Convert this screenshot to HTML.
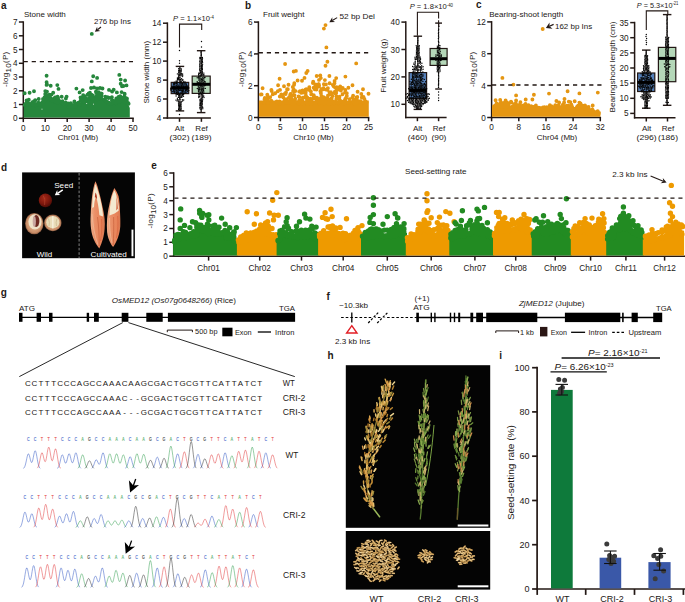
<!DOCTYPE html>
<html lang="en"><head><meta charset="utf-8"><title>Figure</title>
<style>
html,body{margin:0;padding:0;background:#fff}
svg{display:block}
text{font-family:'Liberation Sans', Arial, Helvetica, sans-serif;fill:#231815}
</style></head><body>
<svg width="685" height="602" viewBox="0 0 685 602">
<rect width="685" height="602" fill="#fff"/>
<text x="1" y="8.8" font-size="10" font-weight="bold">a</text>
<text x="24" y="16.9" font-size="8">Stone width</text>
<line x1="23.3" y1="21.3" x2="23.3" y2="119" stroke="#231815" stroke-width="1.5"/>
<line x1="18.9" y1="118.3" x2="23.3" y2="118.3" stroke="#231815" stroke-width="1.5"/>
<text x="17.5" y="121.3" font-size="8.2" text-anchor="end">0</text>
<line x1="18.9" y1="104.5" x2="23.3" y2="104.5" stroke="#231815" stroke-width="1.5"/>
<text x="17.5" y="107.5" font-size="8.2" text-anchor="end">1</text>
<line x1="18.9" y1="90.8" x2="23.3" y2="90.8" stroke="#231815" stroke-width="1.5"/>
<text x="17.5" y="93.8" font-size="8.2" text-anchor="end">2</text>
<line x1="18.9" y1="77" x2="23.3" y2="77" stroke="#231815" stroke-width="1.5"/>
<text x="17.5" y="80" font-size="8.2" text-anchor="end">3</text>
<line x1="18.9" y1="63.3" x2="23.3" y2="63.3" stroke="#231815" stroke-width="1.5"/>
<text x="17.5" y="66.3" font-size="8.2" text-anchor="end">4</text>
<line x1="18.9" y1="49.5" x2="23.3" y2="49.5" stroke="#231815" stroke-width="1.5"/>
<text x="17.5" y="52.5" font-size="8.2" text-anchor="end">5</text>
<line x1="18.9" y1="35.8" x2="23.3" y2="35.8" stroke="#231815" stroke-width="1.5"/>
<text x="17.5" y="38.8" font-size="8.2" text-anchor="end">6</text>
<line x1="18.9" y1="22" x2="23.3" y2="22" stroke="#231815" stroke-width="1.5"/>
<text x="17.5" y="25" font-size="8.2" text-anchor="end">7</text>
<line x1="22.6" y1="118.3" x2="133.8" y2="118.3" stroke="#231815" stroke-width="1.5"/>
<line x1="23.3" y1="118.3" x2="23.3" y2="122.1" stroke="#231815" stroke-width="1.5"/>
<text x="23.3" y="131.2" font-size="8.2" text-anchor="middle">0</text>
<line x1="45.2" y1="118.3" x2="45.2" y2="122.1" stroke="#231815" stroke-width="1.5"/>
<text x="45.2" y="131.2" font-size="8.2" text-anchor="middle">10</text>
<line x1="67.2" y1="118.3" x2="67.2" y2="122.1" stroke="#231815" stroke-width="1.5"/>
<text x="67.2" y="131.2" font-size="8.2" text-anchor="middle">20</text>
<line x1="89.1" y1="118.3" x2="89.1" y2="122.1" stroke="#231815" stroke-width="1.5"/>
<text x="89.1" y="131.2" font-size="8.2" text-anchor="middle">30</text>
<line x1="111.1" y1="118.3" x2="111.1" y2="122.1" stroke="#231815" stroke-width="1.5"/>
<text x="111.1" y="131.2" font-size="8.2" text-anchor="middle">40</text>
<line x1="133" y1="118.3" x2="133" y2="122.1" stroke="#231815" stroke-width="1.5"/>
<text x="133" y="131.2" font-size="8.2" text-anchor="middle">50</text>
<text x="78" y="139.7" font-size="8" text-anchor="middle">Chr01 (Mb)</text>
<text transform="translate(8.1 69.4) rotate(-90)" font-size="8" text-anchor="middle" textLength="35.2" lengthAdjust="spacing">-log<tspan dy="2.4">10</tspan><tspan dy="-2.4">(P)</tspan></text>
<path d="M23.8 117.6L23.8 103L25.8 102.7L27.8 102.4L29.8 102.1L31.8 102.3L33.8 102.6L35.8 102.8L37.8 103.1L39.8 102L41.8 100.7L43.8 99.5L45.8 96.8L47.8 95.4L49.8 96.3L51.8 97.1L53.8 98.2L55.8 99.3L57.8 100.8L59.8 102.4L61.8 103L63.8 103.4L65.8 103.8L67.8 104.3L69.8 104.7L71.8 104.5L73.8 104.2L75.8 104L77.8 103.7L79.8 102.4L81.8 100.9L83.8 99.5L85.8 98.4L87.8 97.3L89.8 96.3L91.8 96.1L93.8 96.1L95.8 96.1L97.8 96.1L99.8 96.1L101.8 97.1L103.8 98.2L105.8 99.3L107.8 100.2L109.8 101.1L111.8 102L113.8 101.2L115.8 100.4L117.8 99.5L119.8 99L121.8 98.7L123.8 98.3L125.8 100.2L127.8 103.6L129.8 107.9L129.8 117.6Z" fill="#26873c"/>
<path d="M71.8 104.8h0M120.9 99.5h0M77.6 103.9h0M44 99.8h0M90.3 93.9h0M34.6 104.3h0M34.2 101.3h0M96.9 99.4h0M127 98.8h0M92.8 95.5h0M41.2 104h0M79.8 105h0M44.6 100.7h0M27.9 103.2h0M70.6 103.5h0M78.8 102.9h0M76.8 103.6h0M72.4 106.1h0M128.6 103.7h0M112.2 101.2h0M57.6 102.7h0M54.8 101.7h0M104.5 99.7h0M112.9 102.9h0M124.5 96.5h0M24.8 104.9h0M119.5 99.8h0M126.8 102.4h0M32.4 102.2h0M105.8 101.2h0M33.8 104.1h0M125.1 98h0M37.1 104.9h0M35.3 105.3h0M107.7 102.5h0M83 100.9h0M44.6 97.1h0M38.4 102.6h0M36.9 104h0M46.9 97.3h0M125.8 98.5h0M56.4 97.3h0M46.7 96.7h0M113.7 100.9h0M35.2 100.2h0M47 97.3h0M105.2 100.5h0M55.6 102h0M34.2 102.7h0M50.1 95.9h0M63.5 104.2h0M124.6 99.5h0M84.6 96.7h0M43.8 102h0M119.3 97.1h0M50.7 99.2h0M101.7 93.6h0M45.2 94.1h0M116.6 99.8h0M68.6 106.7h0M28.8 99.7h0M49.6 94.8h0M51.5 94.6h0M86.8 99.7h0M43 98.9h0M31.9 104.3h0M83 98h0M88.7 98.8h0M120.2 101.3h0M26.5 104.4h0M71.2 107h0M43.1 101.3h0M84.3 101.8h0M62.5 101.3h0M126.8 100.8h0M96.7 95.8h0M39.4 104.9h0M26.6 100.5h0M97.7 92.2h0M27 102.3h0M75 103.4h0M58 97.8h0M32.6 102.7h0M101.5 93.8h0M101.5 95.6h0M107.3 97.3h0M61.4 102.4h0M118.5 96.9h0M68.2 103.4h0M114.6 100.9h0M89.8 97.5h0M85.4 98.2h0M33.1 102.2h0M128.1 103h0M100.5 97.7h0M101.3 96.5h0M70.6 103.5h0M33.5 101.6h0M27.9 102.4h0M74.8 106h0M97.4 96.5h0M88.7 93.5h0M51.4 100.2h0M56.1 98.6h0M45.9 99.3h0M119 98.5h0M70.8 103.1h0M58.8 101.1h0M45.4 98.2h0M108.6 98h0M116.4 101.3h0M85.4 100.3h0M38.9 103.1h0M111.9 100.3h0M98.8 92.3h0M53.6 100.6h0M71.7 106.2h0M47.1 96.1h0M89.9 96.6h0M57.6 98.8h0M127 102.3h0M32.5 105.1h0M115.6 103.3h0M98.5 95.9h0M56.9 98.5h0M26.8 104.9h0M72.1 106.9h0M111.1 103.6h0M39.4 104.9h0M90.2 96.9h0M90.3 95.2h0M108.8 97.8h0M96 98.6h0M74.2 106.2h0M25.9 103.4h0M99.1 98.8h0M53.1 99.3h0M97.3 96.3h0M88.7 95h0M65.7 102.8h0M119.1 102h0M121.8 97.4h0M38.3 103.8h0M89.9 92.8h0M64 103.7h0M116.3 98.5h0M123 99.2h0M92.5 98.6h0M99.9 93.6h0M91.5 94.6h0M47 91.6h0M126.8 98.5h0M80.6 100.4h0M58.1 98.7h0M113.8 102.7h0M33.4 103.4h0M82 99.4h0M75.5 106.5h0M109 103.4h0M108 102.6h0M59.6 101h0M39.4 104.6h0M78.5 102.6h0M112.2 101.3h0M123.2 98.9h0M123.5 101.3h0M47.8 95.5h0M55 97.5h0M91.2 96.3h0M111.9 97.2h0M57.6 96.8h0M112.1 91.5h0M47 84.5h0M124.6 93.8h0M84.3 96.1h0M80.5 97.5h0M87.5 94.7h0M124.7 94h0M66.6 96.6h0M83.2 95.2h0M96.3 92.9h0M80.8 97.9h0M123.4 86h0M53.2 92.8h0M38.7 99h0M109 89.9h0M74.4 101.5h0M45.3 91.1h0M120.2 96.1h0M105.3 96.6h0M45.6 93.4h0M95.9 91.7h0M46.6 75.8h0M46.6 82.2h0M46.6 84.9h0M50.7 85.8h0M57.3 85.1h0M58.5 88.9h0M34 91.2h0M29.6 92.8h0M24.7 93.3h0M61.7 96.8h0M65.9 98.5h0M76.4 88.6h0M79.6 92.4h0M82.7 90.1h0M93.2 76.3h0M97.1 77.9h0M91.8 81.4h0M91 88h0M94 87.5h0M97 88.5h0M100 88h0M102.5 88.5h0M119.3 74.9h0M120.7 79.6h0M125.1 80.5h0M120.7 83.7h0M122 86.3h0M126.5 85.4h0M113.7 89.8h0M116.9 92.4h0M121.6 92.1h0M91.8 33.9h0" stroke="#26873c" stroke-width="3.9" stroke-linecap="round" fill="none"/>
<line x1="23.6" y1="61.6" x2="133" y2="61.6" stroke="#231815" stroke-width="1.45" stroke-dasharray="4.2 3.9"/>
<text x="94" y="23.9" font-size="8" textLength="36.9" lengthAdjust="spacingAndGlyphs">276 bp Ins</text>
<line x1="101" y1="27" x2="97.5" y2="29.7" stroke="#231815" stroke-width="1.1"/>
<polygon points="94.9,31.8 97.1,26.7 97.5,29.7 100.4,30.9" fill="#231815"/>
<path d="M42 109.2h0M93.6 104.2h0M60.8 98.9h0M86.7 103.5h0" stroke="#fff" stroke-width="0.9" stroke-linecap="round" fill="none"/>
<line x1="167.4" y1="22.4" x2="167.4" y2="118.8" stroke="#231815" stroke-width="1.5"/>
<line x1="163" y1="118" x2="167.4" y2="118" stroke="#231815" stroke-width="1.5"/>
<text x="161.3" y="121" font-size="8.2" text-anchor="end">4</text>
<line x1="163" y1="99" x2="167.4" y2="99" stroke="#231815" stroke-width="1.5"/>
<text x="161.3" y="102" font-size="8.2" text-anchor="end">6</text>
<line x1="163" y1="80.1" x2="167.4" y2="80.1" stroke="#231815" stroke-width="1.5"/>
<text x="161.3" y="83" font-size="8.2" text-anchor="end">8</text>
<line x1="163" y1="61.1" x2="167.4" y2="61.1" stroke="#231815" stroke-width="1.5"/>
<text x="161.3" y="64.1" font-size="8.2" text-anchor="end">10</text>
<line x1="163" y1="42.2" x2="167.4" y2="42.2" stroke="#231815" stroke-width="1.5"/>
<text x="161.3" y="45.1" font-size="8.2" text-anchor="end">12</text>
<line x1="163" y1="23.2" x2="167.4" y2="23.2" stroke="#231815" stroke-width="1.5"/>
<text x="161.3" y="26.2" font-size="8.2" text-anchor="end">14</text>
<line x1="166.7" y1="118" x2="210.9" y2="118" stroke="#231815" stroke-width="1.5"/>
<line x1="179.5" y1="118" x2="179.5" y2="121.8" stroke="#231815" stroke-width="1.5"/>
<line x1="201.4" y1="118" x2="201.4" y2="121.8" stroke="#231815" stroke-width="1.5"/>
<text transform="translate(148.6 72.2) rotate(-90)" font-size="8" text-anchor="middle">Stone width (mm)</text>
<line x1="179.9" y1="66.4" x2="179.9" y2="82.4" stroke="#231815" stroke-width="1.0"/>
<line x1="179.9" y1="93.6" x2="179.9" y2="110.9" stroke="#231815" stroke-width="1.0"/>
<line x1="175.7" y1="66.4" x2="184.2" y2="66.4" stroke="#231815" stroke-width="1.4"/>
<line x1="175.7" y1="110.9" x2="184.2" y2="110.9" stroke="#231815" stroke-width="1.4"/>
<rect x="171.2" y="82.4" width="17.5" height="11.2" fill="#5580b9" stroke="#231815" stroke-width="1.2"/>
<path d="M179.9 67h0M178.6 68.8h0M180 68.6h0M181.4 69h0M178.7 70.5h0M179.9 70h0M181.2 70.4h0M178.6 72h0M179.9 71.2h0M181.2 71.7h0M178.6 73.1h0M180 72.6h0M181.3 73.4h0M177.4 73.9h0M178.7 74.7h0M180.1 73.9h0M181.2 74.5h0M182.6 74h0M178.5 75.9h0M179.8 75.3h0M181.2 75.8h0M182.7 75.3h0M178.5 77.2h0M182.6 76.6h0M177.4 78h0M178.4 78.5h0M179.9 77.8h0M181.5 78.6h0M177.4 79.3h0M178.5 79.8h0M179.9 79.4h0M181 79.5h0M182.8 79.4h0M176 81.3h0M177.2 80.7h0M180 80.7h0M181.3 81.3h0M182.4 80.6h0M183.7 81.2h0M174.3 82.2h0M176.1 82.5h0M177.3 81.9h0M178.5 82.6h0M180.2 82h0M181.1 82.6h0M183.8 82.4h0M185.1 81.9h0M173.4 83.8h0M174.7 83.5h0M176 83.8h0M177.2 83.3h0M179.9 83.5h0M181.3 83.8h0M182.4 83.5h0M183.9 83.8h0M185.2 83.3h0M186.5 83.9h0M173.5 85h0M174.6 84.6h0M176.1 85.4h0M177.2 84.7h0M178.6 85.1h0M180 84.8h0M181.2 85.2h0M182.5 84.7h0M183.8 85.3h0M185.1 84.8h0M186.5 85.3h0M172 86.1h0M173.5 86.6h0M174.6 86.1h0M176 86.6h0M177.4 86.2h0M178.3 86.5h0M179.7 86.2h0M181.2 86.6h0M182.2 86h0M183.7 86.5h0M185.2 86.1h0M186.4 86.6h0M187.8 86h0M170.7 88.2h0M172.4 87.4h0M173.4 88.2h0M174.6 87.5h0M175.9 88h0M177.4 87.5h0M178.5 88.1h0M180 87.5h0M181.4 87.9h0M182.5 87.5h0M183.8 88.1h0M185 87.3h0M186.5 88.1h0M187.6 87.4h0M188.9 87.9h0M170.8 89.3h0M171.8 88.9h0M173.4 89.3h0M174.6 88.9h0M175.9 89.2h0M177.2 88.9h0M178.6 89.4h0M180.1 88.9h0M181.1 89.3h0M182.6 88.8h0M183.7 89.3h0M185.2 88.9h0M186.5 89.3h0M187.7 88.7h0M171 90.6h0M173.4 90.8h0M174.7 90.1h0M176.1 90.6h0M177.2 90.2h0M178.7 90.7h0M179.9 90.2h0M181.2 90.4h0M182.4 90.2h0M183.5 90.7h0M185.3 90.2h0M186.3 90.6h0M187.5 90.1h0M188.9 90.6h0M172.2 91.6h0M173.4 91.9h0M174.7 91.5h0M176.1 92h0M177.3 91.7h0M178.5 92.2h0M181.3 92h0M182.5 91.4h0M184 92h0M185.2 91.6h0M186.4 92.1h0M187.6 91.6h0M174.6 92.7h0M176.1 93.3h0M177.1 92.8h0M178.6 93.4h0M180.1 92.9h0M181.2 93.3h0M182.6 92.8h0M183.7 93.4h0M185.2 92.9h0M176.1 94.8h0M177.4 94.3h0M178.6 94.7h0M179.7 94.4h0M181.1 94.6h0M182.6 94.3h0M183.7 94.6h0M176.1 96.1h0M178.7 96h0M179.8 95.6h0M181.2 96h0M182.4 95.3h0M183.5 96.2h0M178.6 97.4h0M180 96.9h0M181.2 97.4h0M182.2 96.9h0M177.4 98.3h0M179.8 98.3h0M175.9 100.1h0M177.4 99.6h0M178.3 100h0M180 99.5h0M182.3 99.6h0M183.7 100h0M177.1 101h0M178.7 101.5h0M181.2 101.4h0M182.6 101h0M178.5 102.9h0M179.9 102.3h0M181.2 102.8h0M178.6 104.2h0M180 103.7h0M181.1 104.3h0M178.7 105.4h0M179.9 104.9h0M181 105.6h0M178.8 106.8h0M179.9 106.3h0M181.2 106.8h0M178.7 108.2h0M179.9 107.8h0M181.2 108.2h0M178.6 109.5h0M180 109.1h0M181.1 109.7h0M179.8 110.4h0M179.5 50.5h0M179.5 60.8h0M179.5 63.2h0M179.5 114.5h0" stroke="#050505" stroke-width="1.4" stroke-linecap="round" fill="none"/>
<line x1="171.2" y1="87.8" x2="188.7" y2="87.8" stroke="#000" stroke-width="3.0"/>
<line x1="201.2" y1="50.7" x2="201.2" y2="76.1" stroke="#231815" stroke-width="1.0"/>
<line x1="201.2" y1="93.4" x2="201.2" y2="112.6" stroke="#231815" stroke-width="1.0"/>
<line x1="196.9" y1="50.7" x2="205.4" y2="50.7" stroke="#231815" stroke-width="1.4"/>
<line x1="196.9" y1="112.6" x2="205.4" y2="112.6" stroke="#231815" stroke-width="1.4"/>
<rect x="192.2" y="76.1" width="18" height="17.3" fill="#b4d7b8" stroke="#231815" stroke-width="1.2"/>
<path d="M201.1 51.6h0M201 52.8h0M201.3 54.3h0M201.2 55.4h0M199.9 57.4h0M201.1 57.1h0M202.4 57.4h0M199.9 58.5h0M200.9 58.2h0M202.5 58.7h0M199.9 60.1h0M201.2 59.6h0M202.4 60h0M199.8 61.5h0M201.2 61h0M202.4 61.4h0M199.9 62.9h0M201.2 62.6h0M202.6 62.6h0M199.8 64.2h0M201.3 63.5h0M202.6 64.2h0M199.8 65.3h0M201.3 65.2h0M202.4 65.6h0M199.7 66.7h0M201.2 66.4h0M202.3 66.8h0M199.8 68.3h0M201.3 67.7h0M202.4 68.3h0M199.6 69.7h0M201.3 68.8h0M202.4 69.4h0M199.9 70.8h0M201 70.3h0M202.4 70.9h0M200 72.3h0M201 71.7h0M202.5 72.2h0M198.6 73.1h0M199.8 73.4h0M201.1 72.9h0M202.4 73.6h0M203.9 73.1h0M198.6 74.5h0M200 75.1h0M201.3 74.4h0M202.6 75h0M203.8 74.4h0M198.6 75.9h0M200 76.3h0M201.2 75.7h0M203.9 75.6h0M197.2 77.7h0M198.6 77.2h0M200 77.6h0M202.3 77.6h0M203.9 77.3h0M205 77.5h0M198.8 78.3h0M200 78.9h0M201.2 78.7h0M202.4 79h0M203.8 78.5h0M198.8 80h0M200 80.2h0M201.5 79.7h0M202.6 80.3h0M203.9 79.9h0M197.2 81.6h0M199.8 81.7h0M201.1 81.1h0M202.2 81.7h0M204 81.3h0M205.1 81.7h0M197.3 82.8h0M198.6 82.7h0M199.9 82.9h0M201.1 82.7h0M202.6 83.1h0M203.8 82.5h0M205.2 83.1h0M195.8 84.1h0M198.6 83.9h0M199.9 84.4h0M201.1 83.9h0M202.6 84.4h0M203.7 83.9h0M206.6 83.9h0M198.6 85.1h0M200 85.7h0M201.2 85.3h0M202.3 85.9h0M203.9 85.2h0M205.1 85.5h0M198.3 86.7h0M199.9 87.2h0M201.1 86.6h0M202.6 87.1h0M203.9 86.6h0M197.3 88.5h0M198.8 87.9h0M199.9 88.7h0M201.3 88h0M202.5 88.6h0M203.8 87.9h0M205.3 88.4h0M198.5 89.2h0M199.7 89.8h0M201.2 89.4h0M202.3 89.8h0M203.6 89.3h0M198.5 90.7h0M199.9 91.1h0M201.3 90.7h0M202.6 91.2h0M203.6 90.5h0M198.5 91.8h0M200 92.5h0M201.2 92h0M202.5 92.4h0M203.9 92h0M198.7 93.4h0M199.8 93.8h0M201.2 93.4h0M202.7 94.1h0M203.8 93.5h0M198.7 94.6h0M199.8 95.1h0M201.3 94.6h0M202.5 95.2h0M198.6 96.1h0M199.7 96.6h0M202.6 96.7h0M203.7 96h0M198.8 97.5h0M202.3 97.7h0M204 97.5h0M200 99.4h0M201.2 98.8h0M202.7 99.3h0M200 100.5h0M201.2 100.2h0M202.5 100.8h0M200 102h0M201.3 101.5h0M202.4 101.8h0M200 103.4h0M201.1 102.7h0M202.3 103.2h0M199.9 104.8h0M200.9 104.1h0M202.3 104.6h0M199.9 105.8h0M201.2 105.5h0M202.5 106.1h0M199.9 107.5h0M201 106.7h0M202.7 107.5h0M200 108.8h0M201.3 108.1h0M202.8 108.8h0M201.1 109.4h0M201.1 110.9h0M201.5 41.5h0M201.5 47h0" stroke="#050505" stroke-width="1.4" stroke-linecap="round" fill="none"/>
<line x1="192.2" y1="84.3" x2="210.2" y2="84.3" stroke="#000" stroke-width="3.0"/>
<path d="M179.5 47.4V24.1H201.7V29.9" fill="none" stroke="#231815" stroke-width="1.1"/>
<text x="173" y="21.4" font-size="8" textLength="40.8" lengthAdjust="spacingAndGlyphs"><tspan font-style="italic">P</tspan> = 1.1×10<tspan dy="-2.3" font-size="4.5">-4</tspan></text>
<text x="179.5" y="130.8" font-size="8" text-anchor="middle">Alt</text>
<text x="179.5" y="140.3" font-size="8" text-anchor="middle" textLength="20" lengthAdjust="spacingAndGlyphs">(302)</text>
<text x="201.6" y="130.8" font-size="8" text-anchor="middle">Ref</text>
<text x="201.6" y="140.3" font-size="8" text-anchor="middle" textLength="20" lengthAdjust="spacingAndGlyphs">(189)</text>
<text x="245" y="8.8" font-size="10" font-weight="bold">b</text>
<text x="263" y="16.9" font-size="8" textLength="41.5" lengthAdjust="spacingAndGlyphs">Fruit weight</text>
<line x1="258.4" y1="21.3" x2="258.4" y2="118.2" stroke="#231815" stroke-width="1.5"/>
<line x1="254" y1="117.5" x2="258.4" y2="117.5" stroke="#231815" stroke-width="1.5"/>
<text x="252.6" y="120.5" font-size="8.2" text-anchor="end">0</text>
<line x1="254" y1="85.7" x2="258.4" y2="85.7" stroke="#231815" stroke-width="1.5"/>
<text x="252.6" y="88.7" font-size="8.2" text-anchor="end">2</text>
<line x1="254" y1="53.9" x2="258.4" y2="53.9" stroke="#231815" stroke-width="1.5"/>
<text x="252.6" y="56.9" font-size="8.2" text-anchor="end">4</text>
<line x1="254" y1="22.1" x2="258.4" y2="22.1" stroke="#231815" stroke-width="1.5"/>
<text x="252.6" y="25.1" font-size="8.2" text-anchor="end">6</text>
<line x1="257.6" y1="117.5" x2="369.3" y2="117.5" stroke="#231815" stroke-width="1.5"/>
<line x1="258.4" y1="117.5" x2="258.4" y2="121.3" stroke="#231815" stroke-width="1.5"/>
<text x="258.4" y="130.4" font-size="8.2" text-anchor="middle">0</text>
<line x1="280.4" y1="117.5" x2="280.4" y2="121.3" stroke="#231815" stroke-width="1.5"/>
<text x="280.4" y="130.4" font-size="8.2" text-anchor="middle">5</text>
<line x1="302.5" y1="117.5" x2="302.5" y2="121.3" stroke="#231815" stroke-width="1.5"/>
<text x="302.5" y="130.4" font-size="8.2" text-anchor="middle">10</text>
<line x1="324.5" y1="117.5" x2="324.5" y2="121.3" stroke="#231815" stroke-width="1.5"/>
<text x="324.5" y="130.4" font-size="8.2" text-anchor="middle">15</text>
<line x1="346.6" y1="117.5" x2="346.6" y2="121.3" stroke="#231815" stroke-width="1.5"/>
<text x="346.6" y="130.4" font-size="8.2" text-anchor="middle">20</text>
<line x1="368.6" y1="117.5" x2="368.6" y2="121.3" stroke="#231815" stroke-width="1.5"/>
<text x="368.6" y="130.4" font-size="8.2" text-anchor="middle">25</text>
<text x="313.5" y="139.7" font-size="8" text-anchor="middle">Chr10 (Mb)</text>
<text transform="translate(243.5 69.4) rotate(-90)" font-size="8" text-anchor="middle" textLength="35.2" lengthAdjust="spacing">-log<tspan dy="2.4">10</tspan><tspan dy="-2.4">(P)</tspan></text>
<path d="M258.9 116.8L258.9 100.6L260.9 100.6L262.9 100.6L264.9 100.6L266.9 100.6L268.9 100.6L270.9 100.6L272.9 100.6L274.9 100.6L276.9 100.6L278.9 100.6L280.9 100.6L282.9 100.6L284.9 100.6L286.9 100.6L288.9 100.6L290.9 100.6L292.9 100.6L294.9 100.6L296.9 100.6L298.9 100.6L300.9 100.6L302.9 100.6L304.9 100.6L306.9 100.6L308.9 100.6L310.9 100.6L312.9 100.6L314.9 100.6L316.9 100.6L318.9 100.6L320.9 100.6L322.9 100.6L324.9 100.6L326.9 100.6L328.9 100.6L330.9 100.6L332.9 100.6L334.9 100.6L336.9 100.6L338.9 100.6L340.9 100.6L342.9 100.6L344.9 100.6L346.9 100.6L348.9 100.6L350.9 100.6L352.9 100.6L354.9 100.6L356.9 100.6L358.9 100.6L360.9 100.6L362.9 100.6L364.9 100.6L366.9 100.6L368.8 100.6L368.8 116.8Z" fill="#e59612"/>
<path d="M286.9 99.1h0M307 99.5h0M317 101.8h0M328 95.5h0M352.4 97.6h0M294 91.5h0M355.7 102.7h0M338.3 103.2h0M345.1 100.4h0M333.8 102h0M314.5 96.9h0M333.9 103.3h0M271.3 100.6h0M315.5 102.6h0M279.8 96.5h0M270.2 97.1h0M295.2 98.7h0M306.3 103.6h0M339.7 102.3h0M346.8 93.2h0M334.9 91.6h0M310.5 100h0M328.8 101.3h0M321.4 98.6h0M365.7 101.5h0M339.6 99.8h0M300.4 102.1h0M328.7 103.2h0M324.4 103.5h0M360.3 101.2h0M325.9 84.4h0M305.3 96.8h0M299.3 97h0M320.4 91.2h0M291.8 101.9h0M264.5 99.3h0M340.7 89.1h0M361.8 97.5h0M306.2 89.1h0M309.1 103.5h0M316.9 97.8h0M332 101h0M322.7 89.4h0M285.6 94.1h0M298.6 96.5h0M320.9 93.3h0M341.2 101.9h0M354.7 103.5h0M289.1 97.3h0M267.7 99.8h0M319.3 99h0M311.5 100.1h0M267.9 98.6h0M327.2 101.6h0M305.7 92.8h0M319.1 85.5h0M306 103.2h0M354.4 103.5h0M320.8 92h0M331.3 100.2h0M290.4 100.8h0M338.2 103h0M336.4 88.7h0M292.8 100.1h0M286.7 101h0M299.1 100.6h0M318.6 84.2h0M330.2 103.3h0M318.9 103.2h0M356.9 99.5h0M329.9 101.5h0M342.5 94.3h0M302.4 90.8h0M332.5 95.9h0M316.4 89.5h0M305.4 102.8h0M300.4 102.5h0M305.7 89.4h0M343.6 103.5h0M309.4 89.3h0M263.8 103.1h0M283.3 97.4h0M324.1 102h0M290.2 94.8h0M312 103.5h0M315.6 84.6h0M330.9 103.6h0M310.9 91.4h0M336.9 102.6h0M315.6 84.5h0M337.2 98.2h0M323.2 100.2h0M345.1 92.4h0M316.6 88.6h0M293.5 103.4h0M292.9 95.2h0M336.5 96.5h0M309.3 87.3h0M346.2 97.7h0M291.2 98.2h0M292.1 100.2h0M331.8 101.9h0M338.8 89.3h0M320.6 99.7h0M349.1 103.1h0M336.3 99.3h0M276.8 101.4h0M306 95.8h0M301.5 100.2h0M325.6 99.7h0M314.9 89.4h0M325.9 89.6h0M327.6 103.2h0M335.1 87.6h0M298.9 103.1h0M320.4 100.9h0M349.6 99.3h0M268.1 103.1h0M330.9 92.3h0M339.5 96.7h0M346.6 102.6h0M310.4 99.6h0M321.4 95.9h0M324.7 98.1h0M327.2 89.7h0M341 89.2h0M304 97.6h0M316.5 86.7h0M294.5 95.2h0M324.4 100.1h0M323.9 102.7h0M308.1 99.7h0M316.7 100.3h0M302.6 103.4h0M331.7 98.1h0M346.8 95.9h0M321.1 103h0M345.4 98.7h0M362.5 102.9h0M292.2 103.4h0M302.8 97.6h0M264.8 98h0M293.1 91.1h0M282.2 95h0M356.7 97.3h0M298.1 102.7h0M265.3 99.5h0M281.1 102.6h0M331.6 99.1h0M331.3 94.4h0M284.6 93.9h0M331.9 93.4h0M307.4 97.6h0M290.6 93.9h0M341.5 101.5h0M319 86.2h0M366.5 102.5h0M340.9 90.5h0M313.8 96h0M329.5 92.3h0M333.7 86.2h0M345.3 99.3h0M313.7 95.1h0M337 90.1h0M279.3 103.6h0M313.4 98.3h0M321.3 89.1h0M285.6 101.7h0M326.9 100.8h0M323.4 88.2h0M278.4 103.1h0M344.8 100.3h0M299.2 91.6h0M340.3 101.9h0M356 101.6h0M292.1 103.4h0M284.7 99.2h0M325.8 98.3h0M330 99.4h0M323.6 97.1h0M277.6 102.8h0M310.4 98.6h0M353 101.5h0M299 103.6h0M279.5 101.4h0M288.9 102.9h0M357.8 102.2h0M301.4 92.9h0M315.9 98.8h0M285.6 103h0M324.1 100h0M305.7 102.9h0M336.2 93h0M331.8 101.8h0M303.6 92.4h0M284.3 101.5h0M283.2 103.6h0M327.9 88.3h0M353.6 99.1h0M302.2 100.5h0M295.3 101.7h0M311.2 94.2h0M285.8 101.4h0M305.5 97.1h0M335.6 93.4h0M299.2 100.4h0M323.1 99.8h0M287.2 101.2h0M326.3 99.1h0M322.1 89.6h0M327.6 98.1h0M304.7 92.7h0M357.3 97h0M275.2 93.2h0M293.6 89.2h0M364.4 99h0M281.3 94.4h0M332.9 85h0M260.9 94.5h0M302.6 90.5h0M313.2 81.6h0M319 79.9h0M320.3 75.4h0M363.5 97h0M297.6 80.5h0M294.1 84.8h0M334.6 81h0M363 89.3h0M277.8 91.2h0M312.9 83h0M300 91.2h0M340.2 86.4h0M286 92.4h0M295.3 91h0M315.3 85.8h0M267.6 98h0M271.7 91.1h0M272.8 94.3h0M342.7 88h0M278.1 85.3h0M353.1 95.8h0M287.8 89.3h0M345.3 90h0M336.7 87.3h0M325.5 25.1h0M323.9 28.6h0M326.4 47.4h0M327.4 61.7h0M325.5 65.8h0M285.1 64h0M356.2 63.4h0M293.7 71.5h0M295.9 70.9h0M307.6 70.9h0M306.3 73h0M279.6 78.7h0M304.5 77.9h0M302 80.7h0M262.6 88.3h0M271.4 89.9h0M280 89.9h0M267.3 94.8h0M261.6 94.4h0M284 86.2h0M288.5 84.8h0M294.3 83.2h0M292.8 86.9h0M287.1 89.3h0M316.7 76h0M320.8 78.1h0M324.9 80.1h0M323.9 84.2h0M329.4 76h0M336.2 78.1h0M334.5 83.2h0M345.4 76.6h0M352.5 85.2h0M348.4 87.7h0M357.6 91.8h0M361.3 94h0M368.5 93.8h0M341.3 88.9h0M329.6 83.2h0M318.8 84.2h0M313.7 87.7h0M308.6 89.7h0M303.5 92.4h0" stroke="#e59612" stroke-width="3.9" stroke-linecap="round" fill="none"/>
<line x1="258.7" y1="52.7" x2="368.5" y2="52.7" stroke="#231815" stroke-width="1.45" stroke-dasharray="4.2 3.9"/>
<text x="339.4" y="18.9" font-size="8" textLength="35.5" lengthAdjust="spacingAndGlyphs">52 bp Del</text>
<line x1="337.2" y1="17.6" x2="332.3" y2="20.5" stroke="#231815" stroke-width="1.1"/>
<polygon points="329.3,22.3 332.3,17.3 332.3,20.5 335.1,22.1" fill="#231815"/>
<line x1="405.8" y1="21.3" x2="405.8" y2="118.2" stroke="#231815" stroke-width="1.5"/>
<line x1="401.4" y1="104.3" x2="405.8" y2="104.3" stroke="#231815" stroke-width="1.5"/>
<text x="399.7" y="107.3" font-size="8.2" text-anchor="end">10</text>
<line x1="401.4" y1="76.9" x2="405.8" y2="76.9" stroke="#231815" stroke-width="1.5"/>
<text x="399.7" y="79.9" font-size="8.2" text-anchor="end">20</text>
<line x1="401.4" y1="49.5" x2="405.8" y2="49.5" stroke="#231815" stroke-width="1.5"/>
<text x="399.7" y="52.5" font-size="8.2" text-anchor="end">30</text>
<line x1="401.4" y1="22.1" x2="405.8" y2="22.1" stroke="#231815" stroke-width="1.5"/>
<text x="399.7" y="25.1" font-size="8.2" text-anchor="end">40</text>
<line x1="405.1" y1="117.4" x2="446.6" y2="117.4" stroke="#231815" stroke-width="1.5"/>
<line x1="417.4" y1="117.4" x2="417.4" y2="121.2" stroke="#231815" stroke-width="1.5"/>
<line x1="438.6" y1="117.4" x2="438.6" y2="121.2" stroke="#231815" stroke-width="1.5"/>
<text transform="translate(386.4 65.8) rotate(-90)" font-size="8" text-anchor="middle" textLength="54" lengthAdjust="spacingAndGlyphs">Fruit weight (g)</text>
<line x1="417.8" y1="36.2" x2="417.8" y2="72.6" stroke="#231815" stroke-width="1.0"/>
<line x1="417.8" y1="98.5" x2="417.8" y2="109.4" stroke="#231815" stroke-width="1.0"/>
<line x1="413.6" y1="36.2" x2="422.1" y2="36.2" stroke="#231815" stroke-width="1.4"/>
<line x1="413.6" y1="109.4" x2="422.1" y2="109.4" stroke="#231815" stroke-width="1.4"/>
<rect x="409.1" y="72.6" width="17.5" height="25.9" fill="#5580b9" stroke="#231815" stroke-width="1.2"/>
<path d="M418 37.1h0M417.8 38.3h0M417.9 39.9h0M417.9 41h0M417.7 42.4h0M417.7 43.7h0M416.2 45.6h0M417.9 45.1h0M419.3 45.7h0M416.5 46.9h0M417.9 46.4h0M419 47h0M416.6 48.3h0M417.8 47.9h0M419.2 48.3h0M416.6 49.6h0M417.9 49h0M419.1 49.7h0M416.4 51h0M417.9 50.4h0M419 51h0M416.5 52.5h0M417.8 51.7h0M419.2 52.4h0M416.5 53.7h0M417.9 53.2h0M419.1 53.7h0M416.3 54.9h0M417.9 54.7h0M419.2 55.1h0M416.5 56.4h0M417.8 55.8h0M419.1 56.3h0M415 57.3h0M416.5 57.8h0M417.9 57.3h0M419.2 57.7h0M420.4 57.1h0M415.1 58.8h0M416.3 59.2h0M417.7 58.7h0M419.1 59h0M420.5 58.7h0M415.2 59.8h0M417.7 60h0M419.3 60.4h0M420.5 59.8h0M415.2 61.4h0M417.6 61.2h0M419 61.8h0M420.3 61.4h0M413.9 63.1h0M415.2 62.6h0M419.2 63.2h0M420.4 62.5h0M421.9 63.2h0M414 64.4h0M415.3 63.9h0M417.9 64h0M420.5 64.1h0M415.1 65.5h0M416.6 66.1h0M417.8 65.3h0M419 65.9h0M421.7 65.7h0M412.6 66.5h0M413.9 67.1h0M415.1 66.5h0M416.4 67.2h0M417.8 66.9h0M419.2 67.3h0M420.4 66.7h0M421.7 67.2h0M423.1 66.7h0M414.1 68.6h0M415.3 68h0M416.6 68.6h0M420.4 67.9h0M421.4 68.6h0M412.7 69.5h0M413.9 69.8h0M415.2 69.4h0M416.5 70h0M418 69.5h0M419 70.1h0M420.3 69.5h0M421.7 69.9h0M423.1 69.3h0M413.8 71.3h0M415.2 70.9h0M417.8 70.8h0M420.5 70.7h0M412.7 72.1h0M413.8 72.5h0M416.4 72.7h0M417.8 72.1h0M419.1 72.7h0M420.3 72.1h0M421.8 72.5h0M422.9 72h0M412.7 73.5h0M413.9 74h0M415.1 73.4h0M416.5 73.9h0M417.8 73.2h0M421.7 74.1h0M412.5 74.9h0M414 75.1h0M415.2 74.7h0M416.4 75.4h0M417.9 74.7h0M419.4 75.2h0M420.7 74.5h0M421.7 75.1h0M423 74.9h0M412.5 76.2h0M413.7 76.7h0M415.2 76.2h0M416.5 76.6h0M417.7 76.1h0M419.1 76.6h0M420.3 76.1h0M421.8 76.7h0M423 76.1h0M412.6 77.4h0M414 78h0M415.3 77.5h0M416.6 78h0M417.8 77.3h0M419.1 77.9h0M420.4 77.5h0M421.7 77.9h0M411.4 79.2h0M412.7 78.8h0M413.8 79.3h0M416.4 79.4h0M418.9 79.5h0M420.5 78.7h0M421.6 79.4h0M422.8 78.7h0M424.3 79.4h0M412.6 80.2h0M413.9 80.8h0M415.1 80.2h0M416.6 80.9h0M417.6 80.1h0M418.9 80.7h0M420.4 80.2h0M421.6 80.7h0M409.9 81.6h0M411.3 82.2h0M412.5 81.5h0M413.7 82.1h0M415.3 81.6h0M416.5 82.1h0M417.9 81.6h0M419.2 82.1h0M420.2 81.7h0M422.9 81.4h0M425.6 81.8h0M411.2 83.4h0M412.5 82.8h0M413.7 83.4h0M415.2 82.9h0M416.4 83.3h0M417.7 83h0M419 83.2h0M420.4 82.7h0M421.6 83.3h0M424.3 83.5h0M410 84.1h0M411.2 84.8h0M412.5 84.4h0M414.1 84.8h0M415 84.2h0M416.6 84.8h0M417.7 84h0M419.1 84.7h0M420.6 84.1h0M421.6 84.9h0M422.9 84.1h0M424.2 84.5h0M425.4 84.3h0M411.2 86.2h0M414 86.1h0M415.2 85.5h0M416.3 86h0M417.8 85.7h0M419.2 86.1h0M420.3 85.8h0M421.6 86.2h0M422.9 85.5h0M424.2 86.1h0M425.6 85.6h0M409.8 86.9h0M411.3 87.4h0M412.6 87h0M414.1 87.4h0M415.2 86.9h0M416.2 87.5h0M418 87.2h0M419.1 87.5h0M420.3 86.9h0M421.8 87.4h0M423 86.9h0M424.4 87.5h0M425.5 86.9h0M408.6 88.8h0M410.1 88.3h0M411.5 88.8h0M412.6 88.4h0M414 89h0M415.2 88.3h0M416.4 88.8h0M418 88.4h0M419.1 88.8h0M420.5 88.2h0M421.7 88.8h0M423.1 88.4h0M424.4 88.7h0M425.8 88.5h0M426.7 88.8h0M409.9 89.9h0M411.5 90.1h0M413.8 90h0M415.3 89.7h0M416.5 90.2h0M417.7 89.7h0M419.3 90.1h0M420.4 89.6h0M421.8 90.2h0M423 89.5h0M424.3 90h0M425.6 89.7h0M410.1 91h0M411.3 91.7h0M412.7 91.2h0M414 91.5h0M415.1 90.9h0M416.4 91.6h0M417.6 91h0M419.2 91.5h0M420.6 90.9h0M421.7 91.3h0M422.9 91h0M425.6 91.1h0M411.2 92.9h0M412.8 92.3h0M414 92.8h0M415.1 92.3h0M416.4 92.7h0M417.8 92.3h0M419.1 92.8h0M420.2 92.6h0M421.5 92.9h0M423 92.4h0M424.2 92.8h0M425.4 92.2h0M406 94.3h0M407.4 93.6h0M408.8 94.2h0M409.8 93.7h0M411.3 94.2h0M412.6 93.7h0M413.9 94h0M415.3 93.8h0M416.4 94.1h0M418 93.7h0M418.8 94h0M420.4 93.6h0M421.7 94.3h0M422.8 93.6h0M424.1 94.2h0M425.5 93.7h0M426.9 94.2h0M428.1 93.8h0M429.3 94.2h0M408.7 95.4h0M410 95h0M411.5 95.4h0M412.7 94.9h0M413.8 95.7h0M415.3 95h0M416.6 95.7h0M419.1 95.6h0M420.2 95.1h0M421.7 95.6h0M423.1 95.3h0M424.3 95.5h0M425.7 95h0M426.7 95.4h0M407.4 96.5h0M411.3 97h0M413.9 96.8h0M415 96.4h0M416.4 96.8h0M417.8 96.4h0M419.1 96.9h0M420.2 96.3h0M421.7 96.9h0M423 96.3h0M424.1 97.1h0M425.7 96.7h0M426.9 97h0M428.1 96.5h0M406 98.2h0M407.3 97.7h0M408.9 98.4h0M410 97.8h0M411.4 98.2h0M412.8 97.7h0M413.8 98.3h0M415.2 97.8h0M416.4 98.2h0M417.8 97.8h0M419.2 98.3h0M420.4 97.7h0M422 98.2h0M423.1 97.7h0M424.2 98.3h0M425.6 97.7h0M426.9 98.1h0M429.4 98.3h0M408.9 99.4h0M409.9 99h0M411.3 99.5h0M412.7 99.1h0M413.8 99.7h0M415.7 99h0M416.5 99.6h0M419.2 99.5h0M420.5 99.1h0M421.8 99.7h0M423.1 99.2h0M424.4 99.5h0M425.6 98.9h0M426.8 99.6h0M428.3 99h0M407.5 100.5h0M408.7 100.9h0M409.9 100.5h0M411.4 100.9h0M412.5 100.5h0M413.9 101h0M415.4 100.3h0M416.4 101h0M417.9 100.6h0M419.1 101.1h0M420.3 100.4h0M421.6 100.9h0M422.9 100.5h0M424.4 100.9h0M425.4 100.4h0M426.9 101.2h0M428.2 100.4h0M408.7 102.4h0M410.1 101.8h0M411.2 102.3h0M412.7 101.8h0M413.6 102.5h0M415.3 101.7h0M416.3 102.4h0M418.1 102h0M419.1 102.3h0M420.6 101.8h0M421.5 102.4h0M423 101.8h0M424.5 102.3h0M425.6 101.8h0M426.8 102.3h0M410 103h0M411.2 103.7h0M412.5 103.2h0M413.9 103.6h0M415.2 103.1h0M416.5 103.6h0M417.7 103.2h0M419.2 103.5h0M420.4 103.3h0M421.8 103.8h0M423 103.4h0M424.1 103.4h0M425.5 103.1h0M412.8 104.5h0M413.8 104.9h0M415.1 104.4h0M416.3 105.1h0M417.9 104.6h0M419.4 104.8h0M420.4 104.7h0M421.7 105.1h0M423.1 104.6h0M414 106.5h0M415.5 105.7h0M416.5 106.5h0M417.9 105.8h0M419.1 106.2h0M420.4 105.9h0M421.7 106.3h0M415 107.3h0M416.5 107.7h0M417.8 107.1h0M419 107.7h0M420.7 107.3h0M416.5 108.9h0M417.8 108.5h0M419.1 109.1h0M420.4 108.5h0" stroke="#050505" stroke-width="1.4" stroke-linecap="round" fill="none"/>
<line x1="409.1" y1="90.4" x2="426.6" y2="90.4" stroke="#000" stroke-width="3.0"/>
<line x1="438.6" y1="23.1" x2="438.6" y2="48.5" stroke="#231815" stroke-width="1.0" stroke-dasharray="1.6 1.4"/>
<line x1="438.6" y1="65.4" x2="438.6" y2="89" stroke="#231815" stroke-width="1.0" stroke-dasharray="1.6 1.4"/>
<line x1="435.2" y1="23.1" x2="442" y2="23.1" stroke="#231815" stroke-width="1.4"/>
<line x1="435.2" y1="89" x2="442" y2="89" stroke="#231815" stroke-width="1.4"/>
<rect x="430.1" y="48.5" width="17" height="16.9" fill="#b4d7b8" stroke="#231815" stroke-width="1.2"/>
<path d="M438.6 23.8h0M438.7 25.2h0M438.9 26.4h0M438.6 28.1h0M438.7 29.2h0M438.5 30.7h0M438.7 32.1h0M438.4 33.3h0M438.6 34.6h0M438.5 36h0M438.7 37.3h0M438.4 38.5h0M438.5 40.1h0M438.5 41.4h0M438.8 42.7h0M438.6 44.1h0M437.3 46.1h0M438.7 45.5h0M440 45.8h0M437.4 47.4h0M438.5 46.7h0M439.8 47.5h0M437.2 48.6h0M438.6 48.1h0M439.9 48.7h0M437.3 50.1h0M438.9 49.7h0M439.8 49.9h0M437.4 51.3h0M438.5 50.9h0M440.2 51.4h0M437.4 52.6h0M438.5 52.4h0M439.9 52.9h0M437.3 54.1h0M438.8 53.5h0M439.9 54h0M435.9 54.9h0M437.3 55.5h0M438.6 55h0M439.9 55.5h0M441.4 55h0M435.9 56.4h0M438.7 56.3h0M439.9 56.7h0M441.3 56.3h0M437.3 58.4h0M438.5 57.8h0M440.1 58.1h0M437.2 59.5h0M438.4 59h0M440.1 59.5h0M435.9 60.3h0M437.3 60.9h0M438.6 60.4h0M440 60.8h0M441 60.4h0M437.2 62.3h0M438.6 61.8h0M439.7 62.3h0M437.2 63.5h0M438.5 63.1h0M440 63.6h0M437.3 64.7h0M438.7 64.2h0M440 64.9h0M437.4 66.4h0M438.6 65.8h0M440.1 66.4h0M437.3 67.7h0M438.6 67.1h0M439.8 67.5h0M437.1 68.9h0M438.7 68.3h0M439.9 69h0M437.5 70.3h0M438.4 69.8h0M440 70.2h0M437.2 71.8h0M438.5 71.1h0M440 71.6h0M438.7 72.7h0M438.6 73.7h0M438.5 75.1h0M438.7 76.3h0M438.7 77.9h0M438.5 79.3h0M438.6 80.5h0M438.6 82h0M438.6 83.2h0M438.5 84.7h0M438.5 85.8h0M438.5 87.4h0M438.6 92h0M438.6 95h0M438.6 98h0M438.6 100.5h0" stroke="#050505" stroke-width="1.4" stroke-linecap="round" fill="none"/>
<line x1="430.1" y1="58.7" x2="447.1" y2="58.7" stroke="#000" stroke-width="3.0"/>
<path d="M417.4 35.8V12.2H438.6V18.4M438.6 20.2V26.3" fill="none" stroke="#231815" stroke-width="1.1"/>
<text x="409.7" y="9" font-size="8" textLength="43.2" lengthAdjust="spacingAndGlyphs"><tspan font-style="italic">P</tspan> = 1.8×10<tspan dy="-2.3" font-size="4.5">-40</tspan></text>
<text x="417.6" y="130.8" font-size="8" text-anchor="middle">Alt</text>
<text x="417.6" y="140.3" font-size="8" text-anchor="middle" textLength="19.5" lengthAdjust="spacingAndGlyphs">(460)</text>
<text x="438.9" y="130.8" font-size="8" text-anchor="middle">Ref</text>
<text x="438.9" y="140.3" font-size="8" text-anchor="middle" textLength="15" lengthAdjust="spacingAndGlyphs">(90)</text>
<text x="476" y="8.2" font-size="10" font-weight="bold">c</text>
<text x="489.2" y="17.2" font-size="8" textLength="74" lengthAdjust="spacingAndGlyphs">Bearing-shoot length</text>
<line x1="491.6" y1="21.1" x2="491.6" y2="118.2" stroke="#231815" stroke-width="1.5"/>
<line x1="487.2" y1="117.5" x2="491.6" y2="117.5" stroke="#231815" stroke-width="1.5"/>
<text x="485.8" y="120.5" font-size="8.2" text-anchor="end">0</text>
<line x1="487.2" y1="85.6" x2="491.6" y2="85.6" stroke="#231815" stroke-width="1.5"/>
<text x="485.8" y="88.6" font-size="8.2" text-anchor="end">4</text>
<line x1="487.2" y1="53.7" x2="491.6" y2="53.7" stroke="#231815" stroke-width="1.5"/>
<text x="485.8" y="56.7" font-size="8.2" text-anchor="end">8</text>
<line x1="487.2" y1="21.9" x2="491.6" y2="21.9" stroke="#231815" stroke-width="1.5"/>
<text x="485.8" y="24.8" font-size="8.2" text-anchor="end">12</text>
<line x1="490.9" y1="117.5" x2="601.1" y2="117.5" stroke="#231815" stroke-width="1.5"/>
<line x1="491.6" y1="117.5" x2="491.6" y2="121.3" stroke="#231815" stroke-width="1.5"/>
<text x="491.6" y="130.4" font-size="8.2" text-anchor="middle">0</text>
<line x1="518.8" y1="117.5" x2="518.8" y2="121.3" stroke="#231815" stroke-width="1.5"/>
<text x="518.8" y="130.4" font-size="8.2" text-anchor="middle">8</text>
<line x1="546" y1="117.5" x2="546" y2="121.3" stroke="#231815" stroke-width="1.5"/>
<text x="546" y="130.4" font-size="8.2" text-anchor="middle">16</text>
<line x1="573.1" y1="117.5" x2="573.1" y2="121.3" stroke="#231815" stroke-width="1.5"/>
<text x="573.1" y="130.4" font-size="8.2" text-anchor="middle">24</text>
<line x1="600.3" y1="117.5" x2="600.3" y2="121.3" stroke="#231815" stroke-width="1.5"/>
<text x="600.3" y="130.4" font-size="8.2" text-anchor="middle">32</text>
<text x="557" y="139.7" font-size="8" text-anchor="middle">Chr04 (Mb)</text>
<text transform="translate(474.5 69.4) rotate(-90)" font-size="8" text-anchor="middle" textLength="35.2" lengthAdjust="spacing">-log<tspan dy="2.4">10</tspan><tspan dy="-2.4">(P)</tspan></text>
<path d="M492 116.8L492 106L494 105.6L496 105.2L498 104.9L500 104.7L502 104.5L504 104.5L506 104.9L508 105.3L510 105.6L512 105.4L514 105.2L516 105L518 105.6L520 106.2L522 106.9L524 106.4L526 106L528 105.6L530 106.2L532 106.9L534 107.5L536 107.9L538 108.3L540 108.7L542 108.5L544 108.3L546 108.1L548 107.7L550 107.3L552 106.9L554 106.6L556 106.4L558 106.2L560 105.9L562 105.6L564 105.3L566 105L568 105.5L570 105.9L572 106.4L574 106.9L576 106.7L578 106.5L580 106.4L582 106.2L584 106.6L586 107.1L588 107.5L590 108.7L592 110L594 110.5L596 111L598 111.6L600 112.4L600.4 112.4L600.4 116.8Z" fill="#e59612"/>
<path d="M569.2 107.2h0M528.5 105.3h0M582.7 105.7h0M553.4 107.8h0M568.2 105.7h0M581.4 105.7h0M506.3 106.2h0M564.2 107h0M512.6 107.7h0M555.3 105.3h0M596.3 112.7h0M566.2 106.1h0M560.2 107.1h0M592.3 109.5h0M498.2 104.5h0M505.6 107.2h0M523.4 106.4h0M598.7 113.5h0M528.1 107.9h0M550.7 108h0M532.7 108.5h0M578.2 105.8h0M523.2 107.8h0M558.7 105.7h0M597.4 112.6h0M566.9 105.7h0M578.2 108.5h0M511.6 107.6h0M592.4 111.5h0M545 110.1h0M527.4 108h0M553.2 108.7h0M559.5 107.6h0M517.2 106.2h0M531.9 108.4h0M498.4 107.1h0M588 108.9h0M501.3 106.5h0M544.4 107.3h0M514.5 104.1h0M544.5 109.4h0M578.9 107.6h0M499.1 105.2h0M562.9 105.7h0M522.5 105.6h0M585 105.5h0M540.2 108.4h0M570.1 107.9h0M495.8 107.2h0M505.6 107.1h0M531.2 106.3h0M526 106.7h0M494.1 107.4h0M595.1 112.5h0M549.1 107.1h0M577.3 106.4h0M535.5 107.5h0M581.1 105.9h0M597.9 113.2h0M594.1 111.6h0M568.1 107.2h0M589.8 110.6h0M554.4 108.3h0M534.3 108.8h0M562.9 104.7h0M531.8 107h0M530.7 108h0M589.3 109.7h0M503 105.8h0M571.9 108.1h0M572.1 107h0M565.4 107h0M504.2 106.7h0M530.3 107.4h0M494 106.3h0M535.9 109.3h0M550.2 106.2h0M514.8 104h0M527.1 105.4h0M504.5 102.8h0M538.8 107.6h0M516.4 106.2h0M568.1 107.4h0M522.1 106.9h0M593.9 111.8h0M512.5 106.7h0M598.3 113.3h0M560.5 107.1h0M561.5 107.5h0M558.6 105.1h0M584.1 106.9h0M546.7 108.5h0M505.1 103.7h0M566.4 106h0M563.8 106.4h0M533.9 109.1h0M556.9 106.8h0M547.8 109.8h0M559.8 106.9h0M556.1 106.8h0M592.1 111.7h0M542.9 107.5h0M571.5 107.7h0M571.4 104.8h0M535.8 107.3h0M506.5 103.2h0M545.3 109.8h0M582.4 106.5h0M592.8 110.2h0M577.9 107.3h0M598.8 113.6h0M585.6 106.9h0M519.7 105.5h0M541.3 109.3h0M585.1 108.7h0M522.7 106.9h0M500.8 105h0M576.8 107.5h0M518.7 105.2h0M584 106.3h0M551.4 106.1h0M577.8 108.5h0M531.9 108.9h0M496.9 106.4h0M585 106.3h0M505.5 106.8h0M534.3 107h0M558.7 105.1h0M500.6 102.7h0M515 105.2h0M586.3 107h0M514 105.1h0M538.8 110.5h0M529.1 107.4h0M560 107.5h0M557.2 106.3h0M512.2 107.5h0M566.8 106.1h0M506.7 107.2h0M593.1 110.9h0M531 108.4h0M598.9 112.6h0M571.3 107.5h0M526 107.1h0M508.5 105.5h0M538.2 108.1h0M536.5 109h0M546.9 107.1h0M529.8 106.1h0M518 106h0M523.3 105.8h0M523.5 105.8h0M565 106.1h0M592.4 111.2h0M572.1 106.8h0M540.7 110.6h0M537.6 109.7h0M539.9 108h0M524.2 106.4h0M564.5 107h0M536.8 109.9h0M588.3 109.3h0M537.8 109.6h0M580.3 105.6h0M555.9 107h0M503.6 103.1h0M502.4 105.7h0M532.8 107h0M564.2 106.6h0M588.6 106.9h0M495.4 105.4h0M542.9 109.7h0M542.5 109.9h0M564.1 102.5h0M597.7 111.1h0M580.5 103.5h0M500.9 102.3h0M535.9 105.4h0M515.8 103.2h0M508.9 103.6h0M571.5 105.6h0M511.4 102.5h0M559.1 102.5h0M520.4 102.2h0M570.3 102.1h0M506.5 102.8h0M495.6 100.2h0M592.7 105.5h0M496.5 103.4h0M549.9 105.3h0M505.6 100.5h0M525.5 104h0M507 102.4h0M542.7 29h0M502.4 77.9h0M513.4 84.6h0M516.1 95.4h0M533.9 94.8h0M549 93.6h0M567.6 91.3h0M579.4 93.4h0M597.8 92.6h0M500.2 99.9h0M516.1 100.5h0M525.7 99.5h0M532.4 99.5h0M564.5 98.9h0M568.8 101.6h0M574.7 101.2h0M579.4 102.6h0M556.4 101h0M505.9 101.6h0M511 101.6h0" stroke="#e59612" stroke-width="3.9" stroke-linecap="round" fill="none"/>
<line x1="492" y1="85" x2="602" y2="85" stroke="#231815" stroke-width="1.45" stroke-dasharray="4.2 3.9"/>
<text x="555" y="29.1" font-size="8" textLength="37.2" lengthAdjust="spacingAndGlyphs">162 bp Ins</text>
<line x1="553.6" y1="24.4" x2="549.5" y2="26.3" stroke="#231815" stroke-width="1.2"/>
<polygon points="545.9,28 549.5,22.5 549.5,26.3 552.5,28.7" fill="#231815"/>
<line x1="634.6" y1="21.8" x2="634.6" y2="118.5" stroke="#231815" stroke-width="1.5"/>
<line x1="630.2" y1="113.4" x2="634.6" y2="113.4" stroke="#231815" stroke-width="1.5"/>
<text x="628.5" y="116.4" font-size="8.2" text-anchor="end">5</text>
<line x1="630.2" y1="98.3" x2="634.6" y2="98.3" stroke="#231815" stroke-width="1.5"/>
<text x="628.5" y="101.2" font-size="8.2" text-anchor="end">10</text>
<line x1="630.2" y1="83.1" x2="634.6" y2="83.1" stroke="#231815" stroke-width="1.5"/>
<text x="628.5" y="86.1" font-size="8.2" text-anchor="end">15</text>
<line x1="630.2" y1="68" x2="634.6" y2="68" stroke="#231815" stroke-width="1.5"/>
<text x="628.5" y="70.9" font-size="8.2" text-anchor="end">20</text>
<line x1="630.2" y1="52.9" x2="634.6" y2="52.9" stroke="#231815" stroke-width="1.5"/>
<text x="628.5" y="55.8" font-size="8.2" text-anchor="end">25</text>
<line x1="630.2" y1="37.7" x2="634.6" y2="37.7" stroke="#231815" stroke-width="1.5"/>
<text x="628.5" y="40.7" font-size="8.2" text-anchor="end">30</text>
<line x1="630.2" y1="22.6" x2="634.6" y2="22.6" stroke="#231815" stroke-width="1.5"/>
<text x="628.5" y="25.5" font-size="8.2" text-anchor="end">35</text>
<line x1="633.9" y1="117.7" x2="675.5" y2="117.7" stroke="#231815" stroke-width="1.5"/>
<line x1="646.3" y1="117.7" x2="646.3" y2="121.5" stroke="#231815" stroke-width="1.5"/>
<line x1="667.5" y1="117.7" x2="667.5" y2="121.5" stroke="#231815" stroke-width="1.5"/>
<text transform="translate(615.3 67) rotate(-90)" font-size="8" text-anchor="middle" textLength="91" lengthAdjust="spacingAndGlyphs">Bearingshoot length (cm)</text>
<line x1="646.2" y1="50.1" x2="646.2" y2="73" stroke="#231815" stroke-width="1.0"/>
<line x1="646.2" y1="91.5" x2="646.2" y2="108.2" stroke="#231815" stroke-width="1.0"/>
<line x1="642" y1="50.1" x2="650.5" y2="50.1" stroke="#231815" stroke-width="1.4"/>
<line x1="642" y1="108.2" x2="650.5" y2="108.2" stroke="#231815" stroke-width="1.4"/>
<rect x="637.6" y="73" width="17.2" height="18.5" fill="#5580b9" stroke="#231815" stroke-width="1.2"/>
<path d="M646.2 50.8h0M646.2 52.2h0M646.2 53.8h0M645 55.4h0M646 55h0M647.6 55.6h0M644.9 56.8h0M646.2 56.3h0M647.5 56.7h0M644.9 58.1h0M646.2 57.7h0M647.5 58.2h0M644.8 59.6h0M645.9 58.9h0M647.6 59.5h0M644.9 61h0M646.1 60.5h0M647.6 60.8h0M644.8 62.3h0M646.1 61.7h0M647.5 62.2h0M645 63.5h0M646.1 63.1h0M647.5 63.4h0M644.9 64.8h0M646.4 64.5h0M647.5 64.9h0M643.5 65.7h0M644.9 66.4h0M646 65.5h0M647.6 66.3h0M648.8 65.8h0M643.6 67.1h0M645 67.7h0M646.2 67.1h0M647.5 67.6h0M648.9 67.2h0M643.5 68.4h0M645.1 69h0M646.3 68.4h0M647.4 69h0M648.7 68.5h0M643.6 69.7h0M644.9 70.4h0M646.2 69.7h0M647.6 70.3h0M648.8 69.9h0M642.3 71.7h0M643.6 70.9h0M644.8 71.8h0M647.6 71.5h0M648.7 71h0M650 71.6h0M642.5 73.3h0M643.7 72.7h0M644.7 72.9h0M646.2 72.6h0M647.5 72.9h0M648.9 72.5h0M650.3 72.9h0M641 73.8h0M642.4 74.3h0M643.6 73.8h0M645 74.1h0M646.2 73.8h0M647.4 74.2h0M648.6 73.8h0M650.2 74.5h0M651.4 74h0M642.4 75.6h0M643.5 75.2h0M644.9 75.7h0M647.6 75.7h0M648.8 75.4h0M650.1 75.7h0M642.2 77.1h0M644.9 77.1h0M646.2 76.5h0M647.6 77.2h0M650.2 77h0M641 77.8h0M642.2 78.4h0M643.6 78h0M645 78.6h0M646.2 77.9h0M647.3 78.4h0M648.6 77.8h0M650.2 78.5h0M651.4 77.9h0M639.7 79.8h0M641.1 79.2h0M642.3 79.6h0M643.6 79h0M644.8 79.7h0M646.4 79.2h0M647.7 79.6h0M648.9 79.4h0M650 79.9h0M651.3 79.1h0M652.6 80h0M639.7 80.8h0M641.1 80.4h0M642.1 80.9h0M645 81h0M646.2 80.5h0M647.4 81.2h0M648.8 80.6h0M650.2 81.1h0M651.6 80.5h0M652.7 81h0M638.3 81.9h0M639.7 82.4h0M642.5 82.5h0M643.5 82h0M644.8 82.4h0M646.3 81.9h0M647.5 82.5h0M650.1 82.4h0M651.3 81.9h0M652.8 82.5h0M654 81.9h0M639.7 83.9h0M641.2 83.3h0M642.2 83.9h0M643.7 83.3h0M646.1 83.3h0M647.6 83.7h0M648.8 83.3h0M650.1 83.7h0M651.6 83.3h0M652.4 83.6h0M639.9 85h0M641 84.6h0M642.4 85.2h0M643.7 84.7h0M645 85.2h0M646.2 84.5h0M647.6 85.1h0M648.7 84.5h0M650 85.3h0M651.5 84.6h0M652.9 85.2h0M638.3 86.2h0M639.7 86.5h0M641 86h0M642.2 86.4h0M643.5 86h0M645.1 86.4h0M646.1 85.9h0M647.8 86.5h0M650.2 86.6h0M652.6 86.4h0M654.1 85.9h0M639.7 87.8h0M641 87.3h0M642.4 87.8h0M643.7 87.2h0M644.8 87.8h0M646.3 87.4h0M647.5 87.7h0M648.7 87.3h0M650.1 87.9h0M651.4 87.3h0M652.8 87.8h0M640.8 88.6h0M642.4 89.1h0M644.7 89.2h0M646.3 88.7h0M647.4 89.1h0M648.7 88.7h0M650.1 89.2h0M651.6 88.7h0M641.1 90.1h0M642.1 90.5h0M643.5 90h0M646.3 90.1h0M648.7 90.2h0M650 90.5h0M651.5 90.3h0M641.3 91.6h0M642.2 91.8h0M643.9 91.3h0M645 92h0M646.3 91.6h0M647.6 92h0M649.1 91.2h0M650.2 91.8h0M651.4 91.4h0M643.7 92.8h0M645 93.3h0M646.3 92.7h0M647.2 93.2h0M649 92.7h0M642.2 94.7h0M643.7 94.1h0M644.9 94.7h0M646.1 94.1h0M647.6 94.6h0M648.9 94h0M650.2 94.8h0M642.2 96h0M643.6 95.5h0M645 95.9h0M646.4 95.4h0M647.5 96.2h0M648.7 95.4h0M650.1 96h0M640.9 96.7h0M642.3 97.2h0M643.7 97h0M645 97.2h0M646.3 96.8h0M647.5 97.4h0M649 96.7h0M650.1 97.3h0M651.3 96.9h0M642.2 98.6h0M643.6 98.2h0M644.9 98.7h0M646.1 98h0M647.6 98.7h0M648.5 98.2h0M650.1 98.6h0M643.6 99.6h0M645 99.9h0M646.1 99.5h0M647.5 99.9h0M645 101.4h0M646.1 100.9h0M647.7 101.3h0M649 100.8h0M644.9 102.7h0M646.3 102.3h0M647.4 102.7h0M644.8 104.1h0M646.4 103.4h0M647.5 104h0M644.9 105.5h0M646.1 104.9h0M647.4 105.4h0M644.9 106.9h0M646.2 106.3h0M647.3 106.8h0M644.9 108.2h0M646.1 107.7h0M647.5 108.2h0M646.3 34.5h0M646 36.5h0M646.6 38.5h0M646.1 40.5h0M646.5 42.5h0M646.3 44.5h0" stroke="#050505" stroke-width="1.4" stroke-linecap="round" fill="none"/>
<line x1="637.6" y1="82.4" x2="654.8" y2="82.4" stroke="#000" stroke-width="3.0"/>
<line x1="667.1" y1="14.6" x2="667.1" y2="47.4" stroke="#231815" stroke-width="1.0"/>
<line x1="667.1" y1="81.7" x2="667.1" y2="105.3" stroke="#231815" stroke-width="1.0"/>
<line x1="662.9" y1="14.6" x2="671.4" y2="14.6" stroke="#231815" stroke-width="1.4"/>
<line x1="662.9" y1="105.3" x2="671.4" y2="105.3" stroke="#231815" stroke-width="1.4"/>
<rect x="658.4" y="47.4" width="17.4" height="34.3" fill="#b4d7b8" stroke="#231815" stroke-width="1.2"/>
<path d="M667.2 15.4h0M667 16.9h0M667.2 18.3h0M667.1 19.5h0M666.9 20.8h0M667.1 22.3h0M667 23.5h0M667.1 24.8h0M667.1 26.2h0M667.1 27.7h0M667.1 28.8h0M667 30.2h0M667.2 31.6h0M667 32.7h0M667 34.2h0M667.2 35.7h0M665.7 37.3h0M667 36.9h0M668.7 37.5h0M665.7 38.9h0M667.2 38.4h0M668.4 38.7h0M665.9 40.1h0M667 39.5h0M668.4 40.1h0M665.8 41.5h0M667.2 41h0M668.5 41.5h0M665.7 43h0M667.1 42.4h0M668.5 42.9h0M665.6 44.2h0M667.2 43.7h0M668.5 44.4h0M665.6 45.6h0M667.2 45.2h0M668.4 45.6h0M665.8 46.8h0M667.1 46.4h0M668.5 46.8h0M665.9 48.2h0M667.3 47.8h0M668.6 48.3h0M665.7 49.7h0M667 49h0M668.3 49.7h0M665.9 51.1h0M667.1 50.4h0M668.4 51h0M665.8 52.2h0M667.3 51.8h0M668.1 52.5h0M665.9 53.8h0M667.3 53.2h0M668.3 53.7h0M665.6 55.1h0M667.2 54.4h0M668.4 55h0M665.8 56.3h0M667 56h0M668.4 56.4h0M665.6 57.8h0M667.3 57.2h0M668.7 57.6h0M665.8 59.1h0M667.1 58.4h0M668.3 59.2h0M665.9 60.4h0M667 60h0M668.6 60.3h0M665.7 61.8h0M667.1 61.2h0M668.4 61.8h0M665.8 63.1h0M667 62.6h0M668.5 63.2h0M664.3 64h0M666 64.5h0M667.3 64h0M668.3 64.5h0M669.8 64.4h0M665.9 65.8h0M666.9 65.2h0M668.3 65.9h0M664.7 66.8h0M665.8 67.3h0M668.6 67.3h0M669.8 66.7h0M665.9 68.6h0M667.1 68h0M668.4 68.3h0M665.6 70h0M666.9 69.2h0M668.4 69.8h0M666 71.1h0M667.2 70.9h0M668.4 71.4h0M665.9 72.7h0M667.1 71.9h0M668.6 72.4h0M665.8 74.1h0M667.1 73.4h0M668.7 74h0M666 75.1h0M667 74.9h0M668.4 75.3h0M665.7 76.6h0M667.1 76.2h0M668.4 76.6h0M665.8 77.9h0M667.2 77.6h0M668.3 78.1h0M665.7 79.3h0M666.8 78.8h0M668.4 79.5h0M665.7 80.7h0M666.9 80h0M668.5 80.8h0M666 82.1h0M667 81.6h0M668.4 82h0M665.6 83.2h0M666.8 83h0M668.2 83.4h0M665.8 84.6h0M667 84.1h0M668.4 85h0M665.6 86.1h0M667.1 85.7h0M668.5 86.1h0M665.7 87.4h0M667.2 87h0M668.4 87.4h0M665.8 88.8h0M667.2 88.3h0M668.4 88.8h0M665.5 90.1h0M667.2 89.6h0M668.3 90.1h0M665.9 91.6h0M667.2 91.2h0M668.5 91.4h0M665.8 92.8h0M667.1 92.3h0M668.5 92.8h0M665.9 94.1h0M667.1 93.8h0M668.5 94.3h0M665.8 95.5h0M667.1 95h0M668.2 95.5h0M665.7 97h0M667 96.2h0M668.5 96.9h0M665.9 98.2h0M667.1 97.8h0M668.3 98.3h0M666.9 98.9h0M666.9 100.5h0M666 102.3h0M667.1 101.9h0M668.3 102.5h0M667.1 103.1h0M667.2 104.5h0" stroke="#050505" stroke-width="1.4" stroke-linecap="round" fill="none"/>
<line x1="658.4" y1="58.4" x2="675.8" y2="58.4" stroke="#000" stroke-width="3.0"/>
<path d="M646.3 29.9V10.9H667.8V14.6" fill="none" stroke="#231815" stroke-width="1.1"/>
<text x="636.8" y="7.6" font-size="8" textLength="41.6" lengthAdjust="spacingAndGlyphs"><tspan font-style="italic">P</tspan> = 5.3×10<tspan dy="-2.3" font-size="4.5">-21</tspan></text>
<text x="646.6" y="131" font-size="8" text-anchor="middle">Alt</text>
<text x="646.6" y="140.3" font-size="8" text-anchor="middle" textLength="20" lengthAdjust="spacingAndGlyphs">(296)</text>
<text x="668" y="131" font-size="8" text-anchor="middle">Ref</text>
<text x="668" y="140.3" font-size="8" text-anchor="middle" textLength="20" lengthAdjust="spacingAndGlyphs">(186)</text>
<text x="1" y="170.9" font-size="10" font-weight="bold">d</text>
<defs><radialGradient id="seedg" cx="0.4" cy="0.35" r="0.7"><stop offset="0" stop-color="#a52a18"/><stop offset="0.6" stop-color="#7c170d"/><stop offset="1" stop-color="#4a0c06"/></radialGradient><radialGradient id="shellg" cx="0.5" cy="0.5" r="0.5"><stop offset="0.55" stop-color="#d9a37c"/><stop offset="0.85" stop-color="#c98e68"/><stop offset="1" stop-color="#8a5a40"/></radialGradient><linearGradient id="stoneg" x1="0" x2="1"><stop offset="0" stop-color="#eeb08c"/><stop offset="0.3" stop-color="#ea9068"/><stop offset="0.7" stop-color="#e8845a"/><stop offset="1" stop-color="#d87850"/></linearGradient></defs>
<rect x="22.1" y="172.4" width="112.8" height="85.8" fill="#050505"/>
<line x1="79.1" y1="173" x2="79.1" y2="258" stroke="#8f8f8f" stroke-width="0.9" stroke-dasharray="2.6 1.8"/>
<ellipse cx="45.4" cy="200.4" rx="6.6" ry="6.8" fill="url(#seedg)"/>
<path d="M43.2 195.5q2.5 3 1.4 9.5" stroke="#c0503a" stroke-width="0.7" fill="none" opacity="0.7"/>
<text x="54.2" y="188.3" font-size="8" style="fill:#fff" textLength="19" lengthAdjust="spacingAndGlyphs">Seed</text>
<line x1="62.8" y1="189.9" x2="57.6" y2="193.3" stroke="#fff" stroke-width="1.5"/>
<polygon points="54.8,195.2 57.2,190.1 57.6,193.3 60.4,195" fill="#fff"/>
<ellipse cx="34.3" cy="223.6" rx="9.2" ry="10.7" fill="url(#shellg)"/>
<ellipse cx="35.0" cy="221.8" rx="6.6" ry="7.6" fill="#efe2c8"/>
<ellipse cx="36.2" cy="221.0" rx="3.2" ry="6.0" fill="#6e2a22"/>
<ellipse cx="34.3" cy="221.6" rx="1.6" ry="5.4" fill="#c9a7a0"/>
<ellipse cx="52.8" cy="222.9" rx="8.7" ry="8.3" fill="url(#shellg)"/>
<ellipse cx="52.8" cy="222.2" rx="6.6" ry="6.2" fill="#e9dcb8"/>
<path d="M52.8 216.2v12" stroke="#f7f0dc" stroke-width="1.4"/>
<path d="M48.5 218.5q1.5 4 0.5 7.5M57 218.5q-1.5 4 -0.5 7.5" stroke="#cdbb92" stroke-width="0.8" fill="none"/>
<text x="36.8" y="256.7" font-size="8" style="fill:#fff" textLength="15.5" lengthAdjust="spacingAndGlyphs">Wild</text>
<text x="90.6" y="256.7" font-size="8" style="fill:#fff" textLength="36.2" lengthAdjust="spacingAndGlyphs">Cultivated</text>
<rect x="131.5" y="229.6" width="1.9" height="26.6" fill="#fff"/>
<path d="M95.4 181.3C97.2 184.5 98 188 98.6 190.6C100 195.5 101.2 200 102.1 204.9C103.3 210 104.3 214.5 104.6 219.1C104.9 222.5 104.9 226 104.6 229.1C104.3 233 103.8 236 102.9 239.1C102 242.5 100.8 245.5 99.3 248.4C97.2 246 95.4 243.5 94.3 240.6C92.5 237 91.5 233 91.1 229.1C90.5 224.5 90.4 219.5 90.7 214.9C91 208.5 91.4 202 92.1 196.3C92.8 191 93.8 185.5 95.4 181.3Z" fill="url(#stoneg)"/>
<path d="M95.5 184C97.5 189 100.6 199 101.8 206C102.6 211 103 214 103 216.5L99.4 215.2C98.8 208 97.6 201 96 196.5C94.8 199 94.2 203 94 207L92.2 208C92.5 199 93.5 190 95.5 184Z" fill="#f4ead0"/>
<path d="M95.4 192.5C96.6 194 97.2 196.5 97 199.5C96.2 198 95.4 197 94.8 197.5Z" fill="#b23a22"/>
<path d="M92 214C93 225 94.5 236 98 245" stroke="#f0c0a0" stroke-width="0.8" fill="none" opacity="0.8"/>
<path d="M97.5 217C98.8 226 99.3 236 99.2 246" stroke="#cf6a44" stroke-width="0.9" fill="none"/>
<path d="M101.5 219C102.2 226 101.8 234 100.4 241" stroke="#d9623c" stroke-width="0.8" fill="none" opacity="0.8"/>
<path d="M114.3 188C116.2 190.5 117.6 193.5 118.6 196.3C119.6 201.5 120 206.5 120 212C120.3 217 120.5 221.5 120.3 226.3C120 230.5 119.2 234.5 117.9 237.7C116.6 241 115 244.5 113.1 247C112 245.8 111.2 244.8 110.7 243.4C108.8 240 107.5 236 107.1 232C106.8 227.5 106.8 223.5 107.1 219.1C107.5 214 108.2 209.5 109.3 204.9C110.4 199 112 193 114.3 188Z" fill="url(#stoneg)"/>
<path d="M114.4 190.2C116.4 194 118.2 200 118.8 207L118.6 210.8L114.6 213.6L109.4 215.4C109.6 209 110.4 203 111.6 198C112.3 195 113.2 192.5 114.4 190.2Z" fill="#f4ead0"/>
<path d="M116.2 195C117.2 199.5 117.8 204 117.9 208.6L116.2 210.5C116.6 205 116.6 200 116.2 195Z" fill="#d46844"/>
<path d="M113.6 217C113.9 227 113.7 237 113.2 245" stroke="#cf6a44" stroke-width="0.9" fill="none"/>
<path d="M109.5 218C109.3 226 110 235 112 243" stroke="#f0c0a0" stroke-width="0.8" fill="none" opacity="0.8"/>
<path d="M117.6 216C118.4 223 118 230 116.4 238" stroke="#d9623c" stroke-width="0.8" fill="none" opacity="0.8"/>
<text x="151.2" y="168.8" font-size="10" font-weight="bold">e</text>
<line x1="173.7" y1="172.2" x2="173.7" y2="256.9" stroke="#231815" stroke-width="1.5"/>
<line x1="169.3" y1="256.2" x2="173.7" y2="256.2" stroke="#231815" stroke-width="1.5"/>
<text x="167.9" y="259.2" font-size="8.2" text-anchor="end">0</text>
<line x1="169.3" y1="242.3" x2="173.7" y2="242.3" stroke="#231815" stroke-width="1.5"/>
<text x="167.9" y="245.3" font-size="8.2" text-anchor="end">1</text>
<line x1="169.3" y1="228.5" x2="173.7" y2="228.5" stroke="#231815" stroke-width="1.5"/>
<text x="167.9" y="231.4" font-size="8.2" text-anchor="end">2</text>
<line x1="169.3" y1="214.6" x2="173.7" y2="214.6" stroke="#231815" stroke-width="1.5"/>
<text x="167.9" y="217.5" font-size="8.2" text-anchor="end">3</text>
<line x1="169.3" y1="200.7" x2="173.7" y2="200.7" stroke="#231815" stroke-width="1.5"/>
<text x="167.9" y="203.7" font-size="8.2" text-anchor="end">4</text>
<line x1="169.3" y1="186.8" x2="173.7" y2="186.8" stroke="#231815" stroke-width="1.5"/>
<text x="167.9" y="189.8" font-size="8.2" text-anchor="end">5</text>
<line x1="169.3" y1="173" x2="173.7" y2="173" stroke="#231815" stroke-width="1.5"/>
<text x="167.9" y="175.9" font-size="8.2" text-anchor="end">6</text>
<text transform="translate(153.1 211) rotate(-90)" font-size="8" text-anchor="middle" textLength="35.2" lengthAdjust="spacing">-log<tspan dy="2.4">10</tspan><tspan dy="-2.4">(P)</tspan></text>
<line x1="172.9" y1="256.2" x2="685" y2="256.2" stroke="#231815" stroke-width="1.5"/>
<line x1="208.6" y1="256.2" x2="208.6" y2="260.6" stroke="#231815" stroke-width="1.5"/>
<text x="208.6" y="270.6" font-size="8.3" text-anchor="middle">Chr01</text>
<line x1="259.7" y1="256.2" x2="259.7" y2="260.6" stroke="#231815" stroke-width="1.5"/>
<text x="259.7" y="270.6" font-size="8.3" text-anchor="middle">Chr02</text>
<line x1="301.5" y1="256.2" x2="301.5" y2="260.6" stroke="#231815" stroke-width="1.5"/>
<text x="301.5" y="270.6" font-size="8.3" text-anchor="middle">Chr03</text>
<line x1="343.2" y1="256.2" x2="343.2" y2="260.6" stroke="#231815" stroke-width="1.5"/>
<text x="343.2" y="270.6" font-size="8.3" text-anchor="middle">Chr04</text>
<line x1="387.3" y1="256.2" x2="387.3" y2="260.6" stroke="#231815" stroke-width="1.5"/>
<text x="387.3" y="270.6" font-size="8.3" text-anchor="middle">Chr05</text>
<line x1="431.2" y1="256.2" x2="431.2" y2="260.6" stroke="#231815" stroke-width="1.5"/>
<text x="431.2" y="270.6" font-size="8.3" text-anchor="middle">Chr06</text>
<line x1="474.9" y1="256.2" x2="474.9" y2="260.6" stroke="#231815" stroke-width="1.5"/>
<text x="474.9" y="270.6" font-size="8.3" text-anchor="middle">Chr07</text>
<line x1="515.7" y1="256.2" x2="515.7" y2="260.6" stroke="#231815" stroke-width="1.5"/>
<text x="515.7" y="270.6" font-size="8.3" text-anchor="middle">Chr08</text>
<line x1="555.2" y1="256.2" x2="555.2" y2="260.6" stroke="#231815" stroke-width="1.5"/>
<text x="555.2" y="270.6" font-size="8.3" text-anchor="middle">Chr09</text>
<line x1="590.6" y1="256.2" x2="590.6" y2="260.6" stroke="#231815" stroke-width="1.5"/>
<text x="590.6" y="270.6" font-size="8.3" text-anchor="middle">Chr10</text>
<line x1="625.9" y1="256.2" x2="625.9" y2="260.6" stroke="#231815" stroke-width="1.5"/>
<text x="625.9" y="270.6" font-size="8.3" text-anchor="middle">Chr11</text>
<line x1="664.6" y1="256.2" x2="664.6" y2="260.6" stroke="#231815" stroke-width="1.5"/>
<text x="664.6" y="270.6" font-size="8.3" text-anchor="middle">Chr12</text>
<text x="405" y="173.5" font-size="7.5" textLength="61.5" lengthAdjust="spacingAndGlyphs">Seed-setting rate</text>
<path d="M173.1 255.5L173.1 239.4L175.1 238.3L177.1 236.7L179.1 235.2L181.1 234.9L183.1 234.6L185.1 234.3L187.1 234.1L189.1 234.3L191.1 234.5L193.1 234.4L195.1 232.4L197.1 230.3L199.1 228.3L201.1 228.4L203.1 228.6L205.1 228.9L207.1 229.1L209.1 229.4L211.1 229.6L213.1 229.9L215.1 230.1L217.1 230.4L219.1 230.9L221.1 232L223.1 233.2L225.1 234.2L227.1 235L229.1 235.7L231.1 236.5L233.1 237.2L235.1 237.9L237.1 238.7L238.1 238.8L238.1 255.5Z" fill="#228b22"/>
<path d="M194.6 236.2h0M215 234.1h0M207.8 231.1h0M178.1 236.7h0M176.8 238.3h0M178.8 238.7h0M200.9 225.2h0M182.2 237.5h0M213.5 225.6h0M210.4 231.1h0M235.3 241.3h0M227.9 237.6h0M183.4 237.9h0M193.7 231.8h0M185.7 234.3h0M214.3 231.8h0M208.6 233.4h0M178.2 238.6h0M216.8 231.7h0M194 233.5h0M202.7 231h0M223.9 232.7h0M189.7 234.6h0M207.2 225.5h0M219.9 233.8h0M235.5 241.2h0M200.5 226h0M183.9 235.4h0M176.9 236.5h0M222.1 232.7h0M229 237.8h0M217.8 230.2h0M210.6 230.6h0M226.8 231.7h0M204 227.6h0M178.2 235h0M214.8 225.2h0M225.7 236.8h0M198.5 227.7h0M175.9 238.9h0M184.9 237.7h0M178.1 234.5h0M182.5 237.3h0M198.8 224.9h0M179.5 236.4h0M208.7 225.7h0M225.5 231.9h0M191.8 236h0M196.8 227.2h0M234.1 240.5h0M185.4 237h0M189 235.2h0M211.2 232.4h0M174.7 240.1h0M197.5 229.9h0M233.8 237h0M206.6 228.4h0M216.6 234.3h0M230.5 234.9h0M228.9 234h0M198.9 230h0M180.9 234.7h0M178.3 239.1h0M187.5 237.3h0M195.6 235.7h0M174.5 241.7h0M180.8 236.8h0M176 235.6h0M212.7 233.4h0M190.2 236.4h0M197.1 233.9h0M227.3 231.5h0M203.5 229.4h0M179.8 238.5h0M195.8 234.3h0M226.1 237.7h0M175.9 235.1h0M207.4 232.8h0M208.3 233.5h0M207.4 224.3h0M228.2 234.6h0M190.7 236.3h0M184.9 232.8h0M207.6 226.7h0M195 235.4h0M225 230.5h0M227.6 233.4h0M225.4 233.1h0M188.6 234.9h0M196.6 234.9h0M176.2 239.7h0M190.6 233.6h0M234 238.8h0M232.8 234.1h0M233.9 239.3h0M188.2 237h0M186.7 237h0M213.3 226.2h0M226.8 235.8h0M215.1 227.6h0M179.7 234.7h0M231.1 235.1h0M221.2 233h0M185.6 232.5h0M195.6 222.8h0M233.7 234h0M199.7 213.2h0M219 227.2h0M183.4 231.8h0M229.7 227.7h0M184.5 225.4h0M234.2 232h0M196.7 224.6h0M183.6 232.3h0M233.7 231.9h0M207.2 215.2h0M201.7 216.9h0M225 231.1h0M180.7 208.9h0M180.2 219.9h0M180.2 228.4h0M192.5 221.7h0M199.6 210.5h0M202.7 213.5h0M208.8 214.8h0M201.9 217.4h0M208.8 219.9h0M221.6 218.1h0M225.2 224.3h0M236.4 227.6h0M189.9 227.6h0" stroke="#228b22" stroke-width="5.4" stroke-linecap="round" fill="none"/>
<path d="M236.9 255.5L236.9 241.2L238.9 240.4L240.9 239.2L242.9 238L244.9 237.4L246.9 237L248.9 236.6L250.9 236L252.9 235.4L254.9 234.8L256.9 234.2L258.9 233.1L260.9 232L262.9 230.8L264.9 229.6L266.9 230L268.9 230.8L270.9 231.6L272.9 233.4L274.9 235.4L276.9 237.3L277.8 237.6L277.8 255.5Z" fill="#ee9a00"/>
<path d="M247.9 239h0M247.4 237.1h0M248.2 238.2h0M243.3 235.6h0M251.8 236.9h0M260.5 228.9h0M254.3 232.2h0M257.4 234.6h0M258.2 237.4h0M255.1 237.8h0M238.4 239.9h0M244.8 238.5h0M266 229.6h0M250.7 236.8h0M259.5 230.9h0M242.3 238.9h0M247.7 239.1h0M267.8 230.9h0M259.7 231h0M273.1 234.8h0M261.6 232.2h0M257.8 232.9h0M255.5 235.2h0M256.5 231.1h0M265 226h0M274.2 237.2h0M259.6 229.1h0M270.3 234.8h0M242.9 239.3h0M241 241.5h0M241 239h0M268.2 226.9h0M244.1 236.9h0M263.5 234h0M272 228.5h0M246.6 234.3h0M253.5 236.2h0M276.1 234.8h0M244.4 238.8h0M257.9 235.8h0M245.7 239.3h0M265.8 233.8h0M259.4 234.1h0M238.9 242.3h0M262.1 231.8h0M240.7 236.9h0M268.4 226.1h0M242.3 240.7h0M239.8 239.1h0M248.6 239.8h0M254.4 232.2h0M269.5 233.7h0M244 235.3h0M260 231.3h0M241.7 241.9h0M264.5 231.1h0M241 237h0M262.5 228.6h0M241.4 237.3h0M240.8 237.8h0M255.6 236.6h0M259.4 229.5h0M248.5 239.8h0M258.4 236.2h0M242.4 241.1h0M241.4 236.9h0M250.7 232.9h0M266.6 225.3h0M257.4 231.1h0M251.9 233.8h0M248.5 234.9h0M265.6 223h0M246.3 233h0M247.2 211.8h0M256.4 213.8h0M276.8 192.6h0M272.7 200.3h0M269.6 213h0M274.2 215.3h0M278.3 215.3h0M267.6 221.7h0M260.7 225h0M254.3 224.3h0M273.5 219.9h0" stroke="#ee9a00" stroke-width="5.4" stroke-linecap="round" fill="none"/>
<path d="M276.6 255.5L276.6 240L278.6 237.6L280.6 234.2L282.6 232.7L284.6 232.3L286.6 231.9L288.6 232.3L290.6 233.4L292.6 234.6L294.6 235L296.6 234.2L298.6 233.4L300.6 233L302.6 233.4L304.6 233.8L306.6 234.1L308.6 234.4L310.6 234.7L312.6 235L314.6 235.3L316.6 236.4L318.6 237.6L319.3 237.6L319.3 255.5Z" fill="#228b22"/>
<path d="M315.3 239h0M310.7 236.1h0M297.8 231.5h0M293.7 236h0M305.5 230.2h0M291.7 231.8h0M306.2 233.7h0M294.1 237.1h0M280.1 238.3h0M280.8 232.5h0M288.2 235.3h0M281.3 230.4h0M312.8 234.4h0M289.2 235.4h0M289.7 234h0M284.3 233.5h0M288.5 228.3h0M316.9 237.1h0M287.7 227.7h0M290.3 235.2h0M278 240.4h0M296.9 234.8h0M286 232.7h0M278.1 240.8h0M281.5 234.4h0M279.6 239.5h0M290.1 235.9h0M301.4 233.7h0M308 233.8h0M306.6 231.5h0M293.5 237.2h0M317.3 239.9h0M306.9 233.8h0M279.7 233.8h0M313.6 235h0M307.3 232.3h0M283.5 233h0M298.1 231.3h0M310.1 232.6h0M301.3 230.2h0M305.3 233h0M287.1 235.8h0M283.3 234.4h0M282.1 230.3h0M300.3 232.6h0M303 232.6h0M297.5 237.7h0M309.9 233.3h0M298.1 234.1h0M304.3 237.4h0M307.4 236.9h0M280.9 236.2h0M307.1 237.1h0M307.5 230.7h0M297.7 235.5h0M297.1 233.2h0M308.6 234.3h0M303.7 237.2h0M283.8 235.1h0M307.7 236.6h0M300.7 236.9h0M280.4 237.1h0M304.8 232.9h0M305 236.2h0M298.6 234.5h0M296.6 237.6h0M313.7 238h0M317.1 234.1h0M280 230.9h0M309.9 219.1h0M296.1 231h0M287.1 217.7h0M287.2 225.6h0M284.6 226.7h0M314.8 233h0M309.9 229.7h0M312.4 228.2h0M304.6 214.3h0M305.9 218.1h0M299.5 221.7h0M286.2 221.7h0M287 226.3h0M311.8 226.3h0M296.5 226.3h0M316.1 227.1h0" stroke="#228b22" stroke-width="5.4" stroke-linecap="round" fill="none"/>
<path d="M318.1 255.5L318.1 236.5L320.1 235.5L322.1 234.1L324.1 232.7L326.1 231.3L328.1 230.6L330.1 230.9L332.1 231.2L334.1 231.5L336.1 231.8L338.1 232.9L340.1 234.1L342.1 235.2L344.1 236.3L346.1 236.2L348.1 236L350.1 235.7L352.1 235.4L354.1 235.1L356.1 234.8L358.1 234.6L360.1 234.3L362.1 234.1L362.2 234.1L362.2 255.5Z" fill="#ee9a00"/>
<path d="M329 227.2h0M339.6 237.6h0M319.6 236.8h0M338.1 235.3h0M325.3 233.9h0M332.5 228.5h0M319.5 234.7h0M354.2 238.4h0M357.8 233.6h0M356.8 237.1h0M334.9 233.2h0M360.8 234.3h0M334.4 232.8h0M330.8 235h0M323.7 230.6h0M331.3 227.2h0M329.8 233.5h0M340.6 237.3h0M334.9 227.6h0M356.1 233h0M345.6 233.8h0M358.4 234.9h0M349.2 239.3h0M349.8 236.9h0M350.6 235.3h0M331.3 235h0M357.8 237.9h0M339 235.5h0M331.8 229.4h0M359.9 236.9h0M346.6 238.4h0M342.5 237h0M326.4 234.5h0M328.1 227h0M340 236.8h0M357 231h0M338.1 236.3h0M327.4 234.4h0M333.6 235.1h0M329.3 233.5h0M343 233.3h0M350.5 237.1h0M336.6 232.6h0M335.1 233.7h0M322 236.6h0M359.5 237.7h0M340.3 233.9h0M355.2 237.8h0M330.7 233.8h0M336 233h0M358.9 232.2h0M355.6 238.6h0M320.8 234.1h0M356.5 235.8h0M343.8 239.7h0M335.7 228h0M353.6 233h0M359.7 237h0M324 236.1h0M341.1 233.9h0M358.4 233.4h0M346.3 235h0M338.4 233.4h0M321.1 233.2h0M329.1 227h0M346.2 238.4h0M324.7 235h0M345.8 235.6h0M324.1 236.4h0M341.2 234.8h0M335.8 227.9h0M344.1 234.5h0M332.5 225.9h0M357.9 228.4h0M355 230.5h0M329.9 226.8h0M358 227.7h0M332.7 228.3h0M340.1 227.4h0M331 209.2h0M325.1 212.8h0M322.5 217.4h0M327.6 219.2h0M332.2 216.6h0M326 218.7h0M346.5 218.7h0M362 225.6h0" stroke="#ee9a00" stroke-width="5.4" stroke-linecap="round" fill="none"/>
<path d="M361 255.5L361 237.6L363 236.9L365 235.8L367 234.8L369 233.7L371 232.9L373 232.9L375 232.9L377 232.9L379 232.9L381 233.1L383 233.4L385 233.6L387 233.9L389 233.9L391 233.1L393 232.3L395 231.5L397 230.7L399 230.9L401 231.5L403 232L405 232.5L407 232.9L407 255.5Z" fill="#228b22"/>
<path d="M380.5 235.7h0M391.2 229.6h0M372.2 236.7h0M377 234.3h0M391.9 235.8h0M396.9 229h0M384.2 236.5h0M404.3 234.6h0M397.9 233.6h0M371.9 231.2h0M375.1 229.2h0M383.8 236.5h0M372 234.3h0M391.2 229.4h0M368.7 235.5h0M371.6 229h0M368.5 237.7h0M365 237.5h0M401.2 228.3h0M394.1 227.4h0M402.7 234.1h0M370.4 229.5h0M394.7 235.6h0M391.1 234.8h0M378.5 235h0M369.7 237.2h0M374.5 234.8h0M403.7 235.7h0M404.1 235.3h0M377.8 230.6h0M397.9 231.9h0M364.5 237.2h0M378.5 229.6h0M370.7 234.8h0M401.2 235.5h0M380.1 230.8h0M395.5 235.3h0M363.9 239.9h0M402.2 234.5h0M394.7 228.2h0M377 235.4h0M403.8 231.9h0M373.7 231.7h0M376.1 235.4h0M362.5 236.2h0M402 231.2h0M403.2 236h0M372.5 233.9h0M403.8 228.4h0M379.1 235.6h0M381 233.9h0M402.5 235.1h0M397.1 228.9h0M398 228.5h0M388.6 236.1h0M376.2 234.8h0M396.2 234.8h0M370.9 231.3h0M373.1 236.6h0M363.8 237h0M376.5 228.9h0M400.6 226.9h0M373.8 236.5h0M366.5 235.9h0M393.1 233.4h0M372.5 234.3h0M389.2 233.1h0M394.7 228.8h0M391.1 236.5h0M398.8 233.3h0M386.9 235.7h0M394.3 234.8h0M373.1 235.6h0M369.9 222.4h0M387.2 230.1h0M384.3 230.1h0M396.5 223.8h0M403.9 229.1h0M383 224.3h0M397.8 218h0M365.3 232.4h0M368.5 230.9h0M373.4 197.8h0M373.4 205.2h0M373.4 214.6h0M370.2 217.5h0M373.4 223.6h0M387.3 216.6h0M395.1 213.8h0M397.6 217.9h0M404.1 223.6h0" stroke="#228b22" stroke-width="5.4" stroke-linecap="round" fill="none"/>
<path d="M405.8 255.5L405.8 239.9L407.8 239.1L409.8 237.9L411.8 236.7L413.8 235.5L415.8 233.9L417.8 231.5L419.8 229.1L421.8 226.7L423.8 224.3L425.8 225.5L427.8 226.7L429.8 228.6L431.8 230.6L433.8 232.6L435.8 232.8L437.8 231.6L439.8 230.4L441.8 229.6L443.8 229.9L445.8 230.2L447.8 230.5L449.8 230.8L450.5 230.8L450.5 255.5Z" fill="#ee9a00"/>
<path d="M448 230.4h0M446.2 232.1h0M443.5 231h0M418.1 229.1h0M446.9 234.1h0M432.2 230.5h0M416.3 235.1h0M413.1 238.7h0M417.9 231.2h0M434.5 236.2h0M407.6 241.2h0M435.6 236h0M420.3 231.8h0M440.6 230.1h0M409.8 241h0M423.8 224.2h0M434 236.4h0M414 234.6h0M424.4 227.4h0M420.1 224.2h0M420.3 228.4h0M422.2 227.7h0M443.4 225h0M422.4 229.4h0M437.7 234.7h0M407.4 237.6h0M424.9 221.4h0M424.2 220h0M426.5 229.7h0M407.8 239.8h0M434.1 229.6h0M410.9 237.3h0M422.7 226.1h0M413.3 238.2h0M429 223.3h0M411.7 237.7h0M441 225.1h0M415.4 237.6h0M446.8 225.8h0M427.4 230.9h0M446 231.9h0M445.1 229.6h0M441.8 233.1h0M440.2 233.2h0M424.1 220.5h0M442 233h0M416.3 234.9h0M428.9 229.4h0M412.3 238.9h0M437.6 228.4h0M408.9 239h0M439 234.9h0M442.4 233.5h0M432.3 231.3h0M433.5 234.6h0M424.8 224.4h0M425 223.6h0M425.9 226.8h0M408.1 239.1h0M427.7 229.8h0M439.2 228.5h0M426.4 229.5h0M427 230.4h0M412.5 237.6h0M411 238.5h0M428.6 231.7h0M433.9 236.3h0M438 229.4h0M428.6 231.7h0M428.3 228.9h0M447.1 234h0M437.3 222.6h0M427.8 210.6h0M444.5 226.1h0M439.5 217.1h0M411.1 233.9h0M438.2 227.8h0M443.7 225.5h0M427 193.7h0M427 200.8h0M427 212.4h0M445.8 211.6h0M449.9 213.2h0M431.2 217.8h0M418.7 224.1h0M454.1 221.6h0" stroke="#ee9a00" stroke-width="5.4" stroke-linecap="round" fill="none"/>
<path d="M449.3 255.5L449.3 236.5L451.3 235.9L453.3 235L455.3 234.2L457.3 233.3L459.3 232.6L461.3 232.3L463.3 232L465.3 231.8L467.3 231.5L469.3 230.9L471.3 230.3L473.3 229.7L475.3 229.2L477.3 229.1L479.3 229.4L481.3 229.7L483.3 230L485.3 230.4L487.3 231.6L489.3 232.8L491.3 233.9L493.3 235.1L494.2 235.2L494.2 255.5Z" fill="#228b22"/>
<path d="M485.1 233.9h0M471.8 226.2h0M459.4 235.2h0M472 232.4h0M452.2 238.5h0M457.5 229.8h0M479.3 225.6h0M457.8 231.2h0M455.5 234.6h0M477.5 231.1h0M487.5 231.9h0M475.1 225.5h0M455.1 230.5h0M477.2 230.7h0M484.3 232.8h0M492.4 234.8h0M465.9 229.8h0M469.3 234.2h0M482 233.9h0M485.2 233.2h0M477.6 224.2h0M475.4 228h0M463.8 236h0M452.1 238.7h0M476.6 230.3h0M472.3 226.4h0M456.2 236.6h0M478.2 233.5h0M450.8 238h0M455.1 236.1h0M460.1 232.5h0M475.5 232.3h0M477 229.9h0M456.3 230.4h0M460.9 235.7h0M454.7 234.1h0M487.4 229.6h0M467.6 234h0M451.1 235.7h0M474.4 231.4h0M477.9 230.3h0M490.2 231.9h0M461.1 229.1h0M452.5 236h0M467.8 234.2h0M453.1 233.6h0M451.2 236.4h0M490.4 236.7h0M459.1 232.4h0M472 229.3h0M485 233.6h0M463.7 234.4h0M452.7 232.8h0M483.7 228.4h0M450.9 234.1h0M482.1 230.8h0M482 230.9h0M460.2 236.1h0M460.5 236.3h0M464.8 230.1h0M480 226.3h0M480.7 232.3h0M474 230.8h0M483.9 230.5h0M461.8 231.7h0M491.4 236.8h0M487.8 235.9h0M461.6 235.1h0M482 225.5h0M482.1 232h0M487.8 234h0M461.4 220.4h0M476.9 221h0M478.3 210.9h0M470.5 220.4h0M479.6 218.5h0M469.3 222.9h0M474.5 224.6h0M460.4 226.1h0M455.1 222.7h0M477 209.1h0M484.5 207.4h0M462.4 210.7h0M477.8 218.6h0M487.4 222.8h0M456.2 224.1h0M466.6 225.7h0" stroke="#228b22" stroke-width="5.4" stroke-linecap="round" fill="none"/>
<path d="M493 255.5L493 233.4L495 232.3L497 230.6L499 228.9L501 227.2L503 227.2L505 227.6L507 227.9L509 228.2L511 227.6L513 226.9L515 226.3L517 225.6L519 225.6L521 225.6L523 225.6L525 225.9L527 227.3L529 228.6L531 230L532.9 230.8L532.9 255.5Z" fill="#ee9a00"/>
<path d="M499.7 232.6h0M498.3 225.3h0M507.2 231.7h0M495.4 235.8h0M520.1 224.5h0M520.3 223.2h0M496.8 230.5h0M507.9 225h0M524.8 221.4h0M496.8 227.6h0M528.4 223.5h0M498.3 232.6h0M498.5 233.5h0M525.9 223.3h0M517.9 222.1h0M517.8 228.3h0M498.1 233.6h0M522.5 229.1h0M506.2 229.1h0M495.1 234.8h0M504.9 225.6h0M508 230.4h0M530.2 230h0M526 225.8h0M495.5 233.3h0M510.6 225.2h0M507.3 226.2h0M514.4 229.7h0M526.4 231h0M524.8 229.5h0M494.4 235.8h0M522.7 219.9h0M494.5 233.5h0M512.6 224.1h0M501.2 227.6h0M507.3 224.7h0M504 222.6h0M504.9 230.8h0M520.4 226.1h0M498.4 228.6h0M497.4 227.9h0M520.3 222.6h0M517.7 227.7h0M509.3 229.8h0M527.5 231.7h0M527.4 232h0M502 229.9h0M527.9 228.4h0M508.5 224.2h0M503 228.2h0M514.1 224h0M522.4 224.4h0M507.3 230.2h0M500.1 224.5h0M519 223.2h0M500.7 228.7h0M523.1 225.2h0M499 229.8h0M527.3 230.5h0M501.5 229.5h0M520.5 221.8h0M500.1 231.6h0M503.6 229.6h0M513.7 222.1h0M507 223.4h0M529.3 220.3h0M499.2 212.5h0M499.2 223.4h0M529.6 219.5h0M521 219.2h0M502.5 219.3h0M496.5 212.4h0M498.6 216.6h0M504.8 217.8h0M512.3 219.9h0M524 214.5h0M526.9 218.6h0M518.6 220.7h0" stroke="#ee9a00" stroke-width="5.4" stroke-linecap="round" fill="none"/>
<path d="M531.7 255.5L531.7 235.2L533.7 234.6L535.7 233.6L537.7 232.6L539.7 231.7L541.7 231.2L543.7 230.9L545.7 230.5L547.7 230.2L549.7 229.6L551.7 229L553.7 228.3L555.7 227.7L557.7 228.3L559.7 228.9L561.7 229.6L563.7 230.3L565.7 231.6L567.7 232.9L569.7 234.1L571.7 235.2L572 235.2L572 255.5Z" fill="#228b22"/>
<path d="M537.1 235.9h0M547.7 234.3h0M548.1 227.7h0M559.1 229.3h0M556.8 228.9h0M538.4 232.1h0M548.3 228.2h0M567.2 233.9h0M554.6 225.8h0M548.9 232.9h0M560.2 225.4h0M562.2 228.3h0M565.1 230.1h0M557.2 229.2h0M544.8 230.1h0M536.7 234.5h0M562.5 228.2h0M556.7 230.9h0M549 230.9h0M556.4 229.4h0M558.4 224.1h0M539.9 230.8h0M562.3 231.5h0M551.5 224.2h0M534.5 234.6h0M539.1 229.9h0M568.4 233.9h0M536.9 233.1h0M553.4 226.6h0M552.3 227.9h0M564.2 231.1h0M548.5 225.7h0M540.9 230.2h0M547.8 228.1h0M537.7 228.6h0M546.4 234.4h0M543.4 232.5h0M533.6 236.1h0M548.9 228.5h0M546.3 233.1h0M541.5 229.5h0M568.4 233.8h0M541.3 228.9h0M547.8 233.3h0M537.9 230.6h0M563.5 229.5h0M550.7 229.3h0M541.5 227h0M546.3 229.7h0M563.8 227.7h0M550.7 231.8h0M553.7 232.1h0M564.4 232.7h0M565 233.8h0M547.2 233.1h0M549.1 233.1h0M533.2 233.8h0M543.6 233.7h0M544.4 231.6h0M549.2 229h0M557.8 230.3h0M568 230.4h0M535.2 231.7h0M567.1 230.5h0M539.3 222.2h0M556.5 224.2h0M534.8 220h0M557.3 223.4h0M537.9 229.3h0M542.6 222.3h0M546.5 226.7h0M566 222.8h0M543.5 215.7h0M536.1 218.6h0M547.7 221.6h0M560.2 214.5h0M561.4 218.6h0M563.1 224.9h0M566.4 198.7h0M551.9 224.9h0" stroke="#228b22" stroke-width="5.4" stroke-linecap="round" fill="none"/>
<path d="M570.8 255.5L570.8 234.7L572.8 233.7L574.8 232.2L576.8 230.8L578.8 229.4L580.8 228.7L582.8 228L584.8 227.2L586.8 227.8L588.8 229.3L590.8 230.8L592.8 232L594.8 230.2L596.8 228.3L598.8 226.5L600.8 226.4L602.8 227.9L604.8 229.4L606.8 230.8L607.4 230.8L607.4 255.5Z" fill="#ee9a00"/>
<path d="M577.8 226.4h0M592.8 230h0M594.8 226.5h0M598.9 222.8h0M578.8 228h0M590.1 228.5h0M587 224.1h0M591 233.6h0M580.1 232.6h0M588.9 233.5h0M588 232.4h0M588.8 230h0M590.4 227.4h0M572.4 231.7h0M588 228.7h0M594.7 227.3h0M584.9 228.6h0M604.7 233.3h0M593.7 230.5h0M573.1 233.3h0M595.3 225.6h0M583.4 222.5h0M589.5 230.6h0M602.6 232.1h0M596.5 227.9h0M583.6 223.9h0M584.6 228.1h0M590 228h0M579.3 230.5h0M586.5 227.6h0M600.2 228.6h0M600.2 227.5h0M589.2 232.3h0M589.3 225h0M594.3 228.2h0M583.4 230.1h0M582.3 227.8h0M593.7 229h0M573.5 231.9h0M602.2 227.5h0M573.8 235.3h0M572.4 237h0M603.4 227.7h0M594.5 228.1h0M603 227.4h0M593.1 231.3h0M595.8 228.9h0M595.2 232.9h0M594.8 231.2h0M598 231.3h0M578.3 233.8h0M598.4 222.3h0M594.4 232.4h0M600 222.8h0M591.2 233.8h0M582.4 229.5h0M582.9 229.2h0M593.9 227.1h0M575.2 225.9h0M574.7 229.1h0M598.8 219.2h0M602.2 221.4h0M573.9 228.4h0M592 218.1h0M604.1 222.9h0M586.4 223.4h0M585.1 218.6h0M579.7 222.8h0M602.6 213.7h0M603.9 218.6h0M598.9 222.8h0M576.8 227h0" stroke="#ee9a00" stroke-width="5.4" stroke-linecap="round" fill="none"/>
<path d="M606.2 255.5L606.2 236.8L608.2 236.1L610.2 235.1L612.2 234.1L614.2 233L616.2 230.3L618.2 227.6L620.2 224.8L622.2 223.4L624.2 224.1L626.2 224.8L628.2 225.5L630.2 226.6L632.2 228L634.2 229.3L636.2 230.7L638.2 232.1L640.2 233.4L642.2 234.8L644 235.6L644 255.5Z" fill="#228b22"/>
<path d="M630.2 229.9h0M612.9 237.6h0M607.7 235.8h0M611.8 230.8h0M610.6 232.5h0M612.1 237.9h0M632.8 231.4h0M633.3 232.1h0M609.3 234.2h0M632.6 224.7h0M633.2 232.7h0M629.6 224.2h0M623.7 218.5h0M616.5 225.4h0M632.7 232.7h0M608.1 235.9h0M636.2 234.6h0M618.5 225.1h0M613.4 230.9h0M624.6 228.8h0M620.5 224h0M622.9 221.8h0M612.6 232h0M620.3 223.4h0M629.7 227.6h0M621.1 220.2h0M640.7 232h0M627.4 227.9h0M609.7 232.1h0M632.2 224.8h0M619.2 225.5h0M641.9 232.5h0M628.6 228.1h0M622.6 218.7h0M620.8 222.1h0M628.7 221h0M635.9 233h0M607.6 238.9h0M622.4 222.8h0M636.2 227.3h0M609 233.8h0M636 227.4h0M627.6 228.1h0M637.4 229.2h0M631.6 223.2h0M619.7 229.8h0M627 221.7h0M614.6 230.8h0M640.3 236.2h0M628.9 224.1h0M623.9 227.5h0M616.5 227.9h0M635.3 231.1h0M610.6 233.1h0M634.7 232.6h0M627.9 220.7h0M638.6 232.9h0M624.3 223.4h0M614.2 236.1h0M613.9 232.2h0M620.7 216.5h0M621.9 215.8h0M613.7 230.7h0M641.2 230h0M612.3 227.9h0M634.4 225.5h0M628.2 219.6h0M625.7 220.1h0M623.4 207h0M623.4 213.2h0M625.9 216.6h0M628.8 215.7h0M619.7 218.6h0M633 220.7h0M638 225.7h0M616.4 224.9h0" stroke="#228b22" stroke-width="5.4" stroke-linecap="round" fill="none"/>
<path d="M642.8 255.5L642.8 239.5L644.8 239L646.8 238.4L648.8 237.8L650.8 237.2L652.8 236.8L654.8 236.5L656.8 236.2L658.8 235.9L660.8 235.3L662.8 234.7L664.8 234.1L666.8 233.5L668.8 232.3L670.8 230.7L672.8 229.2L674.8 227.7L676.8 227.7L678.8 228.7L680.8 229.6L682.8 230.5L684.1 230.8L684.1 255.5Z" fill="#ee9a00"/>
<path d="M645.4 236.3h0M677.6 228.8h0M666 236.3h0M674.2 229.4h0M680.7 227.3h0M675.8 222.1h0M654 240.1h0M651.9 239.8h0M647.4 241.5h0M665.7 231.2h0M661.8 231.9h0M679.3 233h0M667.2 235h0M648.8 235.2h0M654.1 237h0M668.9 228.3h0M670 233h0M661.5 238.2h0M681.4 225h0M652.7 240.3h0M654 238.5h0M679 224.7h0M676.5 231.9h0M674.5 226.1h0M669.1 227.8h0M646.3 241.5h0M673.3 224.4h0M670.3 233.5h0M667 231.9h0M648.2 240h0M654.1 239.7h0M662.7 237.8h0M653.4 239.8h0M670.3 235.2h0M671.8 233.2h0M645.5 236.7h0M652.7 234.2h0M677.6 224.2h0M649.5 238.9h0M647.9 235.8h0M676.7 226.8h0M661.6 237.1h0M675.9 228.1h0M668.4 236h0M652.7 240.2h0M671.7 230.2h0M649.7 235.6h0M654.4 238h0M650.2 239.7h0M676.6 229.8h0M650.6 238.2h0M656.4 233.8h0M648.6 235.2h0M646.3 236.7h0M669.9 234.4h0M662.6 237.2h0M654.1 239.4h0M658.2 232.6h0M682.7 226.5h0M647.9 240.3h0M678.7 232.8h0M672.2 232.2h0M681.9 234.3h0M675.3 229.4h0M649.6 241h0M676.3 227.8h0M652.2 233.1h0M678.2 223.9h0M666 230.8h0M652 229.6h0M671 226.6h0M648.3 236.2h0M667.3 228.3h0M655.3 233.8h0M667.5 226.1h0M671.3 185.4h0M669.6 202.8h0M672.5 206.2h0M670.4 213.2h0M672.5 216.6h0M670.4 220.7h0M673.8 224.9h0M666.3 227h0M662.1 229.9h0" stroke="#ee9a00" stroke-width="5.4" stroke-linecap="round" fill="none"/>
<line x1="174.4" y1="198.1" x2="685" y2="198.1" stroke="#231815" stroke-width="1.4" stroke-dasharray="4.1 3.9"/>
<text x="612.2" y="176.8" font-size="7.5" textLength="35.4" lengthAdjust="spacingAndGlyphs">2.3 kb Ins</text>
<line x1="650.6" y1="176" x2="663.3" y2="181.2" stroke="#231815" stroke-width="1.1"/>
<polygon points="666.6,182.6 660.6,183.3 663.3,181.2 662.8,177.9" fill="#231815"/>
<text x="0.8" y="296.4" font-size="10" font-weight="bold">g</text>
<text x="111.8" y="303.3" font-size="7.5" textLength="124.2" lengthAdjust="spacingAndGlyphs"><tspan font-style="italic">OsMED12 (Os07g0648266)</tspan> (Rice)</text>
<text x="19" y="311.1" font-size="8" textLength="16" lengthAdjust="spacingAndGlyphs">ATG</text>
<text x="279" y="311.3" font-size="8" textLength="16" lengthAdjust="spacingAndGlyphs">TGA</text>
<line x1="19" y1="317.3" x2="170" y2="317.3" stroke="#000" stroke-width="1.3"/>
<rect x="19" y="312.8" width="3.5" height="9" fill="#000"/>
<rect x="36.6" y="312.8" width="4.4" height="9" fill="#000"/>
<rect x="49" y="312.8" width="3.5" height="9" fill="#000"/>
<rect x="86.7" y="312.8" width="2.4" height="9" fill="#000"/>
<rect x="94" y="312.8" width="4.8" height="9" fill="#000"/>
<rect x="121.7" y="312.8" width="6.7" height="9" fill="#000"/>
<rect x="146.3" y="312.8" width="16.4" height="9" fill="#000"/>
<rect x="167.9" y="312.8" width="127.2" height="9" fill="#000"/>
<line x1="122.8" y1="322.6" x2="19.3" y2="376.6" stroke="#111" stroke-width="0.9"/>
<line x1="128.4" y1="322.6" x2="294.8" y2="376.6" stroke="#111" stroke-width="0.9"/>
<path d="M167.3 332.2V330.1H192.4V332.2" fill="none" stroke="#231815" stroke-width="1.0"/>
<text x="195.1" y="333.6" font-size="7.5" textLength="22.4" lengthAdjust="spacingAndGlyphs">500 bp</text>
<rect x="222.3" y="327.7" width="10.2" height="8.6" fill="#000"/>
<text x="234.9" y="334.7" font-size="7.5" textLength="16.8" lengthAdjust="spacingAndGlyphs">Exon</text>
<line x1="257.8" y1="332" x2="271" y2="332" stroke="#000" stroke-width="1.3"/>
<text x="275.1" y="334.7" font-size="7.5" textLength="19.3" lengthAdjust="spacingAndGlyphs">Intron</text>
<text x="28 34.4 40.9 47.3 53.8 60.2 66.6 73.1 79.5 86 92.4 98.8 105.3 111.7 118.2 124.6 131 137.5 143.9 150.4 156.8 163.2 169.7 176.1 182.6 189 195.4 201.9 208.3 214.8 221.2 227.6 234.1 240.5 247 253.4 259.8" y="385.7" font-size="8" text-anchor="middle">CCTTTCCCAGCCAAACAAGCGACTGCGTTCATTATCT</text>
<text x="282.8" y="385.8" font-size="8.2" textLength="12" lengthAdjust="spacingAndGlyphs">WT</text>
<text x="28 34.4 40.9 47.3 53.8 60.2 66.6 73.1 79.5 86 92.4 98.8 105.3 111.7 118.2 124.6 131 137.5 143.9 150.4 156.8 163.2 169.7 176.1 182.6 189 195.4 201.9 208.3 214.8 221.2 227.6 234.1 240.5 247 253.4 259.8" y="400.5" font-size="8" text-anchor="middle">CCTTTCCCAGCCAAAC--GCGACTGCGTTCATTATCT</text>
<text x="282.8" y="400.6" font-size="8.2" textLength="22.6" lengthAdjust="spacingAndGlyphs">CRI-2</text>
<text x="28 34.4 40.9 47.3 53.8 60.2 66.6 73.1 79.5 86 92.4 98.8 105.3 111.7 118.2 124.6 131 137.5 143.9 150.4 156.8 163.2 169.7 176.1 182.6 189 195.4 201.9 208.3 214.8 221.2 227.6 234.1 240.5 247 253.4 259.8" y="414.5" font-size="8" text-anchor="middle">CCTTTCCCAGCCAAA---GCGACTGCGTTCATTATCT</text>
<text x="282.8" y="414.6" font-size="8.2" textLength="22.6" lengthAdjust="spacingAndGlyphs">CRI-3</text>
<text transform="scale(0.62 1)" y="441.4" font-size="6.0" font-weight="bold" text-anchor="middle" font-family="'Liberation Mono',monospace" opacity="0.78"><tspan x="45.8" fill="#2f55c4">C</tspan><tspan x="56.7" fill="#2f55c4">C</tspan><tspan x="67.7" fill="#e2383a">T</tspan><tspan x="78.6" fill="#e2383a">T</tspan><tspan x="89.6" fill="#e2383a">T</tspan><tspan x="100.5" fill="#2f55c4">C</tspan><tspan x="111.5" fill="#2f55c4">C</tspan><tspan x="122.4" fill="#2f55c4">C</tspan><tspan x="133.3" fill="#2f9e4e">A</tspan><tspan x="144.3" fill="#2b2b2b">G</tspan><tspan x="155.2" fill="#2f55c4">C</tspan><tspan x="166.2" fill="#2f55c4">C</tspan><tspan x="177.1" fill="#2f9e4e">A</tspan><tspan x="188" fill="#2f9e4e">A</tspan><tspan x="199" fill="#2f9e4e">A</tspan><tspan x="209.9" fill="#2f55c4">C</tspan><tspan x="220.9" fill="#2f9e4e">A</tspan><tspan x="231.8" fill="#2f9e4e">A</tspan><tspan x="242.7" fill="#2b2b2b">G</tspan><tspan x="253.7" fill="#2f55c4">C</tspan><tspan x="264.6" fill="#2b2b2b">G</tspan><tspan x="275.6" fill="#2f9e4e">A</tspan><tspan x="286.5" fill="#2f55c4">C</tspan><tspan x="297.4" fill="#e2383a">T</tspan><tspan x="308.4" fill="#2b2b2b">G</tspan><tspan x="319.3" fill="#2f55c4">C</tspan><tspan x="330.3" fill="#2b2b2b">G</tspan><tspan x="341.2" fill="#e2383a">T</tspan><tspan x="352.2" fill="#e2383a">T</tspan><tspan x="363.1" fill="#2f55c4">C</tspan><tspan x="374" fill="#2f9e4e">A</tspan><tspan x="385" fill="#e2383a">T</tspan><tspan x="395.9" fill="#e2383a">T</tspan><tspan x="406.9" fill="#2f9e4e">A</tspan><tspan x="417.8" fill="#e2383a">T</tspan><tspan x="428.7" fill="#2f55c4">C</tspan><tspan x="439.7" fill="#e2383a">T</tspan></text>
<path d="M23.3 468.4L23.8 468.1L24.3 467.5L24.8 466.5L25.3 465L25.8 463.1L26.3 460.9L26.8 458.4L27.3 456.2L27.8 454.6L28.3 453.8L28.8 454.1L29.3 455.3L29.8 457.2L30.3 459.3L30.8 461.1L31.3 462.3L31.8 462.5L32.3 461.7L32.8 459.9L33.3 457.5L33.8 454.9L34.3 452.6L34.8 451.1L35.3 450.8L35.8 451.7L36.3 453.7L36.8 456.4L37.3 459.3L37.8 462L38.3 464.3L38.8 466L39.3 467.2L39.8 468L40.3 468.4M57.3 468.4L57.8 468.1L58.3 467.4L58.8 466.4L59.3 465L59.8 463.2L60.3 461L60.8 458.8L61.3 456.7L61.8 455.3L62.3 454.8L62.8 455.2L63.3 456.5L63.8 458.3L64.3 460.3L64.8 462L65.3 463L65.8 463.2L66.3 462.5L66.8 461L67.3 459L67.8 456.9L68.3 455L68.8 454L69.3 453.8L69.8 454.7L70.3 456.4L70.8 458.5L71.3 460.5L71.8 462.1L72.3 462.8L72.8 462.6L73.3 461.5L73.8 459.6L74.3 457.4L74.8 455.2L75.3 453.5L75.8 452.8L76.3 453.2L76.8 454.6L77.3 456.8L77.8 459.3L78.3 461.9L78.8 464.1L79.3 465.8L79.8 467L80.3 467.8L80.8 468.3M91.8 468.3L92.3 467.8L92.8 467.2L93.3 466.2L93.8 465L94.3 463.6L94.8 462.1L95.3 460.9L95.8 460L96.3 459.8L96.8 460.1L97.3 461L97.8 462.1L98.3 463.3L98.8 464.1L99.3 464.3L99.8 463.7L100.3 462.4L100.8 460.5L101.3 458.1L101.8 455.8L102.3 453.9L102.8 452.9L103.3 453L103.8 454.1L104.3 456.1L104.8 458.6L105.3 461.2L105.8 463.5L106.3 465.4L106.8 466.7L107.3 467.6L107.8 468.2M125.3 468.4L125.8 468L126.3 467.4L126.8 466.4L127.3 465.1L127.8 463.4L128.3 461.5L128.8 459.6L129.3 458L129.8 457L130.3 456.8L130.8 457.5L131.3 458.9L131.8 460.7L132.3 462.6L132.8 464.4L133.3 465.9L133.8 467L134.3 467.8L134.8 468.3M152.8 468.2L153.3 467.6L153.8 466.8L154.3 465.6L154.8 464L155.3 462.2L155.8 460.3L156.3 458.6L156.8 457.5L157.3 457.1L157.8 457.5L158.3 458.7L158.8 460.4L159.3 462.3L159.8 464.1L160.3 465.6L160.8 466.8L161.3 467.6L161.8 468.2M172.8 468.3L173.3 467.8L173.8 467L174.3 465.8L174.8 464.1L175.3 462L175.8 459.6L176.3 457.2L176.8 455.2L177.3 454L177.8 453.9L178.3 454.7L178.8 456.4L179.3 458.7L179.8 461.1L180.3 463.4L180.8 465.2L181.3 466.6L181.8 467.6L182.3 468.1M193.3 468.2L193.8 467.6L194.3 466.7L194.8 465.4L195.3 463.7L195.8 461.5L196.3 459.2L196.8 457L197.3 455.3L197.8 454.4L198.3 454.5L198.8 455.6L199.3 457.5L199.8 459.8L200.3 462.1L200.8 464.1L201.3 465.8L201.8 467L202.3 467.8L202.8 468.3M220.3 468.2L220.8 467.7L221.3 466.8L221.8 465.5L222.3 463.7L222.8 461.4L223.3 458.9L223.8 456.4L224.3 454.3L224.8 453L225.3 452.9L225.8 453.8L226.3 455.7L226.8 458.1L227.3 460.7L227.8 463.1L228.3 465.1L228.8 466.5L229.3 467.5L229.8 468.1M260.8 468.4L261.3 468L261.8 467.2L262.3 466.1L262.8 464.5L263.3 462.4L263.8 459.9L264.3 457.3L264.8 455L265.3 453.4L265.8 452.8L266.3 453.3L266.8 454.9L267.3 457.1L267.8 459.7L268.3 462.2L268.8 464.3L269.3 466L269.8 467.2L270.3 467.9L270.8 468.3" fill="none" stroke="#2f55c4" stroke-width="0.55" stroke-linejoin="round" opacity="0.92"/>
<path d="M37.3 468.1L37.8 467.5L38.3 466.5L38.8 465L39.3 463.1L39.8 460.7L40.3 458.1L40.8 455.7L41.3 453.8L41.8 452.8L42.3 453L42.8 454.2L43.3 456.1L43.8 458.3L44.3 460.2L44.8 461.4L45.3 461.6L45.8 460.7L46.3 458.6L46.8 455.7L47.3 452.5L47.8 449.6L48.3 447.7L48.8 447.1L49.3 447.9L49.8 450.1L50.3 453L50.8 456.1L51.3 458.7L51.8 460.4L52.3 460.8L52.8 459.9L53.3 457.9L53.8 455.3L54.3 452.5L54.8 450.2L55.3 448.9L55.8 449L56.3 450.4L56.8 452.9L57.3 456L57.8 459.2L58.3 462.1L58.8 464.5L59.3 466.2L59.8 467.3L60.3 468L60.8 468.4M179.3 468.4L179.8 468L180.3 467.3L180.8 466.2L181.3 464.6L181.8 462.5L182.3 459.9L182.8 457.1L183.3 454.6L183.8 452.7L184.3 451.8L184.8 452.1L185.3 453.6L185.8 455.9L186.3 458.6L186.8 461.3L187.3 463.6L187.8 465.5L188.3 466.8L188.8 467.7L189.3 468.2M206.8 468.3L207.3 467.8L207.8 467L208.3 465.7L208.8 464.1L209.3 462.1L209.8 459.8L210.3 457.6L210.8 455.9L211.3 454.9L211.8 454.9L212.3 455.8L212.8 457.4L213.3 459.4L213.8 461.2L214.3 462.6L214.8 463.2L215.3 463L215.8 461.8L216.3 460L216.8 457.9L217.3 455.8L217.8 454.4L218.3 453.8L218.8 454.2L219.3 455.7L219.8 457.8L220.3 460.2L220.8 462.5L221.3 464.5L221.8 466.1L222.3 467.2L222.8 467.9L223.3 468.4M233.8 468.2L234.3 467.7L234.8 466.8L235.3 465.4L235.8 463.5L236.3 461.1L236.8 458.3L237.3 455.5L237.8 453.2L238.3 451.7L238.8 451.3L239.3 452.1L239.8 454L240.3 456.4L240.8 458.8L241.3 460.7L241.8 461.8L242.3 461.7L242.8 460.6L243.3 458.5L243.8 455.9L244.3 453.3L244.8 451.2L245.3 450.1L245.8 450.4L246.3 451.9L246.8 454.3L247.3 457.2L247.8 460.2L248.3 462.9L248.8 465L249.3 466.5L249.8 467.5L250.3 468.1M254.3 468.1L254.8 467.5L255.3 466.5L255.8 464.9L256.3 462.8L256.8 460.3L257.3 457.5L257.8 454.8L258.3 452.6L258.8 451.4L259.3 451.5L259.8 452.7L260.3 454.9L260.8 457.6L261.3 460.4L261.8 463L262.3 465L262.8 466.5L263.3 467.5L263.8 468.1M267.8 468.3L268.3 467.8L268.8 467.1L269.3 465.9L269.8 464.3L270.3 462.3L270.8 460L271.3 457.8L271.8 456L272.3 455L272.8 454.9L273.3 455.7L273.8 457.4L274.3 459.5L274.8 461.8L275.3 463.9L275.8 465.6L276.3 466.8L276.8 467.7L277.3 468.2" fill="none" stroke="#e2383a" stroke-width="0.55" stroke-linejoin="round" opacity="0.92"/>
<path d="M77.8 468.3L78.3 467.9L78.8 467.2L79.3 466.1L79.8 464.5L80.3 462.6L80.8 460.3L81.3 458.1L81.8 456.2L82.3 455.1L82.8 454.8L83.3 455.6L83.8 457.1L84.3 459.2L84.8 461.5L85.3 463.6L85.8 465.4L86.3 466.7L86.8 467.6L87.3 468.2M104.8 468.4L105.3 468L105.8 467.3L106.3 466.2L106.8 464.7L107.3 462.7L107.8 460.4L108.3 458L108.8 455.8L109.3 454.3L109.8 453.8L110.3 454.3L110.8 455.7L111.3 457.7L111.8 459.8L112.3 461.6L112.8 462.8L113.3 463L113.8 462.4L114.3 460.9L114.8 458.9L115.3 456.8L115.8 455L116.3 453.9L116.8 453.9L117.3 454.8L117.8 456.5L118.3 458.6L118.8 460.7L119.3 462.3L119.8 463.2L120.3 463.1L120.8 462.2L121.3 460.6L121.8 458.7L122.3 456.8L122.8 455.4L123.3 454.8L123.8 455.2L124.3 456.4L124.8 458.4L125.3 460.6L125.8 462.8L126.3 464.7L126.8 466.2L127.3 467.3L127.8 468L128.3 468.4M132.3 468.1L132.8 467.5L133.3 466.6L133.8 465.2L134.3 463.3L134.8 461L135.3 458.6L135.8 456.3L136.3 454.6L136.8 453.8L137.3 454L137.8 455.2L138.3 457.1L138.8 459.2L139.3 461.2L139.8 462.6L140.3 463.1L140.8 462.8L141.3 461.6L141.8 459.8L142.3 457.7L142.8 455.9L143.3 454.6L143.8 454.3L144.3 455L144.8 456.5L145.3 458.7L145.8 461L146.3 463.2L146.8 465.1L147.3 466.5L147.8 467.5L148.3 468.1L148.8 468.4M165.8 468.2L166.3 467.6L166.8 466.7L167.3 465.1L167.8 462.9L168.3 459.9L168.8 456.4L169.3 452.8L169.8 449.5L170.3 447.1L170.8 446.1L171.3 446.7L171.8 448.8L172.3 452L172.8 455.6L173.3 459.2L173.8 462.3L174.3 464.7L174.8 466.4L175.3 467.5L175.8 468.1M227.3 468.2L227.8 467.6L228.3 466.8L228.8 465.5L229.3 463.9L229.8 461.9L230.3 459.8L230.8 457.9L231.3 456.5L231.8 455.8L232.3 456.1L232.8 457.2L233.3 459L233.8 461L234.3 463.1L234.8 464.9L235.3 466.3L235.8 467.3L236.3 468L236.8 468.4M247.3 468.2L247.8 467.5L248.3 466.5L248.8 464.9L249.3 462.6L249.8 459.7L250.3 456.3L250.8 452.8L251.3 449.8L251.8 447.7L252.3 447.1L252.8 448L253.3 450.3L253.8 453.4L254.3 456.9L254.8 460.2L255.3 463.1L255.8 465.2L256.3 466.7L256.8 467.7L257.3 468.2" fill="none" stroke="#2f9e4e" stroke-width="0.55" stroke-linejoin="round" opacity="0.92"/>
<path d="M84.8 468.4L85.3 468.1L85.8 467.6L86.3 466.9L86.8 465.9L87.3 464.7L87.8 463.4L88.3 462.2L88.8 461.3L89.3 460.8L89.8 460.9L90.3 461.6L90.8 462.6L91.3 463.9L91.8 465.2L92.3 466.3L92.8 467.2L93.3 467.8L93.8 468.3M145.8 468.4L146.3 468.1L146.8 467.6L147.3 466.8L147.8 465.8L148.3 464.5L148.8 463.1L149.3 461.8L149.8 460.8L150.3 460.3L150.8 460.3L151.3 460.9L151.8 462L152.3 463.4L152.8 464.8L153.3 466L153.8 467L154.3 467.7L154.8 468.2M159.3 468.4L159.8 468L160.3 467.4L160.8 466.5L161.3 465.3L161.8 463.8L162.3 462.1L162.8 460.5L163.3 459.2L163.8 458.4L164.3 458.4L164.8 459.1L165.3 460.3L165.8 462L166.3 463.7L166.8 465.2L167.3 466.5L167.8 467.4L168.3 468L168.8 468.4M185.8 468.4L186.3 467.9L186.8 467.1L187.3 465.7L187.8 463.6L188.3 460.7L188.8 456.9L189.3 452.6L189.8 448.2L190.3 444.5L190.8 442.1L191.3 441.5L191.8 442.9L192.3 445.8L192.8 449.9L193.3 454.3L193.8 458.4L194.3 461.9L194.8 464.5L195.3 466.3L195.8 467.5L196.3 468.1M200.3 468.2L200.8 467.8L201.3 467L201.8 466L202.3 464.6L202.8 463.1L203.3 461.5L203.8 460.1L204.3 459.1L204.8 458.8L205.3 459.2L205.8 460.2L206.3 461.7L206.8 463.3L207.3 464.8L207.8 466.1L208.3 467.1L208.8 467.8L209.3 468.3" fill="none" stroke="#2b2b2b" stroke-width="0.55" stroke-linejoin="round" opacity="0.92"/>
<text transform="scale(0.62 1)" y="498.8" font-size="6.0" font-weight="bold" text-anchor="middle" font-family="'Liberation Mono',monospace" opacity="0.78"><tspan x="40.2" fill="#2f55c4">C</tspan><tspan x="51.3" fill="#2f55c4">C</tspan><tspan x="62.5" fill="#e2383a">T</tspan><tspan x="73.7" fill="#e2383a">T</tspan><tspan x="84.8" fill="#e2383a">T</tspan><tspan x="96" fill="#2f55c4">C</tspan><tspan x="107.2" fill="#2f55c4">C</tspan><tspan x="118.4" fill="#2f55c4">C</tspan><tspan x="129.5" fill="#2f9e4e">A</tspan><tspan x="140.7" fill="#2b2b2b">G</tspan><tspan x="151.9" fill="#2f55c4">C</tspan><tspan x="163.1" fill="#2f55c4">C</tspan><tspan x="174.2" fill="#2f9e4e">A</tspan><tspan x="185.4" fill="#2f9e4e">A</tspan><tspan x="196.6" fill="#2f9e4e">A</tspan><tspan x="207.7" fill="#2f55c4">C</tspan><tspan x="218.9" fill="#2b2b2b">G</tspan><tspan x="230.1" fill="#2f55c4">C</tspan><tspan x="241.3" fill="#2b2b2b">G</tspan><tspan x="252.4" fill="#2f9e4e">A</tspan><tspan x="263.6" fill="#2f55c4">C</tspan><tspan x="274.8" fill="#e2383a">T</tspan><tspan x="285.9" fill="#2b2b2b">G</tspan><tspan x="297.1" fill="#2f55c4">C</tspan><tspan x="308.3" fill="#2b2b2b">G</tspan><tspan x="319.5" fill="#e2383a">T</tspan><tspan x="330.6" fill="#e2383a">T</tspan><tspan x="341.8" fill="#2f55c4">C</tspan><tspan x="353" fill="#2f9e4e">A</tspan><tspan x="364.1" fill="#e2383a">T</tspan><tspan x="375.3" fill="#e2383a">T</tspan><tspan x="386.5" fill="#2f9e4e">A</tspan><tspan x="397.7" fill="#e2383a">T</tspan><tspan x="408.8" fill="#2f55c4">C</tspan><tspan x="420" fill="#e2383a">T</tspan></text>
<path d="M19.7 527.4L20.2 527.1L20.7 526.5L21.2 525.5L21.7 524.1L22.2 522.2L22.7 520L23.2 517.5L23.7 515.2L24.2 513.3L24.7 512.3L25.2 512.3L25.7 513.3L26.2 515.1L26.7 517.3L27.2 519.4L27.7 521.1L28.2 522L28.7 522.1L29.2 521.3L29.7 519.8L30.2 517.9L30.7 516L31.2 514.5L31.7 513.8L32.2 514L32.7 515.1L33.2 516.9L33.7 519L34.2 521.2L34.7 523.2L35.2 524.8L35.7 526L36.2 526.8L36.7 527.2M54.7 527.4L55.2 527L55.7 526.3L56.2 525.3L56.7 524L57.2 522.4L57.7 520.6L58.2 518.8L58.7 517.2L59.2 516.3L59.7 516.1L60.2 516.7L60.7 517.9L61.2 519.4L61.7 521L62.2 522.2L62.7 522.8L63.2 522.8L63.7 521.9L64.2 520.4L64.7 518.5L65.2 516.5L65.7 514.9L66.2 513.9L66.7 513.8L67.2 514.6L67.7 516.2L68.2 518L68.7 519.9L69.2 521.3L69.7 522L70.2 521.8L70.7 520.7L71.2 518.8L71.7 516.6L72.2 514.3L72.7 512.5L73.2 511.5L73.7 511.6L74.2 512.7L74.7 514.7L75.2 517.2L75.7 519.8L76.2 522.2L76.7 524.1L77.2 525.5L77.7 526.5L78.2 527.1L78.7 527.4M89.7 527.2L90.2 526.8L90.7 526.1L91.2 525.1L91.7 523.9L92.2 522.4L92.7 521L93.2 519.7L93.7 518.8L94.2 518.5L94.7 518.8L95.2 519.6L95.7 520.8L96.2 522L96.7 523L97.2 523.5L97.7 523.4L98.2 522.7L98.7 521.3L99.2 519.5L99.7 517.6L100.2 515.9L100.7 514.8L101.2 514.5L101.7 515.1L102.2 516.5L102.7 518.4L103.2 520.5L103.7 522.5L104.2 524.2L104.7 525.5L105.2 526.5L105.7 527.1L106.2 527.4M124.2 527.4L124.7 527.1L125.2 526.7L125.7 526L126.2 525.1L126.7 524.1L127.2 522.9L127.7 521.9L128.2 521.2L128.7 520.8L129.2 520.9L129.7 521.5L130.2 522.4L130.7 523.5L131.2 524.6L131.7 525.5L132.2 526.3L132.7 526.9L133.2 527.3M138.2 527.2L138.7 526.8L139.2 526.1L139.7 525.1L140.2 523.8L140.7 522.4L141.2 520.9L141.7 519.7L142.2 518.8L142.7 518.5L143.2 518.8L143.7 519.7L144.2 521L144.7 522.5L145.2 523.9L145.7 525.1L146.2 526.1L146.7 526.8L147.2 527.2M158.7 527.3L159.2 526.9L159.7 526.3L160.2 525.4L160.7 524.1L161.2 522.6L161.7 521L162.2 519.4L162.7 518.1L163.2 517.4L163.7 517.4L164.2 518.1L164.7 519.3L165.2 520.9L165.7 522.5L166.2 524.1L166.7 525.3L167.2 526.3L167.7 526.9L168.2 527.3M179.7 527.3L180.2 526.8L180.7 526.2L181.2 525.2L181.7 524L182.2 522.6L182.7 521.1L183.2 519.8L183.7 518.9L184.2 518.5L184.7 518.8L185.2 519.6L185.7 520.9L186.2 522.3L186.7 523.8L187.2 525L187.7 526L188.2 526.7L188.7 527.2M207.2 527.3L207.7 526.8L208.2 526.1L208.7 525.1L209.2 523.7L209.7 522L210.2 520.1L210.7 518.4L211.2 517L211.7 516.2L212.2 516.2L212.7 517L213.2 518.4L213.7 520.1L214.2 522L214.7 523.7L215.2 525.1L215.7 526.1L216.2 526.8L216.7 527.3M248.7 527.2L249.2 526.8L249.7 526L250.2 524.9L250.7 523.3L251.2 521.4L251.7 519.3L252.2 517.3L252.7 515.6L253.2 514.7L253.7 514.6L254.2 515.4L254.7 516.9L255.2 518.8L255.7 520.9L256.2 522.9L256.7 524.5L257.2 525.8L257.7 526.6L258.2 527.2" fill="none" stroke="#2f55c4" stroke-width="0.55" stroke-linejoin="round" opacity="0.92"/>
<path d="M33.7 527.2L34.2 526.7L34.7 525.8L35.2 524.4L35.7 522.5L36.2 519.9L36.7 516.9L37.2 513.8L37.7 511L38.2 508.9L38.7 508L39.2 508.4L39.7 510L40.2 512.4L40.7 515.1L41.2 517.5L41.7 519.1L42.2 519.6L42.7 518.7L43.2 516.6L43.7 513.7L44.2 510.4L44.7 507.3L45.2 505.2L45.7 504.3L46.2 505.1L46.7 507.2L47.2 510.2L47.7 513.6L48.2 516.6L48.7 518.8L49.2 519.8L49.7 519.5L50.2 518.1L50.7 515.9L51.2 513.4L51.7 511.1L52.2 509.5L52.7 509.1L53.2 509.9L53.7 511.8L54.2 514.4L54.7 517.4L55.2 520.2L55.7 522.7L56.2 524.5L56.7 525.9L57.2 526.7L57.7 527.3M165.2 527.3L165.7 526.9L166.2 526.1L166.7 524.9L167.2 523.2L167.7 520.9L168.2 518.1L168.7 515.2L169.2 512.4L169.7 510.3L170.2 509.2L170.7 509.3L171.2 510.7L171.7 513L172.2 515.9L172.7 518.8L173.2 521.5L173.7 523.7L174.2 525.3L174.7 526.4L175.2 527L175.7 527.4M194.2 527.2L194.7 526.8L195.2 526.3L195.7 525.7L196.2 524.9L196.7 524.2L197.2 523.6L197.7 523.2L198.2 523.1L198.7 523.3L199.2 523.7L199.7 524.3L200.2 524.9L200.7 525.3L201.2 525.4L201.7 525.1L202.2 524.5L202.7 523.5L203.2 522.2L203.7 521L204.2 519.9L204.7 519.3L205.2 519.2L205.7 519.7L206.2 520.7L206.7 522L207.2 523.3L207.7 524.6L208.2 525.7L208.7 526.5L209.2 527L209.7 527.4M220.7 527.2L221.2 526.6L221.7 525.6L222.2 524.1L222.7 521.9L223.2 519.1L223.7 515.7L224.2 512.2L224.7 509L225.2 506.7L225.7 505.6L226.2 506L226.7 507.8L227.2 510.6L227.7 513.7L228.2 516.6L228.7 518.8L229.2 519.9L229.7 519.8L230.2 518.5L230.7 516.4L231.2 513.8L231.7 511.5L232.2 509.7L232.7 509.1L233.2 509.7L233.7 511.4L234.2 513.9L234.7 516.9L235.2 519.7L235.7 522.3L236.2 524.2L236.7 525.7L237.2 526.6L237.7 527.2M241.2 527.4L241.7 527L242.2 526.4L242.7 525.3L243.2 523.6L243.7 521.3L244.2 518.5L244.7 515.3L245.2 512.2L245.7 509.6L246.2 507.9L246.7 507.5L247.2 508.5L247.7 510.7L248.2 513.7L248.7 516.9L249.2 519.9L249.7 522.5L250.2 524.5L250.7 525.8L251.2 526.7L251.7 527.3M255.2 527.4L255.7 527.1L256.2 526.4L256.7 525.4L257.2 523.9L257.7 521.9L258.2 519.6L258.7 517L259.2 514.5L259.7 512.6L260.2 511.5L260.7 511.6L261.2 512.7L261.7 514.7L262.2 517.1L262.7 519.7L263.2 522.1L263.7 524L264.2 525.5L264.7 526.5L265.2 527.1L265.7 527.4" fill="none" stroke="#e2383a" stroke-width="0.55" stroke-linejoin="round" opacity="0.92"/>
<path d="M75.7 527.4L76.2 527.1L76.7 526.7L77.2 526L77.7 525.1L78.2 524.1L78.7 523L79.2 522L79.7 521.2L80.2 520.8L80.7 520.9L81.2 521.5L81.7 522.4L82.2 523.4L82.7 524.5L83.2 525.5L83.7 526.3L84.2 526.9L84.7 527.3M103.7 527.3L104.2 526.9L104.7 526.3L105.2 525.5L105.7 524.5L106.2 523.4L106.7 522.4L107.2 521.5L107.7 520.9L108.2 520.8L108.7 521.2L109.2 521.9L109.7 522.8L110.2 523.8L110.7 524.6L111.2 525L111.7 525.1L112.2 524.7L112.7 524L113.2 523.1L113.7 522.1L114.2 521.3L114.7 520.9L115.2 520.8L115.7 521.2L116.2 522L116.7 523L117.2 523.9L117.7 524.6L118.2 525L118.7 524.9L119.2 524.4L119.7 523.5L120.2 522.5L120.7 521.4L121.2 520.6L121.7 520.1L122.2 520.2L122.7 520.7L123.2 521.7L123.7 522.9L124.2 524.1L124.7 525.2L125.2 526.1L125.7 526.7L126.2 527.2M151.7 527.4L152.2 527L152.7 526.4L153.2 525.4L153.7 524.2L154.2 522.6L154.7 520.9L155.2 519.2L155.7 517.8L156.2 517L156.7 516.8L157.2 517.4L157.7 518.7L158.2 520.3L158.7 522L159.2 523.7L159.7 525L160.2 526.1L160.7 526.8L161.2 527.3M214.2 527.4L214.7 527.1L215.2 526.5L215.7 525.8L216.2 524.7L216.7 523.5L217.2 522.2L217.7 521L218.2 520.1L218.7 519.6L219.2 519.7L219.7 520.3L220.2 521.4L220.7 522.6L221.2 523.9L221.7 525.1L222.2 526L222.7 526.7L223.2 527.2M234.7 527.3L235.2 526.8L235.7 526L236.2 524.8L236.7 523.1L237.2 521L237.7 518.6L238.2 516.1L238.7 514L239.2 512.6L239.7 512.2L240.2 512.8L240.7 514.4L241.2 516.6L241.7 519L242.2 521.4L242.7 523.5L243.2 525L243.7 526.2L244.2 526.9L244.7 527.3" fill="none" stroke="#2f9e4e" stroke-width="0.55" stroke-linejoin="round" opacity="0.92"/>
<path d="M82.7 527.2L83.2 526.7L83.7 525.9L84.2 524.8L84.7 523.4L85.2 521.7L85.7 520L86.2 518.4L86.7 517.3L87.2 516.8L87.7 517.1L88.2 518L88.7 519.5L89.2 521.2L89.7 522.9L90.2 524.4L90.7 525.6L91.2 526.5L91.7 527.1L92.2 527.4M130.7 527.2L131.2 526.6L131.7 525.6L132.2 524L132.7 521.9L133.2 519.1L133.7 515.8L134.2 512.4L134.7 509.4L135.2 507.2L135.7 506.3L136.2 506.9L136.7 508.8L137.2 511.7L137.7 515L138.2 518.4L138.7 521.3L139.2 523.6L139.7 525.3L140.2 526.4L140.7 527.1L141.2 527.4M144.7 527.4L145.2 527.1L145.7 526.6L146.2 525.8L146.7 524.7L147.2 523.4L147.7 521.9L148.2 520.3L148.7 519.1L149.2 518.2L149.7 518L150.2 518.5L150.7 519.5L151.2 520.9L151.7 522.4L152.2 523.9L152.7 525.2L153.2 526.1L153.7 526.8L154.2 527.3M171.7 527.4L172.2 527L172.7 526.3L173.2 525L173.7 523L174.2 520.1L174.7 516.4L175.2 512L175.7 507.4L176.2 503.2L176.7 500.1L177.2 498.7L177.7 499.2L178.2 501.6L178.7 505.4L179.2 509.9L179.7 514.5L180.2 518.5L180.7 521.8L181.2 524.1L181.7 525.7L182.2 526.7L182.7 527.3M186.2 527.4L186.7 527L187.2 526.3L187.7 525.3L188.2 523.9L188.7 522.1L189.2 520L189.7 517.9L190.2 516.1L190.7 514.9L191.2 514.5L191.7 515L192.2 516.3L192.7 518.2L193.2 520.3L193.7 522.3L194.2 524L194.7 525.4L195.2 526.4L195.7 527L196.2 527.4" fill="none" stroke="#2b2b2b" stroke-width="0.55" stroke-linejoin="round" opacity="0.92"/>
<text transform="scale(0.62 1)" y="558.8" font-size="6.0" font-weight="bold" text-anchor="middle" font-family="'Liberation Mono',monospace" opacity="0.78"><tspan x="43.2" fill="#2f55c4">C</tspan><tspan x="54.3" fill="#2f55c4">C</tspan><tspan x="65.4" fill="#e2383a">T</tspan><tspan x="76.5" fill="#e2383a">T</tspan><tspan x="87.5" fill="#e2383a">T</tspan><tspan x="98.6" fill="#2f55c4">C</tspan><tspan x="109.7" fill="#2f55c4">C</tspan><tspan x="120.8" fill="#2f55c4">C</tspan><tspan x="131.8" fill="#2f9e4e">A</tspan><tspan x="142.9" fill="#2b2b2b">G</tspan><tspan x="154" fill="#2f55c4">C</tspan><tspan x="165.1" fill="#2f55c4">C</tspan><tspan x="176.1" fill="#2f9e4e">A</tspan><tspan x="187.2" fill="#2f9e4e">A</tspan><tspan x="198.3" fill="#2f9e4e">A</tspan><tspan x="209.4" fill="#2b2b2b">G</tspan><tspan x="220.4" fill="#2f55c4">C</tspan><tspan x="231.5" fill="#2b2b2b">G</tspan><tspan x="242.6" fill="#2f9e4e">A</tspan><tspan x="253.7" fill="#2f55c4">C</tspan><tspan x="264.7" fill="#e2383a">T</tspan><tspan x="275.8" fill="#2b2b2b">G</tspan><tspan x="286.9" fill="#2f55c4">C</tspan><tspan x="298" fill="#2b2b2b">G</tspan><tspan x="309" fill="#e2383a">T</tspan><tspan x="320.1" fill="#e2383a">T</tspan><tspan x="331.2" fill="#2f55c4">C</tspan><tspan x="342.3" fill="#2f9e4e">A</tspan><tspan x="353.3" fill="#e2383a">T</tspan><tspan x="364.4" fill="#e2383a">T</tspan><tspan x="375.5" fill="#2f9e4e">A</tspan><tspan x="386.6" fill="#e2383a">T</tspan><tspan x="397.6" fill="#2f55c4">C</tspan><tspan x="408.7" fill="#e2383a">T</tspan></text>
<path d="M21.6 587.3L22.1 586.9L22.6 586.1L23.1 584.8L23.6 583L24.1 580.5L24.6 577.6L25.1 574.4L25.6 571.4L26.1 569.1L26.6 568L27.1 568.1L27.6 569.6L28.1 571.9L28.6 574.7L29.1 577.2L29.6 579L30.1 579.8L30.6 579.2L31.1 577.4L31.6 574.7L32.1 571.6L32.6 568.6L33.1 566.4L33.6 565.6L34.1 566.2L34.6 568.3L35.1 571.3L35.6 574.8L36.1 578.3L36.6 581.3L37.1 583.6L37.6 585.3L38.1 586.4L38.6 587.1M56.1 587.2L56.6 586.7L57.1 585.7L57.6 584.3L58.1 582.2L58.6 579.6L59.1 576.5L59.6 573.4L60.1 570.6L60.6 568.6L61.1 567.9L61.6 568.5L62.1 570.3L62.6 572.9L63.1 575.7L63.6 578.3L64.1 580L64.6 580.7L65.1 580.2L65.6 578.7L66.1 576.5L66.6 574.1L67.1 572L67.6 570.6L68.1 570.3L68.6 571.1L69.1 572.9L69.6 575.3L70.1 577.7L70.6 579.6L71.1 580.7L71.6 580.7L72.1 579.7L72.6 577.7L73.1 575.2L73.6 572.6L74.1 570.4L74.6 569.2L75.1 569.3L75.6 570.5L76.1 572.8L76.6 575.6L77.1 578.6L77.6 581.3L78.1 583.6L78.6 585.2L79.1 586.3L79.6 587L80.1 587.4M90.6 587.4L91.1 587L91.6 586.3L92.1 585.4L92.6 584L93.1 582.4L93.6 580.5L94.1 578.7L94.6 577.2L95.1 576.3L95.6 576.1L96.1 576.7L96.6 577.9L97.1 579.4L97.6 580.8L98.1 581.8L98.6 582L99.1 581.3L99.6 579.7L100.1 577.2L100.6 574.3L101.1 571.5L101.6 569.2L102.1 568L102.6 568.1L103.1 569.6L103.6 572L104.1 575.1L104.6 578.2L105.1 581.1L105.6 583.4L106.1 585.1L106.6 586.3L107.1 587L107.6 587.4M131.6 587.4L132.1 587L132.6 586.3L133.1 585.3L133.6 583.8L134.1 581.9L134.6 579.6L135.1 577.3L135.6 575.2L136.1 573.7L136.6 573.1L137.1 573.5L137.6 574.9L138.1 576.9L138.6 579.2L139.1 581.5L139.6 583.5L140.1 585L140.6 586.2L141.1 586.9L141.6 587.3M152.1 587.3L152.6 586.8L153.1 586L153.6 584.7L154.1 582.8L154.6 580.3L155.1 577.4L155.6 574.2L156.1 571.3L156.6 569L157.1 568L157.6 568.2L158.1 569.8L158.6 572.4L159.1 575.5L159.6 578.6L160.1 581.4L160.6 583.7L161.1 585.3L161.6 586.4L162.1 587.1L162.6 587.4M173.1 587.2L173.6 586.7L174.1 585.8L174.6 584.6L175.1 582.9L175.6 580.9L176.1 578.7L176.6 576.5L177.1 574.9L177.6 573.9L178.1 573.9L178.6 574.9L179.1 576.6L179.6 578.7L180.1 580.9L180.6 583L181.1 584.6L181.6 585.9L182.1 586.7L182.6 587.2M200.1 587.4L200.6 587L201.1 586.3L201.6 585.2L202.1 583.6L202.6 581.4L203.1 578.7L203.6 575.9L204.1 573.2L204.6 571L205.1 569.9L205.6 570L206.1 571.3L206.6 573.5L207.1 576.3L207.6 579.2L208.1 581.7L208.6 583.8L209.1 585.4L209.6 586.4L210.1 587.1L210.6 587.4M241.6 587.2L242.1 586.6L242.6 585.6L243.1 584.1L243.6 582.1L244.1 579.5L244.6 576.6L245.1 573.7L245.6 571.2L246.1 569.5L246.6 569.1L247.1 570L247.6 572L248.1 574.7L248.6 577.6L249.1 580.5L249.6 582.9L250.1 584.7L250.6 586L251.1 586.8L251.6 587.3" fill="none" stroke="#2f55c4" stroke-width="0.55" stroke-linejoin="round" opacity="0.92"/>
<path d="M35.6 587.1L36.1 586.4L36.6 585.3L37.1 583.7L37.6 581.4L38.1 578.5L38.6 575.2L39.1 571.9L39.6 569.1L40.1 567.3L40.6 566.8L41.1 567.7L41.6 569.8L42.1 572.6L42.6 575.4L43.1 577.8L43.6 579.1L44.1 579.2L44.6 577.9L45.1 575.4L45.6 572.2L46.1 568.9L46.6 566.2L47.1 564.6L47.6 564.5L48.1 565.9L48.6 568.5L49.1 571.8L49.6 574.9L50.1 577.4L50.6 578.7L51.1 578.6L51.6 577.1L52.1 574.5L52.6 571.3L53.1 568.1L53.6 565.6L54.1 564.4L54.6 564.8L55.1 566.7L55.6 569.7L56.1 573.3L56.6 577L57.1 580.3L57.6 583L58.1 584.9L58.6 586.2L59.1 586.9L59.6 587.4M159.1 587.2L159.6 586.6L160.1 585.6L160.6 584.1L161.1 581.9L161.6 579.1L162.1 575.9L162.6 572.6L163.1 569.6L163.6 567.6L164.1 566.8L164.6 567.5L165.1 569.5L165.6 572.4L166.1 575.7L166.6 579L167.1 581.8L167.6 584L168.1 585.5L168.6 586.6L169.1 587.2M186.6 587.4L187.1 587L187.6 586.4L188.1 585.4L188.6 584.1L189.1 582.4L189.6 580.4L190.1 578.3L190.6 576.5L191.1 575.3L191.6 574.9L192.1 575.3L192.6 576.5L193.1 578.2L193.6 580L194.1 581.5L194.6 582.4L195.1 582.5L195.6 581.7L196.1 580.3L196.6 578.3L197.1 576.2L197.6 574.4L198.1 573.3L198.6 573.1L199.1 573.9L199.6 575.6L200.1 577.8L200.6 580.1L201.1 582.3L201.6 584.2L202.1 585.5L202.6 586.5L203.1 587.1L203.6 587.4M214.1 587.1L214.6 586.4L215.1 585.4L215.6 583.7L216.1 581.4L216.6 578.4L217.1 575L217.6 571.6L218.1 568.7L218.6 566.7L219.1 566.1L219.6 566.9L220.1 569L220.6 571.9L221.1 575L221.6 577.6L222.1 579.2L222.6 579.6L223.1 578.7L223.6 576.7L224.1 574L224.6 571L225.1 568.5L225.6 567L226.1 566.9L226.6 568.1L227.1 570.6L227.6 573.7L228.1 577.1L228.6 580.2L229.1 582.7L229.6 584.7L230.1 586L230.6 586.8L231.1 587.3M234.6 587.2L235.1 586.7L235.6 585.8L236.1 584.4L236.6 582.4L237.1 579.8L237.6 576.7L238.1 573.6L238.6 570.7L239.1 568.7L239.6 567.9L240.1 568.5L240.6 570.3L241.1 573L241.6 576.1L242.1 579.2L242.6 581.9L243.1 584.1L243.6 585.6L244.1 586.6L244.6 587.2M248.1 587.4L248.6 587.1L249.1 586.4L249.6 585.4L250.1 583.8L250.6 581.7L251.1 579.1L251.6 576.3L252.1 573.5L252.6 571.3L253.1 570L253.6 569.9L254.1 571.1L254.6 573.2L255.1 575.9L255.6 578.8L256.1 581.4L256.6 583.6L257.1 585.2L257.6 586.3L258.1 587L258.6 587.4" fill="none" stroke="#e2383a" stroke-width="0.55" stroke-linejoin="round" opacity="0.92"/>
<path d="M76.6 587.4L77.1 587.1L77.6 586.5L78.1 585.6L78.6 584.2L79.1 582.4L79.6 580.3L80.1 578.1L80.6 576L81.1 574.5L81.6 573.8L82.1 574.1L82.6 575.3L83.1 577.1L83.6 579.3L84.1 581.5L84.6 583.4L85.1 585L85.6 586.1L86.1 586.9L86.6 587.3M104.6 587.2L105.1 586.7L105.6 585.9L106.1 584.7L106.6 583.2L107.1 581.4L107.6 579.6L108.1 577.9L108.6 576.6L109.1 576.1L109.6 576.3L110.1 577.3L110.6 578.7L111.1 580.3L111.6 581.6L112.1 582.3L112.6 582.2L113.1 581.3L113.6 579.5L114.1 577.1L114.6 574.6L115.1 572.3L115.6 570.7L116.1 570.3L116.6 571L117.1 572.7L117.6 575L118.1 577.5L118.6 579.7L119.1 581.2L119.6 581.7L120.1 581.2L120.6 579.9L121.1 578L121.6 576L122.1 574.3L122.6 573.3L123.1 573.2L123.6 574L124.1 575.7L124.6 577.9L125.1 580.3L125.6 582.5L126.1 584.3L126.6 585.6L127.1 586.5L127.6 587.1M145.1 587.3L145.6 586.7L146.1 585.7L146.6 584.1L147.1 581.8L147.6 578.6L148.1 574.6L148.6 570.3L149.1 566.1L149.6 562.7L150.1 560.8L150.6 560.7L151.1 562.4L151.6 565.6L152.1 569.8L152.6 574.1L153.1 578.1L153.6 581.4L154.1 583.9L154.6 585.6L155.1 586.6L155.6 587.2M207.1 587.4L207.6 587L208.1 586.3L208.6 585.3L209.1 583.8L209.6 581.8L210.1 579.5L210.6 577.1L211.1 574.9L211.6 573.3L212.1 572.6L212.6 573L213.1 574.3L213.6 576.3L214.1 578.7L214.6 581.1L215.1 583.2L215.6 584.9L216.1 586L216.6 586.8L217.1 587.3M227.6 587.3L228.1 586.8L228.6 585.9L229.1 584.5L229.6 582.4L230.1 579.7L230.6 576.4L231.1 572.9L231.6 569.5L232.1 567L232.6 565.7L233.1 565.9L233.6 567.6L234.1 570.4L234.6 573.8L235.1 577.4L235.6 580.5L236.1 583.1L236.6 584.9L237.1 586.2L237.6 586.9L238.1 587.4" fill="none" stroke="#2f9e4e" stroke-width="0.55" stroke-linejoin="round" opacity="0.92"/>
<path d="M84.1 587.2L84.6 586.8L85.1 586.1L85.6 585.1L86.1 583.9L86.6 582.4L87.1 581L87.6 579.7L88.1 578.8L88.6 578.5L89.1 578.8L89.6 579.8L90.1 581.1L90.6 582.6L91.1 584L91.6 585.2L92.1 586.2L92.6 586.8L93.1 587.3M125.1 587.2L125.6 586.7L126.1 585.9L126.6 584.8L127.1 583.3L127.6 581.4L128.1 579.5L128.6 577.6L129.1 576.2L129.6 575.5L130.1 575.6L130.6 576.5L131.1 578.1L131.6 580L132.1 582L132.6 583.7L133.1 585.2L133.6 586.2L134.1 586.9L134.6 587.3M138.6 587.4L139.1 587L139.6 586.3L140.1 585.3L140.6 583.9L141.1 582.1L141.6 580.1L142.1 578.1L142.6 576.3L143.1 575.2L143.6 574.9L144.1 575.5L144.6 576.9L145.1 578.7L145.6 580.8L146.1 582.8L146.6 584.4L147.1 585.7L147.6 586.6L148.1 587.1M165.6 587.3L166.1 586.8L166.6 585.8L167.1 584.3L167.6 581.9L168.1 578.7L168.6 574.6L169.1 570L169.6 565.4L170.1 561.6L170.6 559.2L171.1 558.7L171.6 560.1L172.1 563.3L172.6 567.6L173.1 572.3L173.6 576.6L174.1 580.3L174.6 583.2L175.1 585.1L175.6 586.3L176.1 587.1M180.1 587.3L180.6 586.8L181.1 586.1L181.6 585.1L182.1 583.8L182.6 582.2L183.1 580.5L183.6 579L184.1 577.8L184.6 577.3L185.1 577.5L185.6 578.4L186.1 579.8L186.6 581.4L187.1 583.1L187.6 584.5L188.1 585.7L188.6 586.5L189.1 587.1L189.6 587.4" fill="none" stroke="#2b2b2b" stroke-width="0.55" stroke-linejoin="round" opacity="0.92"/>
<text x="285.6" y="457.5" font-size="8.2" textLength="12.8" lengthAdjust="spacingAndGlyphs">WT</text>
<text x="283.1" y="518.2" font-size="8.2" textLength="22.4" lengthAdjust="spacingAndGlyphs">CRI-2</text>
<text x="283.1" y="578.2" font-size="8.2" textLength="22.4" lengthAdjust="spacingAndGlyphs">CRI-3</text>
<polygon points="130.1,492.4 128.9,480.3 133.3,485.4 139.0,485.0" fill="#000"/>
<line x1="133.2" y1="486" x2="135.7" y2="479" stroke="#000" stroke-width="1.3"/>
<polygon points="125.7,553.8 124.8,541.9 129.2,547.0 135.1,546.4" fill="#000"/>
<line x1="129.1" y1="547.6" x2="131.6" y2="540.6" stroke="#000" stroke-width="1.3"/>
<text x="326.4" y="299.8" font-size="10" font-weight="bold">f</text>
<text x="339" y="308.1" font-size="7.5" textLength="29" lengthAdjust="spacingAndGlyphs">−10.3kb</text>
<text x="414.5" y="300.9" font-size="7.5" textLength="14.9" lengthAdjust="spacingAndGlyphs">(+1)</text>
<text x="413.2" y="309.9" font-size="7.5" textLength="16.5" lengthAdjust="spacingAndGlyphs">ATG</text>
<text x="656" y="310.7" font-size="7.5" textLength="15.6" lengthAdjust="spacingAndGlyphs">TGA</text>
<text x="518.9" y="306.1" font-size="7.5" textLength="65.7" lengthAdjust="spacingAndGlyphs"><tspan font-style="italic">ZjMED12</tspan> (Jujube)</text>
<line x1="341.1" y1="317.5" x2="416.2" y2="317.5" stroke="#000" stroke-width="1.2" stroke-dasharray="2.6 2.0"/>
<line x1="351.8" y1="312.5" x2="351.8" y2="322.6" stroke="#000" stroke-width="1.3"/>
<path d="M368.2 323.0L378.2 312.6M377.2 323.0L387.6 312.6" stroke="#fff" stroke-width="2.6" fill="none"/>
<path d="M368.2 323.0L378.2 312.6M377.2 323.0L387.6 312.6" stroke="#000" stroke-width="1.2" stroke-dasharray="2.4 1.6" fill="none"/>
<line x1="416.2" y1="317.5" x2="660" y2="317.5" stroke="#000" stroke-width="1.3"/>
<rect x="416.3" y="312.7" width="2.6" height="9.4" fill="#000"/>
<rect x="430.6" y="312.7" width="1.4" height="9.4" fill="#000"/>
<rect x="434.2" y="312.7" width="1.4" height="9.4" fill="#000"/>
<rect x="449.8" y="312.7" width="1.4" height="9.4" fill="#000"/>
<rect x="453.8" y="312.7" width="1.4" height="9.4" fill="#000"/>
<rect x="458.2" y="312.7" width="2" height="9.4" fill="#000"/>
<rect x="470.4" y="312.7" width="2.8" height="9.4" fill="#000"/>
<rect x="476.2" y="312.7" width="6.8" height="9.4" fill="#000"/>
<rect x="486.2" y="312.7" width="51.1" height="9.4" fill="#000"/>
<rect x="564.9" y="312.7" width="55.4" height="9.4" fill="#000"/>
<rect x="622.1" y="312.7" width="1.6" height="9.4" fill="#000"/>
<rect x="631.6" y="312.7" width="6.2" height="9.4" fill="#000"/>
<rect x="653.2" y="312.7" width="9" height="9.4" fill="#000"/>
<polygon points="351.8,325.6 357.0,333.0 346.6,333.0" fill="#fff" stroke="#e21f26" stroke-width="1.4" stroke-linejoin="miter"/>
<text x="335" y="343.6" font-size="7.5" textLength="35.2" lengthAdjust="spacingAndGlyphs">2.3 kb Ins</text>
<path d="M495.8 333.0V330.9H518.6V333.0" fill="none" stroke="#231815" stroke-width="1.0"/>
<text x="519.9" y="334.5" font-size="7.5" textLength="14" lengthAdjust="spacingAndGlyphs">1 kb</text>
<rect x="540" y="326.9" width="7.4" height="9.5" fill="#2a1614"/>
<text x="550.8" y="334.9" font-size="7.5" textLength="16.2" lengthAdjust="spacingAndGlyphs">Exon</text>
<line x1="571.1" y1="332.3" x2="585.1" y2="332.3" stroke="#000" stroke-width="1.3"/>
<text x="588.6" y="334.9" font-size="7.5" textLength="18.7" lengthAdjust="spacingAndGlyphs">Intron</text>
<line x1="612.2" y1="332.3" x2="625.8" y2="332.3" stroke="#000" stroke-width="1.3" stroke-dasharray="2.6 2.0"/>
<text x="628.4" y="334.9" font-size="7.5" textLength="33" lengthAdjust="spacingAndGlyphs">Upstream</text>
<text x="327.6" y="358.8" font-size="10" font-weight="bold">h</text>
<rect x="345.8" y="365.2" width="144.4" height="162.6" fill="#040404"/>
<rect x="345.8" y="531" width="144.4" height="58.6" fill="#040404"/>
<rect x="457.7" y="524.5" width="30.7" height="2" fill="#fff"/>
<rect x="457.7" y="585.3" width="30.7" height="2" fill="#fff"/>
<text x="376.4" y="602" font-size="9" text-anchor="middle">WT</text>
<text x="429.4" y="602" font-size="9" text-anchor="middle">CRI-2</text>
<text x="466.8" y="602" font-size="9" text-anchor="middle">CRI-3</text>
<path d="M373 508L379.6 516.8" stroke="#9ab85a" stroke-width="1.5" stroke-linecap="round" fill="none"/>
<path d="M389 383C380 412 366 446 366.5 478C367 494 370 502 373.5 509" stroke="#8a7a34" stroke-width="1.4" fill="none"/>
<path d="M371.3 434.6l-0.7 -3.7M367.6 439.4l0.1 -3.3M368.4 483.4l0.4 -3.3M383.2 430.7l1 -2M375.7 441.9l1 -2.4M379.8 406.5l-0.3 -3M386.2 387.1l-1.2 -2.7M365.8 473.9l-0.6 -3.4M365.4 499.9l-1.5 -1.8M385.5 410.4l1.6 -2.7M372.2 427.3l0.2 -3.3M376.4 433.2l0.3 -2.3M378.1 425.9l0.3 -2.2M371.5 445.8l0.3 -2.4M384.2 404.4l0.1 -2.8M378.1 415.9l0 -2.1M377.8 442l1 -2M386.4 401.7l1 -3.7M366.8 466.1l-0.3 -3.1M369.7 462.5l1.3 -3.3M386.2 427.8l3 -2M365.5 500.1l-1.6 -2.1M370.8 506l-1.8 -2.6M372.4 447.5l0.1 -3.2M378.9 423.7l1.1 -3.6M370.3 478.4l0.4 -2.6M369 472.5l0.6 -2M392.2 396l1.3 -2.7M370.7 484.7l1.7 -3.4M366.7 500.9l-1.6 -2.3M389.4 383.4l0.9 -2.7M375.1 436.4l0.7 -2.1M360.6 469.1l-1.1 -3" stroke="#cc9a40" stroke-width="1.45" stroke-linecap="round" fill="none"/>
<path d="M379.8 404.2l-0 -2.5M379.5 428.5l1.1 -1.8M370.1 426.9l-0.4 -2.4M374.1 412l-0.1 -2.3M381.1 404.6l-0 -2.2M374.2 471.3l1.8 -2.5M377.7 411.4l-0.5 -3.5M373 456.6l2.2 -2.9M372.5 428.4l0.2 -3.4M385.3 413.6l0.3 -3.9M381.5 404.6l-0.4 -2.5M370.9 449.5l0.1 -2.2M371.2 444.8l1.3 -3.4M387.3 404.1l0.5 -3M367.3 478l-0.1 -3.8M388.7 391.7l-0.5 -2.8M366 473.4l0.7 -2.7M371.5 429.1l0.3 -3.6M372.6 461l0.7 -3.2M382.8 389l-0.8 -2.8M370.6 451.3l0.8 -2.9M382.7 391l0.3 -3.5M361.7 459.9l0.2 -2.5M372.7 504.3l-1 -3.2M379.9 410.2l-0.2 -3.2M373.4 462.7l1.2 -2.1M379.3 424.6l0.2 -2.8M371.7 431.2l1.2 -3.4M376 432.1l0.2 -2.6M362.1 460.5l-1 -3.5M381.9 427l1 -2.7M364.9 471.9l-0.4 -3.1" stroke="#dcae58" stroke-width="1.45" stroke-linecap="round" fill="none"/>
<path d="M388 383.9l-0.3 -2.8M383.1 396.6l0.7 -2.4M389.5 386.1l0.9 -3.5M372.3 441.6l1.2 -2.5M367.7 464.7l0.1 -2.5M388.6 386.7l0.7 -3.2M382.1 425.4l1.2 -2.1M369.8 495.2l-1.5 -2.9M383.1 442.3l2.2 -2.2M366.2 501.1l-1.9 -2.4M392.4 389.2l1.3 -3.2M377.1 411.8l0.4 -3.7M369.2 469.7l1.7 -3.3M390.8 420.1l1.7 -2.1M379.8 447.6l1.4 -2.1M366.2 462l1.1 -2.6M372.3 427.8l-0.4 -3.8M383.2 424.8l1.7 -3.1M386.9 416.6l0.6 -2.1M385.3 421.2l2.2 -2.8M368.9 437.3l-0.5 -3.2M388 385.4l-1.3 -3M375.8 420l1 -2.6M367.5 484.7l-1.4 -3.5M381.2 432.8l1.1 -3.4M390.3 409.4l2.1 -1.7M377.7 425l0.3 -3.6M380.7 440.3l1.6 -2.3M366.2 448.1l-0.5 -3.3M379.5 415.2l1.2 -2.4M369.2 448.1l0.2 -2.9M384.9 405.8l0.9 -3.4M370.1 497.2l-0.5 -2.2M369.9 449.5l1 -3M376.5 421.2l0.9 -3.6M387.5 409.7l1.3 -2.1" stroke="#b88430" stroke-width="1.45" stroke-linecap="round" fill="none"/>
<path d="M365 488.4l-1.4 -3.5M365.5 439.9l-0.8 -2M378.5 431.3l1.7 -2.6M373 460.6l0.8 -2.3M372.2 494.7l0.9 -2.9M387.4 397.5l0.2 -3.4M372.3 449.5l1.3 -3.2M374 471.3l1.6 -2.7M383.6 422.5l2.3 -2.4M369.3 494.1l-1.1 -3M373.8 439.8l0.8 -2.5M382.8 415.8l0.8 -3M378.3 437.3l1.2 -2.5M379.8 414.2l0.2 -3.4M376.8 447.9l1.7 -1.6M380.2 417.2l0.7 -3.7M372.1 501.1l-0.1 -3.7M365 492.1l-0.9 -2.3M382.6 432.2l1.2 -2.4M364.5 448.2l0.1 -2.2M382 394.3l-0.1 -3M375.6 432.7l1.3 -2.5M377.5 441l1.3 -3.5M370.1 443.9l0.9 -3.5M392.4 384.6l2.2 -2.6M372.8 457.9l1.5 -3M385.4 390.2l0.4 -2.5M390.5 415.9l3 -2.3M372.5 452.3l1.5 -2.8M378.3 443.7l1.6 -3.2M367.9 457l0.2 -2.6M370 432.2l0.3 -3.3M383.6 403.8l0.5 -2.4M381.2 429.4l0.9 -2.7M390.1 400.7l1.3 -3.2M373.3 465.3l0.8 -3.5" stroke="#ecd490" stroke-width="1.45" stroke-linecap="round" fill="none"/>
<path d="M371.1 436l1 -3.5M384.8 414.7l1.5 -2.2M373.5 420.6l0.5 -2.4M376.1 446l1.2 -2.8M385.3 409.3l1.6 -3.5M383.8 414.4l0.4 -3M381 418.5l0.1 -2.6M378.1 417.4l0.4 -2.2M382.5 417.6l1.5 -3.2M384.8 422.4l1.9 -2M382 392l-0.1 -3M367.7 483.8l0.2 -3.4M374.7 439.6l0.9 -2.8M368 426.8l0.1 -2.8M365.9 432.1l1.4 -3.1M372.9 452l1.1 -3.6M367 482.9l0 -3.5M370.5 502.8l-1.1 -2.8M364.3 491.2l-0.9 -2.7M376.2 409l0.6 -2.3M388.8 389.7l0.7 -2.8M375.2 438.1l2.4 -2.6M376.9 408.6l-0.2 -3.4M370.1 487.1l0 -2.3M381.1 423.8l1.4 -3.4M364.4 473.7l-0.6 -3.2M370 422.4l-1.3 -3.2M379.4 411.1l-0.5 -3.2M372.1 482.9l0.1 -2.4M378.4 444.7l2.2 -2.1M368.1 447.4l0.2 -2.8M364.9 455.9l-0.2 -3.5M368.4 495.7l-1.1 -2.5M377.3 410.2l0.8 -3M366.1 477.9l-0.3 -2.5M367.9 501.3l-2.4 -2.4M371.2 504l-0.6 -2.7" stroke="#a87428" stroke-width="1.45" stroke-linecap="round" fill="none"/>
<path d="M367.3 479.9l0.8 -3.2M382.9 409.8l0.4 -2.4M372.4 443.5l0.7 -2.1M366.7 470.5l1.4 -3.6M370.9 428.6l1.2 -1.8M371.7 476.3l1.5 -2M371.9 493.8l0.2 -3.1M381.5 406l0.4 -2.2M372.5 427.6l0.5 -2.4M372.9 464.3l1 -1.9M369.5 456.9l1.2 -3M388.6 428.7l1.1 -2.3M384.5 438.5l1.4 -2M385.7 403l0.6 -2.2M383.2 405.1l-0 -3.8M363.6 483.4l-0.1 -2.5M368.3 440.6l-0.1 -2.5M368.5 486.6l0.1 -2.9M376.8 437.2l0.7 -2.1M364.7 490.9l-0.3 -2.9M372.6 459.2l1.7 -3.2M371.7 479.9l1.3 -3.4M388.7 396.1l1.6 -3.4M370.2 418.2l-0.6 -2.1M366.1 476.5l0.5 -3.8M367.3 487.1l0.3 -2.6M368.5 487.2l0.2 -2.5M380.2 422.4l1.3 -2M361.5 474.5l-1.1 -1.9M386.5 382.7l-1.3 -3.5" stroke="#d4a44a" stroke-width="1.45" stroke-linecap="round" fill="none"/>
<path d="M371.4 496l-0 -2.8M370.5 503.7l-0.8 -3.2M371 473.1l0.6 -3M372.2 505.6l-0.8 -3M384.3 429.4l1.5 -3.2M379.9 400.5l-0.6 -3M369.9 420.2l-0.4 -2.4M360.8 470.2l-1.4 -3M389 396.3l0.2 -2.8M366.7 501.1l-2.4 -2.5M389.3 389.4l0.9 -2.6M387.9 385.8l0.3 -2.4M381.2 415.1l-0 -2.5M373.6 506.2l-1 -2.5M366.9 429.1l-0.7 -2.9M366.6 456.9l0.2 -3.1M370.8 446l0.5 -2.2M366.6 475.7l0.1 -3.5M365.8 493.6l-1.2 -2.8M369.3 470l-0 -2.3M390.4 400.6l1 -2.2M386.2 390.6l-0.8 -3.7M380.8 409.2l-0.2 -2.9M380.7 420.3l1 -3M380.4 427.3l0.4 -3.7M387.3 384.8l0.1 -2.9M363.2 449.2l-0.7 -3M384.4 413.2l1.7 -3.1M366.6 496.7l-1.2 -2.7M367.6 454.5l1.8 -2.2M375.1 435.6l1.3 -2.7M376.1 453l1.8 -2.4" stroke="#d89a4c" stroke-width="1.45" stroke-linecap="round" fill="none"/>
<path d="M373.4 434.1l1.1 -3M377.7 411.7l0.2 -3.4M370.3 441.4l1.9 -3.2M368.1 472.8l1 -2.6M380.6 404.6l-0.3 -3.2M371.3 458.5l1 -2.3M374.1 430.7l0.9 -3M370.3 498.6l-0.9 -2.6M370.9 430.5l-0.2 -2.8M366.4 438.1l0.2 -2.4M362.1 473.1l-0.8 -3.6M366.5 429.4l-0.7 -2.7M384.8 436.6l1.8 -1.8M367.1 432.9l-0.2 -2.5M379.1 426.8l0.8 -3.6M375.7 461.8l1.6 -1.5M390.4 395.5l1.5 -3.4M367.8 482.7l-0.5 -2.8M362.7 489.4l-1.7 -3M379.8 401.1l-1.2 -3.1M380.9 429.9l2.2 -3.1M386.2 405.2l0.7 -2.1M383.8 388.9l-0.3 -3.2M375 438.1l1.3 -2.4M386.7 423.8l2.7 -1.9M376.9 417.3l0.2 -2.4M378.5 443.1l2.9 -2.1M379.2 417.5l0.7 -3.8M386.2 396.5l0 -3.4M370 499.5l-1.4 -3.6M389.4 419l1.4 -1.9M386.9 397.9l0.4 -2.3M372.6 495.1l1 -3.6M370.7 451.1l0.9 -3.6M371.8 479.2l0.6 -2.5M373.7 447.9l1.6 -2.8M368.3 501.5l-1.6 -3M368.9 473.4l1 -2.5" stroke="#9a8a3a" stroke-width="1.45" stroke-linecap="round" fill="none"/>
<path d="M371.9 462.7l1.4 -2.7M373.8 506.2l-0.3 -3.2M384 394.2l-0 -3.3M375.7 449.7l1.4 -2.5M377.4 405.2l-0.6 -2.4M378 438.6l2.2 -2.4M365.9 458.8l-0.2 -3.8M375.8 416.1l-0.3 -2.2M386.6 400.1l0.7 -3.2M367.8 498.6l-1.7 -1.7M366.3 468.6l0.9 -3.3M368.2 432.4l0.2 -2.4M381.8 407l-0.7 -2.9M376.4 451.8l1.6 -2.7M364.9 462.9l0.1 -2.7M388.7 394.2l0.2 -2.6M370.9 507.2l-1.8 -1.4M382.7 397.7l-0.1 -2.5M377.2 417.4l1.3 -3.3M382.7 390.3l-1.3 -3.6M389.1 384.6l1.4 -2.2M378.6 437.9l1.9 -2.8M369.5 443.2l-0.8 -3.7M372.9 500.5l-0 -2.3M361.7 474.6l-1.7 -3.1M389.8 386.6l0.8 -3.5" stroke="#e4c070" stroke-width="1.45" stroke-linecap="round" fill="none"/>
<path d="M425.6 380L421 512L420.2 519.5" stroke="#587c30" stroke-width="1.3" fill="none"/>
<path d="M434 425C432 450 429 470 425.5 486" stroke="#7ba344" stroke-width="1.0" fill="none"/>
<path d="M421.1 489.8l-0.7 -2.7M420.1 445.1l0.7 -4.5M418.8 428.8l0.5 -4M422.1 450.6l-0.5 -3.2M419.2 457.8l-0.9 -3.1M418.2 442.2l-0.1 -4.2M422.5 437.3l0.3 -2.6M423.4 437.9l1 -3.9M421.7 493.1l0.4 -4M422.2 457.8l-1.2 -3.8M423.5 403.6l0.1 -3.3M418.4 463.5l-0.3 -3.5M425.9 421.6l0.4 -2.6M420.4 473.8l0.1 -2.8M419.7 422.2l0.3 -3.4M426.6 466.2l0.9 -3.2M423.3 396.5l-0.3 -4.2M424.1 442.8l1.1 -2.9M422.1 426.6l0.1 -2.9M421.7 496.4l0.2 -4M423.9 420.3l-0.3 -3.3M420.8 421.3l0.2 -4.2M426.5 459l0.1 -3.7M420.7 443.7l-0.1 -4.6M422.2 441l-1 -3.2M421.1 450.5l-1.1 -3.8M424 479.4l0.5 -4.4M421.5 459.4l-0.4 -3.3M428.6 429.2l1.4 -4.3M426.1 464.5l1.1 -3.1M418.9 459.1l0.3 -3M420 458.9l0.1 -4.5M421.8 440.6l0.8 -3.3M418.7 486.3l-1.1 -3.8" stroke="#5f8534" stroke-width="1.25" stroke-linecap="round" fill="none"/>
<path d="M419.1 425.7l-1 -4.4M420.9 490.7l-0.6 -3.1M425.9 418.6l1.6 -4M418.2 492.8l-0.3 -3.1M420.7 455.6l-1.5 -4.4M422.5 439.5l-0 -4.7M421 497.4l0.4 -4.3M417 442.5l-0.3 -3.2M420.1 500.9l0.2 -3.1M423.7 413.2l-0.8 -3.6M422.8 478.9l0.3 -3.3M422.1 465.9l0.5 -2.9M420.9 453.3l0.5 -3.6M422.9 417.5l0.6 -3.3M424.1 435.4l-0.1 -2.7M427.7 448.3l1.3 -2.8M426.4 418.7l2.2 -3.2M415.6 472.4l0.3 -3.8M424.3 434.1l0.7 -2.6M424.6 483.2l0.8 -2.6M421.2 495.8l-0.3 -4.6M425.1 481.4l0.3 -3.7M422.1 485.4l1.2 -3.7M423.3 448.3l0.2 -4.3M417.1 467.5l-1.5 -3.7M419.6 469.7l-0.3 -4.5M419.8 419.2l-0.7 -4" stroke="#73983e" stroke-width="1.25" stroke-linecap="round" fill="none"/>
<path d="M420.4 451.4l1.6 -3.8M423.5 410.1l1 -4.3M421 463.7l0.3 -3.7M428.4 438.4l2.2 -3.3M428 431.4l1.1 -4.4M419.7 456.8l-0.6 -3.2M416.9 457.5l-1.1 -4.2M422 502.6l0.3 -2.9M420.3 477.6l-0.8 -4M425.9 409.2l1 -3.5M419.9 492.9l-0.2 -2.5M425.9 395.5l0.9 -4.6M426.1 442.7l0.9 -3.6M426.8 391.2l1.4 -3.6M422.8 471.6l0 -2.8M422.6 445.2l0.7 -4.4M422.4 442.8l-0.5 -3.8M427.1 401.4l1.2 -4.3M419.6 475.3l-0.8 -4.2M422.4 476.7l0.6 -2.7M425.4 405.5l0.8 -4.2M426.7 430.5l0.8 -4M417.2 485.8l-1.9 -2.7M422.5 470.8l0.4 -2.8M423.5 495.3l1.5 -3.8M416.3 449.5l-0.8 -2.5M421.4 504.8l0.4 -3.5M425.5 432.4l0.7 -4" stroke="#53772d" stroke-width="1.25" stroke-linecap="round" fill="none"/>
<path d="M421.8 419.9l-1.4 -3.7M425.6 387l-0.1 -4.2M419.5 472l0.3 -2.9M423.8 406.2l-0.2 -4.3M421.8 461.2l-1.4 -3.9M421.1 500l0.5 -2.7M428.3 448.3l2 -3.1M426.3 390.7l-0.9 -3.7M424.3 435.6l2 -3.7M421.4 452.6l0.3 -2.8M423.6 488.5l1.5 -4.1M417.2 448.6l-0.2 -4.1M426.1 446.2l-0.2 -4.3M420.4 469.1l0.5 -2.9M423.5 473.2l0.5 -2.5M419.6 504.2l-1.5 -4.2M423.8 480.1l0.7 -3.5M415.3 458.7l-0.9 -4.4M423.8 454.8l0 -2.9M421.5 445.5l0.3 -4.2M422.4 479.2l1.2 -2.9M414.8 451.7l-1.2 -3.7M415.3 442.7l-0.9 -3.5M421.9 450l0.4 -4.6M414.9 446.6l-0.4 -4.1M425.4 408.1l0.9 -4.2M422.4 452.8l-0.3 -4.5M426 394.6l1 -4.3M421.8 443l-1.8 -4M426.9 455l0.6 -3.1M424.9 398.1l0.5 -4M423.9 461.7l1 -3.2M422 458l-0.2 -2.9M421 500.5l-0.5 -3.6" stroke="#86a64c" stroke-width="1.25" stroke-linecap="round" fill="none"/>
<path d="M421 458.1l0.5 -3.8M416.9 481.1l-1.1 -3.6M422 432l0.5 -3.3M422.8 463.4l0.4 -2.6M425.9 382.4l0 -2.7M420.9 426.1l-2.1 -4.2M424.6 443.7l1.1 -3.4M421.2 481.7l-0.3 -3.4M426.7 438.1l1.4 -3.1M418.2 473.3l-0.5 -3.1M421 482.5l-0.3 -4.3M423.9 491.8l-0.3 -2.8M417.7 478.9l0.3 -2.9M424.6 424.2l0.4 -3.3M422.4 438l1.1 -3.5M426.4 404.6l0.1 -4.4M426.6 463.3l0.5 -4.2M422 417.4l-0.3 -3.2M421.4 503l0.6 -3M421.6 438.4l0.7 -4.2M418.9 492l0.4 -2.6M425.6 417.5l-0.3 -3.9M421.8 503.1l1.3 -2.5M421.7 428.6l-0.3 -4.2M425.9 421.5l0.6 -3.4" stroke="#698c38" stroke-width="1.25" stroke-linecap="round" fill="none"/>
<path d="M428.6 428.6l0.8 -4M421.6 463.8l1.4 -3.4M420.7 466.5l0.6 -3.9M418.8 453l-0.3 -3.3M425 398.5l0.6 -3M422.7 430.1l0.6 -2.5M420.7 440.9l0.8 -4.2M421.4 503.1l0.1 -4.4M428.3 419.1l0.1 -3.1M424.8 400l0.9 -2.6M423.8 426.9l-0 -3.2M420.7 495.1l-0.1 -3.2M415.4 462.4l-1.1 -3.2M420.1 471.8l-0.1 -2.6M418.6 495.4l-0.7 -4.5M422.7 488.9l0.4 -3.1M424.1 430l-0.4 -3.6M424 405.8l0.1 -4.3M421.2 508.2l0.4 -2.6M424.8 441.2l0.9 -3.8M423.3 492.7l-1 -4.4M424.1 427.2l0.2 -3.1M421.8 467.7l0.6 -2.5M424.2 392.2l-0.7 -3.7M426.6 422.2l1.4 -3M422.1 464.7l-0.5 -2.7M418.6 467.8l0.3 -2.6" stroke="#7a9042" stroke-width="1.25" stroke-linecap="round" fill="none"/>
<path d="M420.3 464.4l-0.8 -4.5M424.2 470.7l1.6 -3M420.4 453l0.9 -3.9M426.8 387.2l0.5 -2.5M419 439.5l0 -2.7M420.8 486.3l-0.5 -4.4M427.1 430.1l1.6 -3.1M424.8 474.7l0.7 -3.3M420 433l0.1 -4.1M419.4 438.3l-0.2 -2.5M424.6 484.5l0.7 -3.5M424.4 421.5l0.8 -3.2M427.5 406.1l0.8 -3.2M428.8 423.7l1.2 -2.7M421 431.3l-0.5 -2.5M417.5 447.4l-0.8 -3.5M422.6 460.6l-0.6 -4M418.9 485.5l0.9 -2.8M420 496l-0 -3.3M424.2 468.3l1.9 -2.6M423.6 472.4l1.3 -3.9M419.3 428.5l-0.6 -3.4M420.3 500.2l-0.1 -3.9M427.7 410.7l0.9 -4.5M419.6 452.3l-0.6 -3.7M423.1 434.5l-0.2 -3.4M424.6 398.8l-1.1 -2.9M425.2 408.7l0.9 -3.7M424.6 473.6l1.5 -4.4M424 412.4l0.4 -2.7M419.6 413.6l-0.1 -3.9M425.5 441l0.2 -3.6M425.5 402.9l0.5 -4.5M423.2 437.4l-0.3 -4.1M417.3 459.9l-0.9 -2.6" stroke="#c9b26c" stroke-width="1.25" stroke-linecap="round" fill="none"/>
<path d="M466.3 378C466 420 461 470 458.7 496L457.3 519.5" stroke="#587c30" stroke-width="1.3" fill="none"/>
<path d="M457.6 508L457.3 519.8" stroke="#6a5a2a" stroke-width="1.3" fill="none"/>
<path d="M461.1 417l0.9 -4.2M469.3 436.1l1.1 -4.2M459.1 485l0.3 -3.6M464.1 416.6l0.4 -2.5M464.9 425l0.8 -3.1M467.1 395.2l0.7 -4.4M461.8 474.9l0.5 -3M457.5 451.6l-1 -3.4M462.6 459.4l0.4 -3.5M467.1 388.7l1.2 -3.1M465.7 435.4l0.1 -4.5M459.8 482.4l0.2 -4M465.3 388.3l-0.1 -4.1M467.3 386.2l0.3 -3.1M462.8 446.7l-0.1 -2.5M469.2 421.8l0.7 -4.4M462.2 430l0.8 -4.3M465.8 417.6l1 -3.3M465.7 403.1l-0 -4.6M458.8 468.6l-1.9 -3.1M466 390.1l0.6 -3.3M467.4 409.4l0.2 -2.7M459 431.2l0.9 -3.7M467.2 443.9l0.1 -3.1M461 482.8l-0.8 -2.5M463.9 433.8l1 -4M461.1 452.3l1.6 -3.6M456.9 452.9l-1.2 -3.4M454.8 448.5l-0.9 -4.3M461.9 429.4l-0 -3M466.4 388.9l-0.8 -3.2M461.6 415.6l0.5 -4.1M455.6 447.3l-0.2 -4.4M461.7 448l-0.1 -3.6" stroke="#5f8534" stroke-width="1.25" stroke-linecap="round" fill="none"/>
<path d="M460.2 464.6l-1.1 -3.9M463 467.6l0.4 -3.9M457.7 464.9l-0.3 -2.6M457.7 420.5l-0.2 -3.2M462.7 416.4l-0.7 -3.5M459.1 428.2l0.6 -4.1M462.4 414.1l-0.3 -2.5M468.6 430.8l0.6 -2.6M462.7 451.6l1.1 -2.7M463.7 415.8l1.9 -3.6M469.7 438.5l1.3 -3.6M464.4 410.2l-0.2 -4M470.6 431.4l0.7 -3.2M459.6 436.5l0.8 -3M466.4 382.5l0.9 -4.2M461.3 478.8l-0.2 -2.5M464.2 453.2l-0.3 -3.9M462.4 431l0 -3.3M462.5 476.5l1.2 -3.3M466 386.1l0.3 -4.5M460.6 449.4l-0.2 -2.7M462.2 432.4l0.6 -3.1M461 452.8l0.4 -3.6M456.9 458.5l-1.6 -3M456 442.8l0.9 -4.5M465.9 400.3l0.3 -3.7M461.5 424l0.4 -4.2M464.1 410.2l0.2 -3.9M470.5 424.7l2.3 -1.9" stroke="#73983e" stroke-width="1.25" stroke-linecap="round" fill="none"/>
<path d="M464.7 392.4l-0 -2.6M461 483.4l1.1 -4.3M459.2 456l-0.7 -3.4M467.9 444l0.9 -4.3M465.5 413.7l-0.1 -3.1M466.3 385.6l-1.1 -4M464.4 403.6l0.1 -3.7M455.3 441.5l0.6 -4.2M466 379.9l-0.1 -4.1M466.9 380.3l0.8 -3.3M467.4 416.6l0.5 -3.6M463.3 435.8l1 -3.7M463.4 401l-0.5 -3.3M463.1 395.2l-0.2 -3.3M465.9 383.9l-0.1 -3.6M461.7 414.8l-1.1 -2.8M457.8 446.7l-0.6 -3.4M460.4 429.9l0.2 -3.8M466.1 388.4l0.6 -4.1M461 479.9l-0.5 -3.9M468.2 401.9l-0.8 -4.2" stroke="#53772d" stroke-width="1.25" stroke-linecap="round" fill="none"/>
<path d="M460.4 452.5l-1 -4.4M463.1 398.6l-0.5 -2.9M461.1 433.9l0.2 -3.3M461.1 421.5l0.5 -2.5M456.2 434.4l0.6 -3.5M466.9 381.5l1 -4.4M456.8 467.4l-1.6 -3.7M466.4 406.9l0.7 -4.4M455.4 435.9l0.2 -4.3M468.8 416.1l1.7 -3.5M463.6 454.5l0.4 -3M457.1 433.8l-0.3 -4.6M469.1 400l1.2 -2.6M459.6 491.7l-0.1 -4.4M459.1 490.4l1.1 -4M458.4 490l-0.6 -4.3M464.4 445l2.5 -3.3M465.6 417.9l1 -4M461.8 414.1l-0.2 -2.5M464.9 461.5l1.3 -2.5M462.4 423.5l0.6 -2.6M466.1 404l-0.2 -4M467.1 451l1.4 -3.3M456.7 436.8l0.4 -2.8M468 435.6l0.5 -3M462.5 468.6l1.6 -3.6M463.7 455.9l0.8 -3.7M467.3 438.7l-0.3 -4.6M458.8 424.5l-0.3 -3.8M463.3 470.1l1.3 -3.2M466.3 436.6l1.1 -3.7M466.8 418.2l1.8 -3.8M461.1 448.9l0.3 -2.7" stroke="#86a64c" stroke-width="1.25" stroke-linecap="round" fill="none"/>
<path d="M465.9 460.9l1.2 -4.4M460 475.6l-0.6 -2.9M467.2 438.9l0.1 -3.7M468.3 407.1l-0 -3.6M467.2 430.9l1.4 -2.9M464.8 455.8l0.7 -3.2M470.2 419.5l1 -2.6M462.2 449.6l0.4 -2.8M458.1 426.4l-0.2 -2.5M456.6 459.8l-0.9 -3M461.9 468.8l-0.1 -3M454.7 446.8l0.5 -4M463.3 441.8l-0.2 -4.4M462.1 461.5l0.8 -4.3M464.4 420.5l-0.4 -3.7M469.4 407.2l0.9 -4M468.4 433.5l1.7 -3.2M465.7 459.2l0.7 -4.1M465.6 414.5l0.6 -2.7M460.8 458.6l0.5 -4M466.3 422.5l0.2 -4.5M457.3 447.5l-1.1 -3.9" stroke="#698c38" stroke-width="1.25" stroke-linecap="round" fill="none"/>
<path d="M470.5 431.1l0.5 -3.1M464 462.5l0.3 -4.3M461.9 471.1l1.3 -4.5M464.9 413.1l-0.2 -2.6M461.1 465.6l-0.6 -4M458.2 433.5l-0.3 -4.5M462.2 429.8l-0.4 -2.8M461.9 460.6l-0.6 -4M459.1 414.7l-0.8 -3.8M465.9 424.6l2.3 -3.6M458 424.4l0.5 -3.8M462.3 429.6l-0.1 -4.5M463.2 395.8l-1.1 -3.1M467.8 443.3l1.3 -3.6M470.5 421.5l0.9 -4.1M465.8 392.6l0.3 -4.6M461.7 404.5l-0.4 -4.3M462.7 446.1l0.1 -3.3M467.1 451l1.3 -2.7M463.5 461.4l0.6 -4.5M461.5 465.1l0.5 -4.6M463.9 435.3l0.6 -2.5M457.5 470.9l0.9 -2.7" stroke="#7a9042" stroke-width="1.25" stroke-linecap="round" fill="none"/>
<path d="M458.4 468.3l-0.6 -4M465.8 389.1l-0.2 -3.9M459.9 468.1l0.6 -4.6M464.4 392.9l0.6 -3.4M468.4 429.2l0.2 -3.3M464.7 429.3l0.1 -4.5M470.2 436l1.6 -3M458.5 483.5l-0.4 -4M465.1 418.6l0.4 -4.3M460.1 417l0.3 -4M463.9 396.8l0.2 -3.3" stroke="#d48e4e" stroke-width="1.25" stroke-linecap="round" fill="none"/>
<path d="M458.5 437.1l-0.5 -4.1M466.6 456.1l1.3 -3.1M460.2 442.4l1.5 -3.4M463.6 465.4l0.4 -3.8M469.7 406.1l1.4 -3.3M465.8 456.3l0.3 -4.5M463.6 455.2l0.3 -4.6M467.7 427.9l1.6 -3.1M466.5 414.3l0.1 -3.4M465.4 406.1l0.6 -3.1M459.4 424.7l-0.6 -4.4M467.1 437.5l0.9 -2.6M462.5 411.9l-0.3 -3.5M467 393.4l0.4 -4.3M461.1 471.3l0.4 -3.2M463.4 449.5l0.9 -3.1M454.1 440.1l-0.6 -4.2" stroke="#c98a4a" stroke-width="1.25" stroke-linecap="round" fill="none"/>
<path d="M467.5 385.5l0.5 -3.7M467 402l0.7 -2.7M468.2 404.8l1.7 -3.3M460.6 427.3l0.5 -2.7M466.3 402.9l0.3 -3M467.7 443l1.2 -3.1M460.2 420.6l0.2 -4.2M461.5 474l1.3 -3.5M458.9 484.6l-0.9 -2.6M468.4 391l1.3 -3.4M459.8 450.4l-0.3 -2.6M468.8 418.3l0 -4.3M463.1 422.5l0.8 -4.5M460.8 444.8l1.5 -4M464.9 445.8l0.3 -4.1M467.2 425l0.5 -3.8M457.1 446.8l-0.1 -3.1M469.6 409.6l0.6 -3.5M466.4 418.2l-0.1 -4M463.8 433.4l1 -2.6" stroke="#c9b26c" stroke-width="1.25" stroke-linecap="round" fill="none"/>
<path d="M367 540.6l2 -0.3M372.1 540.3l1.6 1.3M380 540.5l2 -0.2M384.5 540.1l1.7 1M365.4 542.4l2 -0.3M368.5 542.2l1.8 -0.9M373.1 541.9l1.7 1.1M376.3 541.1l1.7 1M378.9 543.2l0.7 -1.9M383.2 543.4l1.2 -1.6M388.8 542.4l2 0.1M361.7 543.6l1.9 0.7M364.9 543.8l2 0.3M367 543.6l1.4 1.4M370.4 543.6l2 -0.2M374 543.2l1.9 0.7M377.3 544.5l2 -0.3M381.6 543.2l1.4 1.4M385.5 544.6l1.2 -1.6M387.5 542.9l2 0.1M361.8 545.9l1.8 0.8M366.3 546.5l1.9 -0.5M370.3 546l1.3 -1.5M373.5 545.2l2 -0.2M375.4 545.7l1.8 -0.9M378.3 545.8l1.9 -0.5M381.9 546.7l1.9 -0.7M386.1 545.8l1.4 -1.4M389.2 545.1l1.9 0.5M392.6 544.5l1.2 1.6M357.3 548.1l2 -0.4M360.9 548l1.9 -0.7M364.1 547.3l1.9 0.5M367.2 547l2 0.4M370.1 547.9l2 -0.4M373.7 547.9l2 -0.3M376.7 547.1l1.4 1.4M380.7 548l1.6 -1.2M384.3 547.8l2 -0.3M387.6 546.6l0.5 1.9M391.4 547.9l1.5 -1.3M394.6 548l1.7 -1M355.7 550.6l1.6 -1.2M359.3 549.7l2 -0.4M362.6 549.3l1.6 -1.3M366.8 549.1l2 -0.4M368.7 549l2 0.3M372.3 548.2l1.8 0.9M376.1 548.7l2 0.4M378.9 549.9l1.7 -1M382.8 548.9l2 0.3M385.3 549l2 -0.1M388.5 549.4l1.9 -0.6M392.9 549.4l2 -0.1M357.2 550.7l1.8 0.8M360.7 550.7l2 0.2M363.8 550.9l2 -0.1M367 551.1l1.9 0.6M370.5 551.3l2 -0M375.7 550.1l0.2 2M378.1 550.6l1.9 0.5M380.3 551.4l2 -0.3M384.3 550.5l2 -0.4M388.1 550.5l1.7 1M390.4 550.5l2 0.1M394.1 550.2l1.8 0.9M359.5 552.7l2 -0.3M362.1 552.5l2 -0.1M365.9 552.9l1.7 -1.1M368.7 552l1.8 0.9M373.6 552.9l2 0M375.8 553.1l1.9 -0.5M379.2 553l2 0M381.6 552.3l2 0.1M385.7 551.2l0.9 1.8M389 552.8l2 -0M392.8 551.4l1.4 1.4M355.8 553.3l1.4 1.4M358.4 553.3l0.5 1.9M362.1 553.9l1.7 1.1M363.6 554.1l1.8 0.8M367.7 553.9l1.9 0.7M370.7 554.9l1.4 -1.5M373.1 554.4l2 -0.2M378 555l1.7 -1M380 554.9l2 -0.4M384.2 554.4l1.9 -0.8M388 555.2l2 -0.4M390.2 554.4l1.9 0.7M394.2 555.6l1.4 -1.4M396.1 553.9l1.6 1.2M356.3 556.4l1.9 -0.7M359.6 555.3l2 0.2M361.9 556l2 -0.4M366.5 555.1l1 1.7M369.7 556.3l1.6 1.1M372.5 555.9l2 0.1M376.3 556.1l2 0.3M379.9 556.3l1.8 -0.8M381.9 556.1l2 0.1M384.9 556.2l1.9 -0.5M389.2 556.7l2 0.1M392.4 556.5l1.9 -0.6M395.3 556.1l1.8 0.9M357.8 557.7l1.5 1.3M360.9 557.8l1.3 1.5M364.7 557.4l1.6 1.2M366.4 557.9l1.9 -0.7M370.6 557.9l2 -0.3M373.6 558.2l1.9 0.5M377.5 557.3l1.9 0.7M380.3 556.9l1.8 0.8M383.4 557.3l1.8 0.8M387.4 558.1l2 0.1M390.7 557.3l1.5 1.4M394 558.6l1.9 -0.6M396.8 556.5l1.2 1.6M356.7 560.6l1.2 -1.6M359.7 559.1l1.9 0.7M361.9 559.6l1.9 0.6M366.3 560.1l1.9 -0.4M369.4 560l1.5 -1.4M372.9 560.3l1.7 -1M375.4 559.2l1.9 0.5M378.9 559.7l2 0.3M382.3 559.1l2 0M386.5 560.3l1.6 -1.2M389.2 559.3l1.7 1.1M392.5 558.7l1.8 0.9M395.6 558.9l1.9 0.5M397.6 559l2 0.2M353.9 561.9l2 -0.4M357.8 559.7l1.5 1.3M362 561.5l1.9 0.5M364 561.3l2 -0.3M367.1 561.3l1.6 -1.2M371 560.7l1.9 0.7M374.5 560.7l1.9 0.7M377.3 561.1l1.9 -0.7M380.7 561.1l2 0.2M384.9 560.3l1.6 1.1M387.1 561.3l1.9 0.5M391.7 560.8l1.8 1M394.2 560.2l1.5 1.3M396.8 561.4l1.9 0.8M355.8 563.2l2 0.3M359.6 563.6l2 -0.4M362.6 563.2l1.9 0.7M365.9 563.5l1.6 -1.1M369.2 563.2l1.8 -1M373.2 563.4l1.8 0.8M375.2 563.2l2 -0.2M379.1 563.7l1.9 0.5M382.2 563.3l2 -0.1M385.4 563.5l1.5 -1.3M388.9 563l2 -0.3M391.6 562.8l1.9 0.8M395.7 564.2l1.7 -1M354 564.7l2 -0.2M357.4 563.4l1.5 1.3M360.6 566.4l1.5 -1.3M363.7 564.8l2 0.4M367.2 565l2 -0.2M371.1 565l1.7 1.1M373.8 566.5l1 -1.7M377.2 565.1l1.9 -0.5M380.7 564.6l2 0.1M383.2 564.9l2 -0M387.1 563.9l1 1.7M391.5 565l2 -0.1M393.6 564.7l1.9 0.7M359.8 566l1.9 0.7M362.8 566l1.7 1M366.2 565.8l0.6 1.9M368.7 566.7l2 -0.2M372.6 567.3l1.4 -1.5M375.9 565.9l1.8 0.8M378.2 567.4l1.8 -0.8M382.9 566.1l1.6 1.2M386 565.8l0.9 1.8M388.7 566.7l1.9 0.4M392.2 566.6l2 0.3M354.7 567.4l1.6 1.2M356.8 567.7l1.9 0.5M360.7 569l1.9 -0.7M363.7 568.7l1.9 -0.5M367.5 569.4l2 -0.3M370.8 568.2l1.8 0.8M374.4 569.1l1.7 -1M377.7 569l2 -0M381 569.3l1.8 -1M384.1 568.4l1.9 -0.5M386.9 568.5l1.9 -0.7M391.5 567.9l1.8 0.8M393.2 568.8l2 0M397.9 568.7l1.2 -1.6M359.6 570.2l1.9 -0.5M362.4 570.5l2 -0.4M366.7 569.3l1.7 1M368.5 570.4l2 -0.1M371.9 569.9l1.9 0.6M375.2 570.4l1.9 -0.7M378.5 570.7l2 -0.4M382.2 570.3l1.9 -0.7M385.6 570.6l1.8 -0.9M389.7 570l1.7 -1M391.7 569.5l2 0.3M356.9 570.8l2 0.4M360.4 572.7l1.9 -0.5M364.4 570.3l1.4 1.4M366.8 572.9l1.7 -1.1M371.6 573.2l1 -1.7M373.6 570.9l1.9 0.7M378.2 572.3l0.8 -1.8M380.9 571.7l1.8 0.8M384 571.8l1.9 -0.7M387.3 572.5l1.4 -1.4M390.6 571.7l1.9 -0.5M359.2 573.7l2 0.2M363.1 574.4l1.3 -1.5M366.8 572.8l1.2 1.6M368.4 573.4l1.9 0.7M373.3 573.4l1.7 1M375.7 574.3l2 -0.4M379.7 572.3l1.4 1.4M382.4 572.3l0.4 2M385.8 572.2l1.9 0.5M388.1 572.7l1.9 0.7M392.3 573.2l2 0.2M364.9 575.3l1.8 0.9M367.7 576.8l1.1 -1.6M370.7 576.3l0.7 -1.9M374.3 575.3l1.8 -0.9M377.6 575.7l2 0.4M380.6 576.2l1.9 -0.6M384.4 576.5l1.8 -0.8M387.1 576.5l1.8 -0.9M390.2 575.7l2 -0.1M366 576.3l2 0.2M369.3 577l2 0M372.4 576l1.4 1.5M375.8 577l1.9 -0.7M379.2 577.7l1.6 -1.2M381.8 576.8l2 0.1M386.1 578l1.5 -1.3M388.4 576.5l1.9 0.5M368 578.1l1.4 1.4M374.4 578.9l2 0.1M377.2 578.2l1.6 1.2M383.5 578.4l1.9 0.6M387 579.4l1.7 -1.1M369.6 580.4l1.7 1M373.1 581l1.6 -1.2M379.5 581.3l1.5 -1.3M383.1 580l1.8 0.8" stroke="#8a6430" stroke-width="1.75" stroke-linecap="round" fill="none"/>
<path d="M378.9 543.2l0.7 -1.9M367 543.6l1.4 1.4M381.6 543.2l1.4 1.4M392.6 544.5l1.2 1.6M355.7 550.6l1.6 -1.2M385.3 549l2 -0.1M363.8 550.9l2 -0.1M367 551.1l1.9 0.6M394.1 550.2l1.8 0.9M389 552.8l2 -0M355.8 553.3l1.4 1.4M373.1 554.4l2 -0.2M394.2 555.6l1.4 -1.4M361.9 556l2 -0.4M366.5 555.1l1 1.7M389.2 556.7l2 0.1M395.3 556.1l1.8 0.9M377.5 557.3l1.9 0.7M383.4 557.3l1.8 0.8M361.9 559.6l1.9 0.6M369.4 560l1.5 -1.4M365.9 563.5l1.6 -1.1M379.1 563.7l1.9 0.5M357.4 563.4l1.5 1.3M380.7 564.6l2 0.1M383.2 564.9l2 -0M391.5 565l2 -0.1M377.7 569l2 -0M371.9 569.9l1.9 0.6M391.7 569.5l2 0.3M384 571.8l1.9 -0.7M390.6 571.7l1.9 -0.5M368.4 573.4l1.9 0.7M373.3 573.4l1.7 1M392.3 573.2l2 0.2M364.9 575.3l1.8 0.9M380.6 576.2l1.9 -0.6M384.4 576.5l1.8 -0.8M387.1 576.5l1.8 -0.9M368 578.1l1.4 1.4M383.5 578.4l1.9 0.6" stroke="#e6c688" stroke-width="1.15" stroke-linecap="round" fill="none"/>
<path d="M384.5 540.1l1.7 1M365.4 542.4l2 -0.3M373.1 541.9l1.7 1.1M383.2 543.4l1.2 -1.6M361.7 543.6l1.9 0.7M370.4 543.6l2 -0.2M374 543.2l1.9 0.7M377.3 544.5l2 -0.3M385.5 544.6l1.2 -1.6M373.5 545.2l2 -0.2M375.4 545.7l1.8 -0.9M373.7 547.9l2 -0.3M362.6 549.3l1.6 -1.3M388.5 549.4l1.9 -0.6M375.7 550.1l0.2 2M378.1 550.6l1.9 0.5M384.3 550.5l2 -0.4M367.7 553.9l1.9 0.7M396.1 553.9l1.6 1.2M392.4 556.5l1.9 -0.6M387.4 558.1l2 0.1M356.7 560.6l1.2 -1.6M382.3 559.1l2 0M353.9 561.9l2 -0.4M357.8 559.7l1.5 1.3M387.1 561.3l1.9 0.5M396.8 561.4l1.9 0.8M362.6 563.2l1.9 0.7M354 564.7l2 -0.2M387.1 563.9l1 1.7M372.6 567.3l1.4 -1.5M378.2 567.4l1.8 -0.8M382.9 566.1l1.6 1.2M370.8 568.2l1.8 0.8M374.4 569.1l1.7 -1M381 569.3l1.8 -1M368.5 570.4l2 -0.1M382.2 570.3l1.9 -0.7M364.4 570.3l1.4 1.4M363.1 574.4l1.3 -1.5M388.1 572.7l1.9 0.7M367.7 576.8l1.1 -1.6M370.7 576.3l0.7 -1.9M381.8 576.8l2 0.1M388.4 576.5l1.9 0.5" stroke="#dab470" stroke-width="1.15" stroke-linecap="round" fill="none"/>
<path d="M367 540.6l2 -0.3M380 540.5l2 -0.2M388.8 542.4l2 0.1M364.9 543.8l2 0.3M366.3 546.5l1.9 -0.5M378.3 545.8l1.9 -0.5M381.9 546.7l1.9 -0.7M386.1 545.8l1.4 -1.4M364.1 547.3l1.9 0.5M370.1 547.9l2 -0.4M376.7 547.1l1.4 1.4M387.6 546.6l0.5 1.9M359.3 549.7l2 -0.4M388.1 550.5l1.7 1M359.5 552.7l2 -0.3M365.9 552.9l1.7 -1.1M392.8 551.4l1.4 1.4M363.6 554.1l1.8 0.8M370.7 554.9l1.4 -1.5M380 554.9l2 -0.4M384.2 554.4l1.9 -0.8M359.6 555.3l2 0.2M369.7 556.3l1.6 1.1M376.3 556.1l2 0.3M379.9 556.3l1.8 -0.8M381.9 556.1l2 0.1M357.8 557.7l1.5 1.3M366.4 557.9l1.9 -0.7M394 558.6l1.9 -0.6M359.7 559.1l1.9 0.7M378.9 559.7l2 0.3M386.5 560.3l1.6 -1.2M395.6 558.9l1.9 0.5M364 561.3l2 -0.3M367.1 561.3l1.6 -1.2M380.7 561.1l2 0.2M384.9 560.3l1.6 1.1M355.8 563.2l2 0.3M375.2 563.2l2 -0.2M382.2 563.3l2 -0.1M395.7 564.2l1.7 -1M393.6 564.7l1.9 0.7M386 565.8l0.9 1.8M354.7 567.4l1.6 1.2M356.8 567.7l1.9 0.5M363.7 568.7l1.9 -0.5M386.9 568.5l1.9 -0.7M391.5 567.9l1.8 0.8M393.2 568.8l2 0M359.6 570.2l1.9 -0.5M362.4 570.5l2 -0.4M366.7 569.3l1.7 1M356.9 570.8l2 0.4M360.4 572.7l1.9 -0.5M371.6 573.2l1 -1.7M359.2 573.7l2 0.2M366 576.3l2 0.2" stroke="#efd6a2" stroke-width="1.15" stroke-linecap="round" fill="none"/>
<path d="M389.2 545.1l1.9 0.5M357.3 548.1l2 -0.4M360.9 548l1.9 -0.7M380.7 548l1.6 -1.2M366.8 549.1l2 -0.4M376.1 548.7l2 0.4M378.9 549.9l1.7 -1M360.7 550.7l2 0.2M380.3 551.4l2 -0.3M390.4 550.5l2 0.1M368.7 552l1.8 0.9M373.6 552.9l2 0M375.8 553.1l1.9 -0.5M379.2 553l2 0M381.6 552.3l2 0.1M378 555l1.7 -1M356.3 556.4l1.9 -0.7M372.5 555.9l2 0.1M384.9 556.2l1.9 -0.5M360.9 557.8l1.3 1.5M364.7 557.4l1.6 1.2M370.6 557.9l2 -0.3M373.6 558.2l1.9 0.5M390.7 557.3l1.5 1.4M396.8 556.5l1.2 1.6M366.3 560.1l1.9 -0.4M375.4 559.2l1.9 0.5M389.2 559.3l1.7 1.1M392.5 558.7l1.8 0.9M397.6 559l2 0.2M371 560.7l1.9 0.7M374.5 560.7l1.9 0.7M377.3 561.1l1.9 -0.7M394.2 560.2l1.5 1.3M359.6 563.6l2 -0.4M369.2 563.2l1.8 -1M373.2 563.4l1.8 0.8M388.9 563l2 -0.3M391.6 562.8l1.9 0.8M360.6 566.4l1.5 -1.3M373.8 566.5l1 -1.7M359.8 566l1.9 0.7M366.2 565.8l0.6 1.9M368.7 566.7l2 -0.2M375.9 565.9l1.8 0.8M388.7 566.7l1.9 0.4M392.2 566.6l2 0.3M367.5 569.4l2 -0.3M375.2 570.4l1.9 -0.7M366.8 572.9l1.7 -1.1M373.6 570.9l1.9 0.7M380.9 571.7l1.8 0.8M387.3 572.5l1.4 -1.4M375.7 574.3l2 -0.4M379.7 572.3l1.4 1.4M377.6 575.7l2 0.4M379.2 577.7l1.6 -1.2M387 579.4l1.7 -1.1M383.1 580l1.8 0.8" stroke="#d2a660" stroke-width="1.15" stroke-linecap="round" fill="none"/>
<path d="M372.1 540.3l1.6 1.3M368.5 542.2l1.8 -0.9M376.3 541.1l1.7 1M387.5 542.9l2 0.1M361.8 545.9l1.8 0.8M370.3 546l1.3 -1.5M367.2 547l2 0.4M384.3 547.8l2 -0.3M391.4 547.9l1.5 -1.3M394.6 548l1.7 -1M368.7 549l2 0.3M372.3 548.2l1.8 0.9M382.8 548.9l2 0.3M392.9 549.4l2 -0.1M357.2 550.7l1.8 0.8M370.5 551.3l2 -0M362.1 552.5l2 -0.1M385.7 551.2l0.9 1.8M358.4 553.3l0.5 1.9M362.1 553.9l1.7 1.1M388 555.2l2 -0.4M390.2 554.4l1.9 0.7M380.3 556.9l1.8 0.8M372.9 560.3l1.7 -1M362 561.5l1.9 0.5M391.7 560.8l1.8 1M385.4 563.5l1.5 -1.3M363.7 564.8l2 0.4M367.2 565l2 -0.2M371.1 565l1.7 1.1M377.2 565.1l1.9 -0.5M362.8 566l1.7 1M360.7 569l1.9 -0.7M384.1 568.4l1.9 -0.5M397.9 568.7l1.2 -1.6M378.5 570.7l2 -0.4M385.6 570.6l1.8 -0.9M389.7 570l1.7 -1M378.2 572.3l0.8 -1.8M366.8 572.8l1.2 1.6M382.4 572.3l0.4 2M385.8 572.2l1.9 0.5M374.3 575.3l1.8 -0.9M390.2 575.7l2 -0.1M369.3 577l2 0M372.4 576l1.4 1.5M375.8 577l1.9 -0.7M386.1 578l1.5 -1.3M374.4 578.9l2 0.1M377.2 578.2l1.6 1.2M369.6 580.4l1.7 1M373.1 581l1.6 -1.2M379.5 581.3l1.5 -1.3" stroke="#e2bc7c" stroke-width="1.15" stroke-linecap="round" fill="none"/>
<path d="M422.7 549.9l1.6 1.2M425.2 549.8l1.8 0.9M420 552.7l1.9 0.7M423.8 551.4l1.4 1.4M426 551.8l1.6 1.2M429.6 551.6l1.3 1.5M418.1 555.5l1.9 -0.7M422.8 554.4l2 -0.3M425.2 553.7l1.6 1.3M428.6 553l1.2 1.6M431.3 554.4l2 0M419.3 555.4l2 -0.3M423 556.4l1.8 -0.9M426.4 555.9l1.8 -0.9M430.2 554.5l2 -0.4M418.4 557.6l1.9 -0.6M421.4 557.8l1.7 -1.1M424.8 557.5l1.9 0.4M428.7 557.8l1.1 -1.7M430.8 557.9l1.7 -1M420.2 558.6l1.7 1M424.4 558.8l1.7 1.1M427.6 558.1l1.1 1.7M430.1 559.7l2 -0.2M421.6 560.7l1.7 1.1M425.7 560l1.7 1.1M428.7 560.7l1.5 1.3M427.4 562.9l1.4 -1.4" stroke="#8a6430" stroke-width="1.75" stroke-linecap="round" fill="none"/>
<path d="M422.8 554.4l2 -0.3M423 556.4l1.8 -0.9M426.4 555.9l1.8 -0.9M430.2 554.5l2 -0.4M427.6 558.1l1.1 1.7M428.7 560.7l1.5 1.3" stroke="#e6c688" stroke-width="1.15" stroke-linecap="round" fill="none"/>
<path d="M425.2 549.8l1.8 0.9M418.1 555.5l1.9 -0.7M428.6 553l1.2 1.6M418.4 557.6l1.9 -0.6M430.1 559.7l2 -0.2" stroke="#dab470" stroke-width="1.15" stroke-linecap="round" fill="none"/>
<path d="M422.7 549.9l1.6 1.2M424.8 557.5l1.9 0.4M428.7 557.8l1.1 -1.7M430.8 557.9l1.7 -1M424.4 558.8l1.7 1.1M427.4 562.9l1.4 -1.4" stroke="#efd6a2" stroke-width="1.15" stroke-linecap="round" fill="none"/>
<path d="M423.8 551.4l1.4 1.4M429.6 551.6l1.3 1.5M425.2 553.7l1.6 1.3M431.3 554.4l2 0M419.3 555.4l2 -0.3M420.2 558.6l1.7 1M421.6 560.7l1.7 1.1" stroke="#d2a660" stroke-width="1.15" stroke-linecap="round" fill="none"/>
<path d="M420 552.7l1.9 0.7M426 551.8l1.6 1.2M421.4 557.8l1.7 -1.1M425.7 560l1.7 1.1" stroke="#e2bc7c" stroke-width="1.15" stroke-linecap="round" fill="none"/>
<path d="M463.7 547.5l1.4 -1.4M459.2 548.7l1.9 -0.6M461.8 548.2l2 0.1M465.9 548l1.6 1.2M467.8 549.3l2 -0.3M457.9 551.3l1.1 -1.6M461 550.3l2 -0.1M463.5 549.9l1.8 0.9M467.2 549.8l1.3 1.5M470.1 549.6l1.9 0.5M455.2 552l1.7 -1.1M458.6 551.4l2 0.4M462.4 552l1.9 0.8M465.1 552.1l1.9 -0.5M468.1 552.4l2 0.4M457.5 553.3l2 -0M460.6 552.8l1.8 0.8M463.2 554.1l2 -0.3M467.3 552.8l0.5 1.9M469.5 552.9l1.8 0.9M455.5 555.8l1.4 -1.4M457.9 556.2l2 -0.2M461.4 555.7l2 0.1M465.7 556.2l1.8 -0.9M468.8 555.1l1.8 1M472.4 556.1l2 -0.2M454.2 557.7l2 0.4M457.7 556.8l1.7 1M460.8 556.9l1.9 0.5M464.5 556.6l2 -0.1M467 557.1l1.7 1M470.3 557.3l2 -0.1M457.2 558.6l0.5 1.9M458.2 558.6l1.9 0.5M461.9 559.1l2 0.3M465.8 559.8l1.4 -1.4M468.6 558.6l1.7 1.1M472 559.4l2 0M456.5 560.2l1.9 -0.7M460.4 560.6l2 -0.1M463.1 560.4l2 0.4M467.2 561.2l1.9 -0.7M469.9 560.3l1.9 0.6M458.6 562.6l2 0M461.8 562l1.9 -0.5M465.3 562l1.8 0.8M459.8 564.4l2 -0.3M463.8 563.1l2 0.1" stroke="#8a6430" stroke-width="1.75" stroke-linecap="round" fill="none"/>
<path d="M459.2 548.7l1.9 -0.6M461 550.3l2 -0.1M462.4 552l1.9 0.8M463.2 554.1l2 -0.3M465.7 556.2l1.8 -0.9M457.7 556.8l1.7 1M468.6 558.6l1.7 1.1M472 559.4l2 0M463.1 560.4l2 0.4M469.9 560.3l1.9 0.6M458.6 562.6l2 0" stroke="#e6c688" stroke-width="1.15" stroke-linecap="round" fill="none"/>
<path d="M461.8 548.2l2 0.1M463.5 549.9l1.8 0.9M468.1 552.4l2 0.4M461.4 555.7l2 0.1M454.2 557.7l2 0.4M467 557.1l1.7 1M460.4 560.6l2 -0.1" stroke="#dab470" stroke-width="1.15" stroke-linecap="round" fill="none"/>
<path d="M465.9 548l1.6 1.2M458.6 551.4l2 0.4M460.6 552.8l1.8 0.8M468.8 555.1l1.8 1M457.2 558.6l0.5 1.9M458.2 558.6l1.9 0.5M456.5 560.2l1.9 -0.7" stroke="#efd6a2" stroke-width="1.15" stroke-linecap="round" fill="none"/>
<path d="M467.8 549.3l2 -0.3M457.9 551.3l1.1 -1.6M467.2 549.8l1.3 1.5M470.1 549.6l1.9 0.5M467.3 552.8l0.5 1.9M460.8 556.9l1.9 0.5M464.5 556.6l2 -0.1M467.2 561.2l1.9 -0.7M461.8 562l1.9 -0.5M465.3 562l1.8 0.8" stroke="#d2a660" stroke-width="1.15" stroke-linecap="round" fill="none"/>
<path d="M463.7 547.5l1.4 -1.4M455.2 552l1.7 -1.1M465.1 552.1l1.9 -0.5M457.5 553.3l2 -0M469.5 552.9l1.8 0.9M455.5 555.8l1.4 -1.4M457.9 556.2l2 -0.2M472.4 556.1l2 -0.2M470.3 557.3l2 -0.1M461.9 559.1l2 0.3M465.8 559.8l1.4 -1.4M459.8 564.4l2 -0.3M463.8 563.1l2 0.1" stroke="#e2bc7c" stroke-width="1.15" stroke-linecap="round" fill="none"/>
<text x="499.2" y="359.2" font-size="10" font-weight="bold">i</text>
<line x1="537.1" y1="366.8" x2="537.1" y2="589.9" stroke="#231815" stroke-width="1.7"/>
<line x1="532.1" y1="589" x2="537.1" y2="589" stroke="#231815" stroke-width="1.7"/>
<text x="529.6" y="592.2" font-size="9" text-anchor="end">0</text>
<line x1="532.1" y1="544.7" x2="537.1" y2="544.7" stroke="#231815" stroke-width="1.7"/>
<text x="529.6" y="548" font-size="9" text-anchor="end">20</text>
<line x1="532.1" y1="500.5" x2="537.1" y2="500.5" stroke="#231815" stroke-width="1.7"/>
<text x="529.6" y="503.7" font-size="9" text-anchor="end">40</text>
<line x1="532.1" y1="456.2" x2="537.1" y2="456.2" stroke="#231815" stroke-width="1.7"/>
<text x="529.6" y="459.4" font-size="9" text-anchor="end">60</text>
<line x1="532.1" y1="411.9" x2="537.1" y2="411.9" stroke="#231815" stroke-width="1.7"/>
<text x="529.6" y="415.2" font-size="9" text-anchor="end">80</text>
<line x1="532.1" y1="367.7" x2="537.1" y2="367.7" stroke="#231815" stroke-width="1.7"/>
<text x="529.6" y="370.9" font-size="9" text-anchor="end">100</text>
<line x1="536.2" y1="589" x2="685" y2="589" stroke="#231815" stroke-width="1.7"/>
<line x1="537.2" y1="589" x2="537.2" y2="594.9" stroke="#231815" stroke-width="1.7"/>
<line x1="585.7" y1="589" x2="585.7" y2="594.9" stroke="#231815" stroke-width="1.7"/>
<line x1="634.5" y1="589" x2="634.5" y2="594.9" stroke="#231815" stroke-width="1.7"/>
<line x1="683.4" y1="589" x2="683.4" y2="594.9" stroke="#231815" stroke-width="1.7"/>
<text transform="translate(513.8 472.6) rotate(-90)" font-size="9" text-anchor="middle" textLength="95" lengthAdjust="spacingAndGlyphs">Seed-setting rate (%)</text>
<rect x="551" y="389.9" width="21.7" height="198.5" fill="#0e7a3b"/>
<rect x="599.6" y="557.7" width="21.6" height="30.7" fill="#3a58a8"/>
<rect x="648.4" y="562.1" width="22.2" height="26.3" fill="#3a58a8"/>
<path d="M558.8 379.4h0M564.6 380.2h0M560.4 389h0M561.6 391.6h0M559.6 393.2h0M562.4 387.4h0" stroke="#3b3b3b" stroke-width="5.0" stroke-linecap="round" fill="none"/>
<line x1="561.8" y1="384.4" x2="561.8" y2="395" stroke="#111" stroke-width="1.1"/>
<line x1="555.5" y1="384.4" x2="568" y2="384.4" stroke="#111" stroke-width="1.1"/>
<line x1="555.5" y1="395" x2="568" y2="395" stroke="#111" stroke-width="1.1"/>
<path d="M606.8 544.1h0M609.6 555.6h0M612.2 557.6h0M608.8 559.4h0M613.6 561.2h0M611 563.6h0M614.6 556.2h0" stroke="#3b3b3b" stroke-width="5.0" stroke-linecap="round" fill="none"/>
<line x1="610.4" y1="551" x2="610.4" y2="563.5" stroke="#111" stroke-width="1.1"/>
<line x1="604.1" y1="551" x2="616.6" y2="551" stroke="#111" stroke-width="1.1"/>
<line x1="604.1" y1="563.5" x2="616.6" y2="563.5" stroke="#111" stroke-width="1.1"/>
<path d="M660.6 549.7h0M653.8 555.8h0M657.6 558.4h0M658.8 564.6h0M663.6 571h0M655.2 578.8h0M660.8 556.2h0" stroke="#3b3b3b" stroke-width="5.0" stroke-linecap="round" fill="none"/>
<line x1="659.6" y1="553.5" x2="659.6" y2="570.2" stroke="#111" stroke-width="1.1"/>
<line x1="653.4" y1="553.5" x2="665.9" y2="553.5" stroke="#111" stroke-width="1.1"/>
<line x1="653.4" y1="570.2" x2="665.9" y2="570.2" stroke="#111" stroke-width="1.1"/>
<text x="562.4" y="601.8" font-size="9" text-anchor="middle">WT</text>
<text x="612" y="601.8" font-size="9" text-anchor="middle">CRI-2</text>
<text x="660.6" y="601.8" font-size="9" text-anchor="middle">CRI-3</text>
<line x1="561.6" y1="358" x2="660" y2="358" stroke="#111" stroke-width="1.4"/>
<line x1="550.5" y1="371.9" x2="606.8" y2="371.9" stroke="#111" stroke-width="1.4"/>
<text x="588" y="355.8" font-size="9.2" textLength="59.6" lengthAdjust="spacingAndGlyphs"><tspan font-style="italic">P</tspan>= 2.16×10<tspan dy="-3.2" font-size="5.1">-21</tspan></text>
<text x="554.6" y="370.2" font-size="9.2" textLength="59.1" lengthAdjust="spacingAndGlyphs"><tspan font-style="italic">P</tspan>= 6.26×10<tspan dy="-3.2" font-size="5.1">-23</tspan></text>
</svg>
</body></html>
